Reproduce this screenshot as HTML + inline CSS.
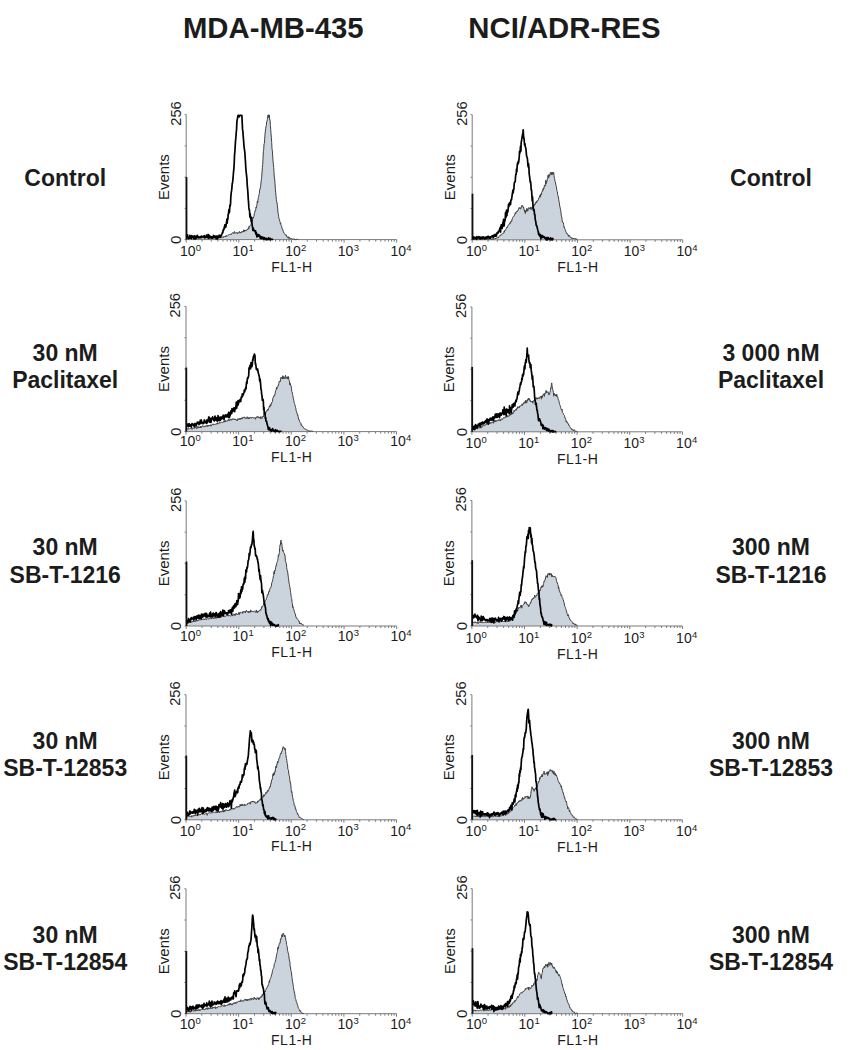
<!DOCTYPE html>
<html><head><meta charset="utf-8"><style>
html,body{margin:0;padding:0;background:#fff;}
svg{display:block;font-family:"Liberation Sans",sans-serif;}
</style></head><body>
<svg width="860" height="1050" viewBox="0 0 860 1050">
<rect width="860" height="1050" fill="#fff"/>
<text x="273.3" y="38" text-anchor="middle" font-size="29.3" font-weight="bold" fill="#1c1c1c">MDA-MB-435</text>
<text x="564.4" y="38" text-anchor="middle" font-size="29.3" font-weight="bold" fill="#1c1c1c">NCI/ADR-RES</text>
<path d="M186.70,239.6 L186.70,238.00 L187.03,238.28 L187.37,238.01 L187.70,237.97 L188.03,237.72 L188.37,237.98 L188.70,238.46 L189.03,238.19 L189.37,238.41 L189.70,238.10 L190.03,238.14 L190.37,238.05 L190.70,237.33 L191.03,238.27 L191.37,238.13 L191.70,238.11 L192.03,237.27 L192.37,237.23 L192.70,237.55 L193.03,237.69 L193.37,237.97 L193.70,237.83 L194.03,238.03 L194.37,237.57 L194.70,237.92 L195.03,237.94 L195.37,237.52 L195.70,238.43 L196.03,237.97 L196.37,238.20 L196.70,237.48 L197.03,237.42 L197.37,237.56 L197.70,237.64 L198.03,237.92 L198.37,237.77 L198.70,237.50 L199.03,237.30 L199.37,237.47 L199.70,238.15 L200.03,237.36 L200.37,237.77 L200.70,237.84 L201.03,237.10 L201.37,237.69 L201.70,238.18 L202.03,236.89 L202.37,237.55 L202.70,237.63 L203.03,237.36 L203.37,237.87 L203.70,237.65 L204.03,237.11 L204.37,238.00 L204.70,237.93 L205.03,238.04 L205.37,238.23 L205.70,237.82 L206.03,237.72 L206.37,237.17 L206.70,237.91 L207.03,237.44 L207.37,237.50 L207.70,237.18 L208.03,237.30 L208.37,237.47 L208.70,238.18 L209.03,236.88 L209.37,237.11 L209.70,237.77 L210.03,238.24 L210.37,237.90 L210.70,236.94 L211.03,236.70 L211.37,237.81 L211.70,237.39 L212.03,237.23 L212.37,238.04 L212.70,238.07 L213.03,237.69 L213.37,237.71 L213.70,237.77 L214.03,238.21 L214.37,237.81 L214.70,237.76 L215.03,237.76 L215.37,236.91 L215.70,238.02 L216.03,237.87 L216.37,237.69 L216.70,236.69 L217.03,237.20 L217.37,237.77 L217.70,236.71 L218.03,237.34 L218.37,237.80 L218.70,236.86 L219.03,238.01 L219.37,237.58 L219.70,237.28 L220.03,237.46 L220.37,237.57 L220.70,237.35 L221.03,237.74 L221.37,237.00 L221.70,237.08 L222.03,237.59 L222.37,237.11 L222.70,236.65 L223.03,237.33 L223.37,237.47 L223.70,236.60 L224.03,236.13 L224.37,236.57 L224.70,236.49 L225.03,236.34 L225.37,237.00 L225.70,235.87 L226.03,236.74 L226.37,235.47 L226.70,235.51 L227.03,235.98 L227.37,236.04 L227.70,235.75 L228.03,235.35 L228.37,235.09 L228.70,234.93 L229.03,234.96 L229.37,234.44 L229.70,234.49 L230.03,234.47 L230.37,234.03 L230.70,234.23 L231.03,233.97 L231.37,234.52 L231.70,233.52 L232.03,232.98 L232.37,232.84 L232.70,232.85 L233.03,233.26 L233.37,232.62 L233.70,232.99 L234.03,233.73 L234.37,231.48 L234.70,232.22 L235.03,232.92 L235.37,232.99 L235.70,232.91 L236.03,232.57 L236.37,233.13 L236.70,232.93 L237.03,232.52 L237.37,234.03 L237.70,232.97 L238.03,232.51 L238.37,232.74 L238.70,232.68 L239.03,232.76 L239.37,231.40 L239.70,232.54 L240.03,233.22 L240.37,231.97 L240.70,232.40 L241.03,232.80 L241.37,232.62 L241.70,232.82 L242.03,231.01 L242.37,231.58 L242.70,231.45 L243.03,231.84 L243.37,231.96 L243.70,229.79 L244.03,231.69 L244.37,230.18 L244.70,231.21 L245.03,229.88 L245.37,230.67 L245.70,231.10 L246.03,230.22 L246.37,230.28 L246.70,230.48 L247.03,229.76 L247.37,229.18 L247.70,229.68 L248.03,228.96 L248.37,227.72 L248.70,229.10 L249.03,226.32 L249.37,227.12 L249.70,225.96 L250.03,225.76 L250.37,225.68 L250.70,224.93 L251.03,224.66 L251.37,222.25 L251.70,221.24 L252.03,221.67 L252.37,219.58 L252.70,218.53 L253.03,217.20 L253.37,218.16 L253.70,216.80 L254.03,216.17 L254.37,213.14 L254.70,212.63 L255.03,210.51 L255.37,210.79 L255.70,210.24 L256.03,207.01 L256.37,207.80 L256.70,206.12 L257.03,203.92 L257.37,201.16 L257.70,202.85 L258.03,200.13 L258.37,197.68 L258.70,196.58 L259.03,194.60 L259.37,193.62 L259.70,189.25 L260.03,189.32 L260.37,187.68 L260.70,185.66 L261.03,182.04 L261.37,179.46 L261.70,177.39 L262.03,172.00 L262.37,167.57 L262.70,164.59 L263.03,158.24 L263.37,151.41 L263.70,149.53 L264.03,143.96 L264.37,143.45 L264.70,139.05 L265.03,134.10 L265.37,131.09 L265.70,128.80 L266.03,125.81 L266.37,125.47 L266.70,121.63 L267.03,121.11 L267.37,119.73 L267.70,117.90 L268.03,115.08 L268.37,117.64 L268.70,114.65 L269.03,115.86 L269.37,115.12 L269.70,119.67 L270.03,119.50 L270.37,125.36 L270.70,129.35 L271.03,133.78 L271.37,137.30 L271.70,142.55 L272.03,148.74 L272.37,151.07 L272.70,156.08 L273.03,161.05 L273.37,164.13 L273.70,167.42 L274.03,172.58 L274.37,178.06 L274.70,179.05 L275.03,183.91 L275.37,189.25 L275.70,192.80 L276.03,195.84 L276.37,199.42 L276.70,201.51 L277.03,203.04 L277.37,205.41 L277.70,208.86 L278.03,212.75 L278.37,214.28 L278.70,216.72 L279.03,218.75 L279.37,219.23 L279.70,221.21 L280.03,221.50 L280.37,223.52 L280.70,222.77 L281.03,225.49 L281.37,225.89 L281.70,226.12 L282.03,228.71 L282.37,229.13 L282.70,229.05 L283.03,230.81 L283.37,231.95 L283.70,232.00 L284.03,233.08 L284.37,233.50 L284.70,233.90 L285.03,234.17 L285.37,235.09 L285.70,235.21 L286.03,235.55 L286.37,234.86 L286.70,236.62 L287.03,237.23 L287.37,236.90 L287.70,236.95 L288.03,238.05 L288.37,236.69 L288.70,237.70 L289.03,238.59 L289.37,237.41 L289.70,238.16 L290.03,238.73 L290.37,238.10 L290.70,238.47 L291.03,238.72 L291.37,238.20 L291.70,238.61 L292.03,238.87 L292.37,239.17 L292.70,239.01 L293.03,239.02 L293.37,238.78 L293.70,239.02 L294.03,239.44 L294.37,239.22 L294.70,238.94 L295.03,238.97 L295.37,239.60 L295.70,239.60 L296.03,239.31 L296.37,239.33 L296.70,239.36 L297.03,239.38 L297.37,239.41 L297.70,239.43 L298.03,239.46 L298.37,239.48 L298.37,239.6 Z" fill="#cbd3dd" stroke="none"/>
<line x1="186.2" y1="114.65" x2="186.2" y2="239.6" stroke="#7a7a7a" stroke-width="1"/>
<line x1="184.6" y1="114.65" x2="186.2" y2="114.65" stroke="#7a7a7a" stroke-width="1"/>
<line x1="184.6" y1="145.89" x2="186.2" y2="145.89" stroke="#7a7a7a" stroke-width="1"/>
<line x1="184.6" y1="177.12" x2="186.2" y2="177.12" stroke="#7a7a7a" stroke-width="1"/>
<line x1="184.6" y1="208.36" x2="186.2" y2="208.36" stroke="#7a7a7a" stroke-width="1"/>
<line x1="184.6" y1="239.60" x2="186.2" y2="239.60" stroke="#7a7a7a" stroke-width="1"/>
<line x1="186.2" y1="239.6" x2="396.7" y2="239.6" stroke="#7a7a7a" stroke-width="1"/>
<line x1="186.20" y1="239.6" x2="186.20" y2="242.6" stroke="#7a7a7a" stroke-width="1"/>
<line x1="202.04" y1="239.6" x2="202.04" y2="241.6" stroke="#7a7a7a" stroke-width="1"/>
<line x1="211.31" y1="239.6" x2="211.31" y2="241.6" stroke="#7a7a7a" stroke-width="1"/>
<line x1="217.88" y1="239.6" x2="217.88" y2="241.6" stroke="#7a7a7a" stroke-width="1"/>
<line x1="222.98" y1="239.6" x2="222.98" y2="241.6" stroke="#7a7a7a" stroke-width="1"/>
<line x1="227.15" y1="239.6" x2="227.15" y2="241.6" stroke="#7a7a7a" stroke-width="1"/>
<line x1="230.67" y1="239.6" x2="230.67" y2="241.6" stroke="#7a7a7a" stroke-width="1"/>
<line x1="233.73" y1="239.6" x2="233.73" y2="241.6" stroke="#7a7a7a" stroke-width="1"/>
<line x1="236.42" y1="239.6" x2="236.42" y2="241.6" stroke="#7a7a7a" stroke-width="1"/>
<line x1="238.82" y1="239.6" x2="238.82" y2="242.6" stroke="#7a7a7a" stroke-width="1"/>
<line x1="254.67" y1="239.6" x2="254.67" y2="241.6" stroke="#7a7a7a" stroke-width="1"/>
<line x1="263.93" y1="239.6" x2="263.93" y2="241.6" stroke="#7a7a7a" stroke-width="1"/>
<line x1="270.51" y1="239.6" x2="270.51" y2="241.6" stroke="#7a7a7a" stroke-width="1"/>
<line x1="275.61" y1="239.6" x2="275.61" y2="241.6" stroke="#7a7a7a" stroke-width="1"/>
<line x1="279.78" y1="239.6" x2="279.78" y2="241.6" stroke="#7a7a7a" stroke-width="1"/>
<line x1="283.30" y1="239.6" x2="283.30" y2="241.6" stroke="#7a7a7a" stroke-width="1"/>
<line x1="286.35" y1="239.6" x2="286.35" y2="241.6" stroke="#7a7a7a" stroke-width="1"/>
<line x1="289.04" y1="239.6" x2="289.04" y2="241.6" stroke="#7a7a7a" stroke-width="1"/>
<line x1="291.45" y1="239.6" x2="291.45" y2="242.6" stroke="#7a7a7a" stroke-width="1"/>
<line x1="307.29" y1="239.6" x2="307.29" y2="241.6" stroke="#7a7a7a" stroke-width="1"/>
<line x1="316.56" y1="239.6" x2="316.56" y2="241.6" stroke="#7a7a7a" stroke-width="1"/>
<line x1="323.13" y1="239.6" x2="323.13" y2="241.6" stroke="#7a7a7a" stroke-width="1"/>
<line x1="328.23" y1="239.6" x2="328.23" y2="241.6" stroke="#7a7a7a" stroke-width="1"/>
<line x1="332.40" y1="239.6" x2="332.40" y2="241.6" stroke="#7a7a7a" stroke-width="1"/>
<line x1="335.92" y1="239.6" x2="335.92" y2="241.6" stroke="#7a7a7a" stroke-width="1"/>
<line x1="338.98" y1="239.6" x2="338.98" y2="241.6" stroke="#7a7a7a" stroke-width="1"/>
<line x1="341.67" y1="239.6" x2="341.67" y2="241.6" stroke="#7a7a7a" stroke-width="1"/>
<line x1="344.07" y1="239.6" x2="344.07" y2="242.6" stroke="#7a7a7a" stroke-width="1"/>
<line x1="359.92" y1="239.6" x2="359.92" y2="241.6" stroke="#7a7a7a" stroke-width="1"/>
<line x1="369.18" y1="239.6" x2="369.18" y2="241.6" stroke="#7a7a7a" stroke-width="1"/>
<line x1="375.76" y1="239.6" x2="375.76" y2="241.6" stroke="#7a7a7a" stroke-width="1"/>
<line x1="380.86" y1="239.6" x2="380.86" y2="241.6" stroke="#7a7a7a" stroke-width="1"/>
<line x1="385.03" y1="239.6" x2="385.03" y2="241.6" stroke="#7a7a7a" stroke-width="1"/>
<line x1="388.55" y1="239.6" x2="388.55" y2="241.6" stroke="#7a7a7a" stroke-width="1"/>
<line x1="391.60" y1="239.6" x2="391.60" y2="241.6" stroke="#7a7a7a" stroke-width="1"/>
<line x1="394.29" y1="239.6" x2="394.29" y2="241.6" stroke="#7a7a7a" stroke-width="1"/>
<line x1="396.70" y1="239.6" x2="396.70" y2="242.6" stroke="#7a7a7a" stroke-width="1"/>
<text transform="translate(180.5,113.55000000000001) rotate(-90)" text-anchor="middle" font-size="14.6" fill="#1c1c1c">256</text>
<text transform="translate(180.89999999999998,239.79999999999998) rotate(-90)" text-anchor="middle" font-size="15" fill="#1c1c1c">0</text>
<text transform="translate(168.7,177.125) rotate(-90)" text-anchor="middle" font-size="15" fill="#1c1c1c">Events</text>
<text x="179.90" y="256.10" font-size="14" fill="#1c1c1c">10<tspan font-size="9.5" dy="-5.3" dx="0.3">0</tspan></text>
<text x="232.52" y="256.10" font-size="14" fill="#1c1c1c">10<tspan font-size="9.5" dy="-5.3" dx="0.3">1</tspan></text>
<text x="285.15" y="256.10" font-size="14" fill="#1c1c1c">10<tspan font-size="9.5" dy="-5.3" dx="0.3">2</tspan></text>
<text x="337.77" y="256.10" font-size="14" fill="#1c1c1c">10<tspan font-size="9.5" dy="-5.3" dx="0.3">3</tspan></text>
<text x="390.40" y="256.10" font-size="14" fill="#1c1c1c">10<tspan font-size="9.5" dy="-5.3" dx="0.3">4</tspan></text>
<text x="291.95" y="271.80" text-anchor="middle" font-size="14" letter-spacing="0.5" fill="#1c1c1c">FL1-H</text>
<path d="M186.70,238.00 L187.03,238.28 L187.37,238.01 L187.70,237.97 L188.03,237.72 L188.37,237.98 L188.70,238.46 L189.03,238.19 L189.37,238.41 L189.70,238.10 L190.03,238.14 L190.37,238.05 L190.70,237.33 L191.03,238.27 L191.37,238.13 L191.70,238.11 L192.03,237.27 L192.37,237.23 L192.70,237.55 L193.03,237.69 L193.37,237.97 L193.70,237.83 L194.03,238.03 L194.37,237.57 L194.70,237.92 L195.03,237.94 L195.37,237.52 L195.70,238.43 L196.03,237.97 L196.37,238.20 L196.70,237.48 L197.03,237.42 L197.37,237.56 L197.70,237.64 L198.03,237.92 L198.37,237.77 L198.70,237.50 L199.03,237.30 L199.37,237.47 L199.70,238.15 L200.03,237.36 L200.37,237.77 L200.70,237.84 L201.03,237.10 L201.37,237.69 L201.70,238.18 L202.03,236.89 L202.37,237.55 L202.70,237.63 L203.03,237.36 L203.37,237.87 L203.70,237.65 L204.03,237.11 L204.37,238.00 L204.70,237.93 L205.03,238.04 L205.37,238.23 L205.70,237.82 L206.03,237.72 L206.37,237.17 L206.70,237.91 L207.03,237.44 L207.37,237.50 L207.70,237.18 L208.03,237.30 L208.37,237.47 L208.70,238.18 L209.03,236.88 L209.37,237.11 L209.70,237.77 L210.03,238.24 L210.37,237.90 L210.70,236.94 L211.03,236.70 L211.37,237.81 L211.70,237.39 L212.03,237.23 L212.37,238.04 L212.70,238.07 L213.03,237.69 L213.37,237.71 L213.70,237.77 L214.03,238.21 L214.37,237.81 L214.70,237.76 L215.03,237.76 L215.37,236.91 L215.70,238.02 L216.03,237.87 L216.37,237.69 L216.70,236.69 L217.03,237.20 L217.37,237.77 L217.70,236.71 L218.03,237.34 L218.37,237.80 L218.70,236.86 L219.03,238.01 L219.37,237.58 L219.70,237.28 L220.03,237.46 L220.37,237.57 L220.70,237.35 L221.03,237.74 L221.37,237.00 L221.70,237.08 L222.03,237.59 L222.37,237.11 L222.70,236.65 L223.03,237.33 L223.37,237.47 L223.70,236.60 L224.03,236.13 L224.37,236.57 L224.70,236.49 L225.03,236.34 L225.37,237.00 L225.70,235.87 L226.03,236.74 L226.37,235.47 L226.70,235.51 L227.03,235.98 L227.37,236.04 L227.70,235.75 L228.03,235.35 L228.37,235.09 L228.70,234.93 L229.03,234.96 L229.37,234.44 L229.70,234.49 L230.03,234.47 L230.37,234.03 L230.70,234.23 L231.03,233.97 L231.37,234.52 L231.70,233.52 L232.03,232.98 L232.37,232.84 L232.70,232.85 L233.03,233.26 L233.37,232.62 L233.70,232.99 L234.03,233.73 L234.37,231.48 L234.70,232.22 L235.03,232.92 L235.37,232.99 L235.70,232.91 L236.03,232.57 L236.37,233.13 L236.70,232.93 L237.03,232.52 L237.37,234.03 L237.70,232.97 L238.03,232.51 L238.37,232.74 L238.70,232.68 L239.03,232.76 L239.37,231.40 L239.70,232.54 L240.03,233.22 L240.37,231.97 L240.70,232.40 L241.03,232.80 L241.37,232.62 L241.70,232.82 L242.03,231.01 L242.37,231.58 L242.70,231.45 L243.03,231.84 L243.37,231.96 L243.70,229.79 L244.03,231.69 L244.37,230.18 L244.70,231.21 L245.03,229.88 L245.37,230.67 L245.70,231.10 L246.03,230.22 L246.37,230.28 L246.70,230.48 L247.03,229.76 L247.37,229.18 L247.70,229.68 L248.03,228.96 L248.37,227.72 L248.70,229.10 L249.03,226.32 L249.37,227.12 L249.70,225.96 L250.03,225.76 L250.37,225.68 L250.70,224.93 L251.03,224.66 L251.37,222.25 L251.70,221.24 L252.03,221.67 L252.37,219.58 L252.70,218.53 L253.03,217.20 L253.37,218.16 L253.70,216.80 L254.03,216.17 L254.37,213.14 L254.70,212.63 L255.03,210.51 L255.37,210.79 L255.70,210.24 L256.03,207.01 L256.37,207.80 L256.70,206.12 L257.03,203.92 L257.37,201.16 L257.70,202.85 L258.03,200.13 L258.37,197.68 L258.70,196.58 L259.03,194.60 L259.37,193.62 L259.70,189.25 L260.03,189.32 L260.37,187.68 L260.70,185.66 L261.03,182.04 L261.37,179.46 L261.70,177.39 L262.03,172.00 L262.37,167.57 L262.70,164.59 L263.03,158.24 L263.37,151.41 L263.70,149.53 L264.03,143.96 L264.37,143.45 L264.70,139.05 L265.03,134.10 L265.37,131.09 L265.70,128.80 L266.03,125.81 L266.37,125.47 L266.70,121.63 L267.03,121.11 L267.37,119.73 L267.70,117.90 L268.03,115.08 L268.37,117.64 L268.70,114.65 L269.03,115.86 L269.37,115.12 L269.70,119.67 L270.03,119.50 L270.37,125.36 L270.70,129.35 L271.03,133.78 L271.37,137.30 L271.70,142.55 L272.03,148.74 L272.37,151.07 L272.70,156.08 L273.03,161.05 L273.37,164.13 L273.70,167.42 L274.03,172.58 L274.37,178.06 L274.70,179.05 L275.03,183.91 L275.37,189.25 L275.70,192.80 L276.03,195.84 L276.37,199.42 L276.70,201.51 L277.03,203.04 L277.37,205.41 L277.70,208.86 L278.03,212.75 L278.37,214.28 L278.70,216.72 L279.03,218.75 L279.37,219.23 L279.70,221.21 L280.03,221.50 L280.37,223.52 L280.70,222.77 L281.03,225.49 L281.37,225.89 L281.70,226.12 L282.03,228.71 L282.37,229.13 L282.70,229.05 L283.03,230.81 L283.37,231.95 L283.70,232.00 L284.03,233.08 L284.37,233.50 L284.70,233.90 L285.03,234.17 L285.37,235.09 L285.70,235.21 L286.03,235.55 L286.37,234.86 L286.70,236.62 L287.03,237.23 L287.37,236.90 L287.70,236.95 L288.03,238.05 L288.37,236.69 L288.70,237.70 L289.03,238.59 L289.37,237.41 L289.70,238.16 L290.03,238.73 L290.37,238.10 L290.70,238.47 L291.03,238.72 L291.37,238.20 L291.70,238.61 L292.03,238.87 L292.37,239.17 L292.70,239.01 L293.03,239.02 L293.37,238.78 L293.70,239.02 L294.03,239.44 L294.37,239.22 L294.70,238.94 L295.03,238.97 L295.37,239.60 L295.70,239.60 L296.03,239.31 L296.37,239.33 L296.70,239.36 L297.03,239.38 L297.37,239.41 L297.70,239.43 L298.03,239.46 L298.37,239.48" fill="none" stroke="#404040" stroke-width="1.0" stroke-linejoin="round"/>
<line x1="186.50" y1="239.6" x2="186.50" y2="176.98" stroke="#111" stroke-width="1.8"/>
<path d="M187.20,237.82 L187.53,234.85 L187.87,237.77 L188.20,237.63 L188.53,238.71 L188.87,237.55 L189.20,237.07 L189.53,237.60 L189.87,235.31 L190.20,238.04 L190.53,237.37 L190.87,236.40 L191.20,238.27 L191.53,238.70 L191.87,235.69 L192.20,236.36 L192.53,237.26 L192.87,237.17 L193.20,236.65 L193.53,236.13 L193.87,239.02 L194.20,238.03 L194.53,235.98 L194.87,235.86 L195.20,238.69 L195.53,238.05 L195.87,238.83 L196.20,237.91 L196.53,236.39 L196.87,237.44 L197.20,235.25 L197.53,236.55 L197.87,237.20 L198.20,237.71 L198.53,236.53 L198.87,237.05 L199.20,237.55 L199.53,237.45 L199.87,237.66 L200.20,237.23 L200.53,236.70 L200.87,237.70 L201.20,236.98 L201.53,236.12 L201.87,236.27 L202.20,236.83 L202.53,236.69 L202.87,236.91 L203.20,236.73 L203.53,236.87 L203.87,236.59 L204.20,235.53 L204.53,237.15 L204.87,237.77 L205.20,237.20 L205.53,236.62 L205.87,237.24 L206.20,235.91 L206.53,235.05 L206.87,236.92 L207.20,236.00 L207.53,237.60 L207.87,235.89 L208.20,234.46 L208.53,235.97 L208.87,238.44 L209.20,236.61 L209.53,235.65 L209.87,236.18 L210.20,237.36 L210.53,237.31 L210.87,236.97 L211.20,238.19 L211.53,237.41 L211.87,236.68 L212.20,237.24 L212.53,238.23 L212.87,237.54 L213.20,237.56 L213.53,235.48 L213.87,236.36 L214.20,237.18 L214.53,236.14 L214.87,237.47 L215.20,236.99 L215.53,237.29 L215.87,236.18 L216.20,238.90 L216.53,237.60 L216.87,236.15 L217.20,236.45 L217.53,238.92 L217.87,236.00 L218.20,237.20 L218.53,237.30 L218.87,236.32 L219.20,235.15 L219.53,236.48 L219.87,236.65 L220.20,237.41 L220.53,236.70 L220.87,235.42 L221.20,235.84 L221.53,235.01 L221.87,234.04 L222.20,233.20 L222.53,232.16 L222.87,232.69 L223.20,229.74 L223.53,229.62 L223.87,229.81 L224.20,227.06 L224.53,227.84 L224.87,224.83 L225.20,226.10 L225.53,227.34 L225.87,226.67 L226.20,224.25 L226.53,222.51 L226.87,219.01 L227.20,223.26 L227.53,219.49 L227.87,219.09 L228.20,214.09 L228.53,213.90 L228.87,209.51 L229.20,212.75 L229.53,211.58 L229.87,205.04 L230.20,206.05 L230.53,203.94 L230.87,196.30 L231.20,192.85 L231.53,190.89 L231.87,188.34 L232.20,183.61 L232.53,182.86 L232.87,179.82 L233.20,176.07 L233.53,171.75 L233.87,168.75 L234.20,163.69 L234.53,154.79 L234.87,151.80 L235.20,145.91 L235.53,140.88 L235.87,137.67 L236.20,132.82 L236.53,129.63 L236.87,122.39 L237.20,119.52 L237.53,118.21 L237.87,115.77 L238.20,115.45 L238.53,115.47 L238.87,115.45 L239.20,116.84 L239.53,116.22 L239.87,115.45 L240.20,115.45 L240.53,115.45 L240.87,115.45 L241.20,115.45 L241.53,115.65 L241.87,115.45 L242.20,122.39 L242.53,129.63 L242.87,131.07 L243.20,136.43 L243.53,139.65 L243.87,144.38 L244.20,147.99 L244.53,150.15 L244.87,152.58 L245.20,158.30 L245.53,162.88 L245.87,168.77 L246.20,172.42 L246.53,175.04 L246.87,178.34 L247.20,184.55 L247.53,188.34 L247.87,192.11 L248.20,198.35 L248.53,202.12 L248.87,207.64 L249.20,210.26 L249.53,210.31 L249.87,216.97 L250.20,213.94 L250.53,218.24 L250.87,218.20 L251.20,221.71 L251.53,217.35 L251.87,221.93 L252.20,225.31 L252.53,227.07 L252.87,230.36 L253.20,227.95 L253.53,230.01 L253.87,229.90 L254.20,230.80 L254.53,230.84 L254.87,230.59 L255.20,232.13 L255.53,230.77 L255.87,234.26 L256.20,232.26 L256.53,234.42 L256.87,236.79 L257.20,234.34 L257.53,234.82 L257.87,236.28 L258.20,235.24 L258.53,234.56 L258.87,235.90 L259.20,236.44 L259.53,236.77 L259.87,235.48 L260.20,238.18 L260.53,238.28 L260.87,236.90 L261.20,237.34 L261.53,236.91 L261.87,238.75 L262.20,237.08 L262.53,238.35 L262.87,237.45 L263.20,237.36 L263.53,238.62 L263.87,239.20 L264.20,238.18 L264.53,237.73 L264.87,238.99 L265.20,238.40 L265.53,238.76 L265.87,239.60 L266.20,239.52 L266.53,238.40 L266.87,239.60 L267.20,238.94 L267.53,239.56 L267.87,238.65 L268.20,239.08 L268.53,237.98 L268.87,239.60 L269.20,239.60 L269.53,238.43 L269.87,238.28 L270.20,238.24 L270.53,239.60 L270.87,239.31 L271.20,239.33 L271.53,239.36 L271.87,239.38 L272.20,239.41 L272.53,239.43 L272.87,239.46 L273.20,239.48" fill="none" stroke="#000" stroke-width="1.7" stroke-linejoin="round"/>
<path d="M472.70,239.8 L472.70,239.20 L473.03,239.80 L473.37,239.44 L473.70,239.44 L474.03,239.29 L474.37,239.20 L474.70,239.30 L475.03,239.07 L475.37,238.84 L475.70,238.78 L476.03,238.69 L476.37,239.18 L476.70,239.29 L477.03,239.66 L477.37,239.28 L477.70,239.20 L478.03,239.33 L478.37,239.10 L478.70,238.46 L479.03,239.47 L479.37,238.95 L479.70,239.18 L480.03,239.02 L480.37,239.80 L480.70,239.50 L481.03,239.25 L481.37,238.72 L481.70,239.41 L482.03,238.80 L482.37,239.51 L482.70,238.58 L483.03,239.08 L483.37,239.43 L483.70,238.81 L484.03,239.15 L484.37,239.17 L484.70,239.44 L485.03,238.94 L485.37,239.35 L485.70,239.80 L486.03,238.59 L486.37,238.81 L486.70,239.27 L487.03,238.88 L487.37,238.64 L487.70,239.61 L488.03,239.45 L488.37,239.50 L488.70,239.49 L489.03,239.37 L489.37,238.83 L489.70,238.29 L490.03,239.29 L490.37,238.74 L490.70,239.13 L491.03,239.25 L491.37,238.68 L491.70,239.00 L492.03,239.72 L492.37,239.38 L492.70,238.55 L493.03,239.05 L493.37,239.12 L493.70,239.32 L494.03,239.28 L494.37,238.88 L494.70,238.70 L495.03,239.01 L495.37,238.03 L495.70,238.90 L496.03,238.48 L496.37,238.04 L496.70,237.89 L497.03,238.11 L497.37,237.31 L497.70,236.83 L498.03,237.77 L498.37,237.94 L498.70,236.96 L499.03,236.76 L499.37,236.43 L499.70,235.70 L500.03,236.05 L500.37,235.95 L500.70,235.29 L501.03,235.42 L501.37,234.18 L501.70,234.52 L502.03,233.72 L502.37,233.56 L502.70,233.66 L503.03,233.31 L503.37,233.39 L503.70,232.87 L504.03,231.36 L504.37,232.23 L504.70,230.12 L505.03,230.45 L505.37,230.17 L505.70,229.45 L506.03,229.29 L506.37,228.51 L506.70,227.39 L507.03,227.99 L507.37,226.95 L507.70,225.90 L508.03,226.02 L508.37,225.46 L508.70,225.20 L509.03,224.10 L509.37,224.02 L509.70,223.20 L510.03,223.82 L510.37,221.90 L510.70,222.46 L511.03,220.93 L511.37,221.20 L511.70,221.47 L512.03,218.96 L512.37,218.76 L512.70,217.40 L513.03,216.96 L513.37,216.48 L513.70,216.39 L514.03,216.44 L514.37,215.83 L514.70,214.21 L515.03,214.26 L515.37,212.56 L515.70,213.71 L516.03,212.62 L516.37,211.51 L516.70,211.34 L517.03,211.93 L517.37,211.11 L517.70,211.10 L518.03,209.78 L518.37,209.82 L518.70,209.06 L519.03,207.64 L519.37,208.46 L519.70,208.19 L520.03,207.43 L520.37,208.36 L520.70,209.19 L521.03,208.30 L521.37,206.85 L521.70,205.54 L522.03,206.06 L522.37,205.38 L522.70,205.75 L523.03,207.35 L523.37,207.18 L523.70,206.94 L524.03,210.10 L524.37,209.92 L524.70,211.85 L525.03,210.94 L525.37,213.64 L525.70,210.42 L526.03,211.24 L526.37,211.51 L526.70,208.52 L527.03,209.69 L527.37,208.77 L527.70,211.18 L528.03,210.10 L528.37,208.48 L528.70,207.61 L529.03,207.50 L529.37,208.96 L529.70,208.04 L530.03,208.90 L530.37,208.04 L530.70,206.97 L531.03,209.75 L531.37,208.55 L531.70,207.46 L532.03,207.64 L532.37,208.90 L532.70,208.39 L533.03,206.25 L533.37,207.98 L533.70,205.70 L534.03,206.18 L534.37,204.12 L534.70,204.04 L535.03,204.77 L535.37,202.51 L535.70,203.09 L536.03,202.84 L536.37,201.37 L536.70,202.70 L537.03,201.48 L537.37,200.23 L537.70,200.73 L538.03,200.52 L538.37,199.88 L538.70,198.11 L539.03,198.42 L539.37,197.51 L539.70,195.61 L540.03,195.65 L540.37,197.21 L540.70,193.90 L541.03,194.44 L541.37,194.92 L541.70,192.29 L542.03,191.97 L542.37,190.60 L542.70,191.14 L543.03,188.79 L543.37,189.76 L543.70,187.84 L544.03,188.26 L544.37,185.34 L544.70,185.06 L545.03,186.19 L545.37,184.96 L545.70,180.38 L546.03,184.14 L546.37,180.85 L546.70,181.73 L547.03,180.99 L547.37,178.86 L547.70,177.74 L548.03,175.22 L548.37,177.13 L548.70,178.11 L549.03,174.30 L549.37,176.34 L549.70,175.43 L550.03,175.16 L550.37,172.48 L550.70,173.01 L551.03,173.11 L551.37,174.86 L551.70,172.16 L552.03,172.76 L552.37,172.67 L552.70,174.60 L553.03,172.12 L553.37,173.78 L553.70,172.76 L554.03,175.38 L554.37,178.21 L554.70,178.51 L555.03,181.46 L555.37,181.92 L555.70,184.02 L556.03,185.59 L556.37,186.53 L556.70,189.48 L557.03,191.36 L557.37,191.65 L557.70,194.71 L558.03,195.83 L558.37,197.01 L558.70,199.21 L559.03,201.47 L559.37,203.15 L559.70,205.93 L560.03,207.05 L560.37,209.18 L560.70,209.97 L561.03,212.92 L561.37,215.94 L561.70,216.86 L562.03,219.18 L562.37,222.30 L562.70,221.99 L563.03,222.30 L563.37,222.65 L563.70,224.48 L564.03,227.49 L564.37,227.03 L564.70,228.41 L565.03,229.43 L565.37,229.77 L565.70,231.24 L566.03,232.07 L566.37,232.71 L566.70,233.79 L567.03,233.24 L567.37,233.68 L567.70,234.12 L568.03,235.41 L568.37,234.99 L568.70,236.43 L569.03,235.39 L569.37,235.95 L569.70,235.65 L570.03,236.78 L570.37,237.58 L570.70,238.00 L571.03,237.42 L571.37,237.70 L571.70,238.54 L572.03,237.89 L572.37,238.20 L572.70,238.49 L573.03,237.97 L573.37,238.88 L573.70,238.44 L574.03,238.88 L574.37,238.58 L574.70,238.86 L575.03,239.28 L575.37,239.02 L575.70,238.41 L576.03,239.02 L576.37,239.07 L576.70,239.23 L577.03,239.43 L577.37,238.96 L577.37,239.8 Z" fill="#cbd3dd" stroke="none"/>
<line x1="472.2" y1="114.7" x2="472.2" y2="239.8" stroke="#7a7a7a" stroke-width="1"/>
<line x1="470.59999999999997" y1="114.70" x2="472.2" y2="114.70" stroke="#7a7a7a" stroke-width="1"/>
<line x1="470.59999999999997" y1="145.97" x2="472.2" y2="145.97" stroke="#7a7a7a" stroke-width="1"/>
<line x1="470.59999999999997" y1="177.25" x2="472.2" y2="177.25" stroke="#7a7a7a" stroke-width="1"/>
<line x1="470.59999999999997" y1="208.53" x2="472.2" y2="208.53" stroke="#7a7a7a" stroke-width="1"/>
<line x1="470.59999999999997" y1="239.80" x2="472.2" y2="239.80" stroke="#7a7a7a" stroke-width="1"/>
<line x1="472.2" y1="239.8" x2="682.7" y2="239.8" stroke="#7a7a7a" stroke-width="1"/>
<line x1="472.20" y1="239.8" x2="472.20" y2="242.8" stroke="#7a7a7a" stroke-width="1"/>
<line x1="488.04" y1="239.8" x2="488.04" y2="241.8" stroke="#7a7a7a" stroke-width="1"/>
<line x1="497.31" y1="239.8" x2="497.31" y2="241.8" stroke="#7a7a7a" stroke-width="1"/>
<line x1="503.88" y1="239.8" x2="503.88" y2="241.8" stroke="#7a7a7a" stroke-width="1"/>
<line x1="508.98" y1="239.8" x2="508.98" y2="241.8" stroke="#7a7a7a" stroke-width="1"/>
<line x1="513.15" y1="239.8" x2="513.15" y2="241.8" stroke="#7a7a7a" stroke-width="1"/>
<line x1="516.67" y1="239.8" x2="516.67" y2="241.8" stroke="#7a7a7a" stroke-width="1"/>
<line x1="519.73" y1="239.8" x2="519.73" y2="241.8" stroke="#7a7a7a" stroke-width="1"/>
<line x1="522.42" y1="239.8" x2="522.42" y2="241.8" stroke="#7a7a7a" stroke-width="1"/>
<line x1="524.83" y1="239.8" x2="524.83" y2="242.8" stroke="#7a7a7a" stroke-width="1"/>
<line x1="540.67" y1="239.8" x2="540.67" y2="241.8" stroke="#7a7a7a" stroke-width="1"/>
<line x1="549.93" y1="239.8" x2="549.93" y2="241.8" stroke="#7a7a7a" stroke-width="1"/>
<line x1="556.51" y1="239.8" x2="556.51" y2="241.8" stroke="#7a7a7a" stroke-width="1"/>
<line x1="561.61" y1="239.8" x2="561.61" y2="241.8" stroke="#7a7a7a" stroke-width="1"/>
<line x1="565.78" y1="239.8" x2="565.78" y2="241.8" stroke="#7a7a7a" stroke-width="1"/>
<line x1="569.30" y1="239.8" x2="569.30" y2="241.8" stroke="#7a7a7a" stroke-width="1"/>
<line x1="572.35" y1="239.8" x2="572.35" y2="241.8" stroke="#7a7a7a" stroke-width="1"/>
<line x1="575.04" y1="239.8" x2="575.04" y2="241.8" stroke="#7a7a7a" stroke-width="1"/>
<line x1="577.45" y1="239.8" x2="577.45" y2="242.8" stroke="#7a7a7a" stroke-width="1"/>
<line x1="593.29" y1="239.8" x2="593.29" y2="241.8" stroke="#7a7a7a" stroke-width="1"/>
<line x1="602.56" y1="239.8" x2="602.56" y2="241.8" stroke="#7a7a7a" stroke-width="1"/>
<line x1="609.13" y1="239.8" x2="609.13" y2="241.8" stroke="#7a7a7a" stroke-width="1"/>
<line x1="614.23" y1="239.8" x2="614.23" y2="241.8" stroke="#7a7a7a" stroke-width="1"/>
<line x1="618.40" y1="239.8" x2="618.40" y2="241.8" stroke="#7a7a7a" stroke-width="1"/>
<line x1="621.92" y1="239.8" x2="621.92" y2="241.8" stroke="#7a7a7a" stroke-width="1"/>
<line x1="624.98" y1="239.8" x2="624.98" y2="241.8" stroke="#7a7a7a" stroke-width="1"/>
<line x1="627.67" y1="239.8" x2="627.67" y2="241.8" stroke="#7a7a7a" stroke-width="1"/>
<line x1="630.08" y1="239.8" x2="630.08" y2="242.8" stroke="#7a7a7a" stroke-width="1"/>
<line x1="645.92" y1="239.8" x2="645.92" y2="241.8" stroke="#7a7a7a" stroke-width="1"/>
<line x1="655.18" y1="239.8" x2="655.18" y2="241.8" stroke="#7a7a7a" stroke-width="1"/>
<line x1="661.76" y1="239.8" x2="661.76" y2="241.8" stroke="#7a7a7a" stroke-width="1"/>
<line x1="666.86" y1="239.8" x2="666.86" y2="241.8" stroke="#7a7a7a" stroke-width="1"/>
<line x1="671.03" y1="239.8" x2="671.03" y2="241.8" stroke="#7a7a7a" stroke-width="1"/>
<line x1="674.55" y1="239.8" x2="674.55" y2="241.8" stroke="#7a7a7a" stroke-width="1"/>
<line x1="677.60" y1="239.8" x2="677.60" y2="241.8" stroke="#7a7a7a" stroke-width="1"/>
<line x1="680.29" y1="239.8" x2="680.29" y2="241.8" stroke="#7a7a7a" stroke-width="1"/>
<line x1="682.70" y1="239.8" x2="682.70" y2="242.8" stroke="#7a7a7a" stroke-width="1"/>
<text transform="translate(466.5,113.60000000000001) rotate(-90)" text-anchor="middle" font-size="14.6" fill="#1c1c1c">256</text>
<text transform="translate(466.9,240.0) rotate(-90)" text-anchor="middle" font-size="15" fill="#1c1c1c">0</text>
<text transform="translate(454.7,177.25) rotate(-90)" text-anchor="middle" font-size="15" fill="#1c1c1c">Events</text>
<text x="465.90" y="256.10" font-size="14" fill="#1c1c1c">10<tspan font-size="9.5" dy="-5.3" dx="0.3">0</tspan></text>
<text x="518.53" y="256.10" font-size="14" fill="#1c1c1c">10<tspan font-size="9.5" dy="-5.3" dx="0.3">1</tspan></text>
<text x="571.15" y="256.10" font-size="14" fill="#1c1c1c">10<tspan font-size="9.5" dy="-5.3" dx="0.3">2</tspan></text>
<text x="623.78" y="256.10" font-size="14" fill="#1c1c1c">10<tspan font-size="9.5" dy="-5.3" dx="0.3">3</tspan></text>
<text x="676.40" y="256.10" font-size="14" fill="#1c1c1c">10<tspan font-size="9.5" dy="-5.3" dx="0.3">4</tspan></text>
<text x="577.95" y="271.80" text-anchor="middle" font-size="14" letter-spacing="0.5" fill="#1c1c1c">FL1-H</text>
<path d="M472.70,239.20 L473.03,239.80 L473.37,239.44 L473.70,239.44 L474.03,239.29 L474.37,239.20 L474.70,239.30 L475.03,239.07 L475.37,238.84 L475.70,238.78 L476.03,238.69 L476.37,239.18 L476.70,239.29 L477.03,239.66 L477.37,239.28 L477.70,239.20 L478.03,239.33 L478.37,239.10 L478.70,238.46 L479.03,239.47 L479.37,238.95 L479.70,239.18 L480.03,239.02 L480.37,239.80 L480.70,239.50 L481.03,239.25 L481.37,238.72 L481.70,239.41 L482.03,238.80 L482.37,239.51 L482.70,238.58 L483.03,239.08 L483.37,239.43 L483.70,238.81 L484.03,239.15 L484.37,239.17 L484.70,239.44 L485.03,238.94 L485.37,239.35 L485.70,239.80 L486.03,238.59 L486.37,238.81 L486.70,239.27 L487.03,238.88 L487.37,238.64 L487.70,239.61 L488.03,239.45 L488.37,239.50 L488.70,239.49 L489.03,239.37 L489.37,238.83 L489.70,238.29 L490.03,239.29 L490.37,238.74 L490.70,239.13 L491.03,239.25 L491.37,238.68 L491.70,239.00 L492.03,239.72 L492.37,239.38 L492.70,238.55 L493.03,239.05 L493.37,239.12 L493.70,239.32 L494.03,239.28 L494.37,238.88 L494.70,238.70 L495.03,239.01 L495.37,238.03 L495.70,238.90 L496.03,238.48 L496.37,238.04 L496.70,237.89 L497.03,238.11 L497.37,237.31 L497.70,236.83 L498.03,237.77 L498.37,237.94 L498.70,236.96 L499.03,236.76 L499.37,236.43 L499.70,235.70 L500.03,236.05 L500.37,235.95 L500.70,235.29 L501.03,235.42 L501.37,234.18 L501.70,234.52 L502.03,233.72 L502.37,233.56 L502.70,233.66 L503.03,233.31 L503.37,233.39 L503.70,232.87 L504.03,231.36 L504.37,232.23 L504.70,230.12 L505.03,230.45 L505.37,230.17 L505.70,229.45 L506.03,229.29 L506.37,228.51 L506.70,227.39 L507.03,227.99 L507.37,226.95 L507.70,225.90 L508.03,226.02 L508.37,225.46 L508.70,225.20 L509.03,224.10 L509.37,224.02 L509.70,223.20 L510.03,223.82 L510.37,221.90 L510.70,222.46 L511.03,220.93 L511.37,221.20 L511.70,221.47 L512.03,218.96 L512.37,218.76 L512.70,217.40 L513.03,216.96 L513.37,216.48 L513.70,216.39 L514.03,216.44 L514.37,215.83 L514.70,214.21 L515.03,214.26 L515.37,212.56 L515.70,213.71 L516.03,212.62 L516.37,211.51 L516.70,211.34 L517.03,211.93 L517.37,211.11 L517.70,211.10 L518.03,209.78 L518.37,209.82 L518.70,209.06 L519.03,207.64 L519.37,208.46 L519.70,208.19 L520.03,207.43 L520.37,208.36 L520.70,209.19 L521.03,208.30 L521.37,206.85 L521.70,205.54 L522.03,206.06 L522.37,205.38 L522.70,205.75 L523.03,207.35 L523.37,207.18 L523.70,206.94 L524.03,210.10 L524.37,209.92 L524.70,211.85 L525.03,210.94 L525.37,213.64 L525.70,210.42 L526.03,211.24 L526.37,211.51 L526.70,208.52 L527.03,209.69 L527.37,208.77 L527.70,211.18 L528.03,210.10 L528.37,208.48 L528.70,207.61 L529.03,207.50 L529.37,208.96 L529.70,208.04 L530.03,208.90 L530.37,208.04 L530.70,206.97 L531.03,209.75 L531.37,208.55 L531.70,207.46 L532.03,207.64 L532.37,208.90 L532.70,208.39 L533.03,206.25 L533.37,207.98 L533.70,205.70 L534.03,206.18 L534.37,204.12 L534.70,204.04 L535.03,204.77 L535.37,202.51 L535.70,203.09 L536.03,202.84 L536.37,201.37 L536.70,202.70 L537.03,201.48 L537.37,200.23 L537.70,200.73 L538.03,200.52 L538.37,199.88 L538.70,198.11 L539.03,198.42 L539.37,197.51 L539.70,195.61 L540.03,195.65 L540.37,197.21 L540.70,193.90 L541.03,194.44 L541.37,194.92 L541.70,192.29 L542.03,191.97 L542.37,190.60 L542.70,191.14 L543.03,188.79 L543.37,189.76 L543.70,187.84 L544.03,188.26 L544.37,185.34 L544.70,185.06 L545.03,186.19 L545.37,184.96 L545.70,180.38 L546.03,184.14 L546.37,180.85 L546.70,181.73 L547.03,180.99 L547.37,178.86 L547.70,177.74 L548.03,175.22 L548.37,177.13 L548.70,178.11 L549.03,174.30 L549.37,176.34 L549.70,175.43 L550.03,175.16 L550.37,172.48 L550.70,173.01 L551.03,173.11 L551.37,174.86 L551.70,172.16 L552.03,172.76 L552.37,172.67 L552.70,174.60 L553.03,172.12 L553.37,173.78 L553.70,172.76 L554.03,175.38 L554.37,178.21 L554.70,178.51 L555.03,181.46 L555.37,181.92 L555.70,184.02 L556.03,185.59 L556.37,186.53 L556.70,189.48 L557.03,191.36 L557.37,191.65 L557.70,194.71 L558.03,195.83 L558.37,197.01 L558.70,199.21 L559.03,201.47 L559.37,203.15 L559.70,205.93 L560.03,207.05 L560.37,209.18 L560.70,209.97 L561.03,212.92 L561.37,215.94 L561.70,216.86 L562.03,219.18 L562.37,222.30 L562.70,221.99 L563.03,222.30 L563.37,222.65 L563.70,224.48 L564.03,227.49 L564.37,227.03 L564.70,228.41 L565.03,229.43 L565.37,229.77 L565.70,231.24 L566.03,232.07 L566.37,232.71 L566.70,233.79 L567.03,233.24 L567.37,233.68 L567.70,234.12 L568.03,235.41 L568.37,234.99 L568.70,236.43 L569.03,235.39 L569.37,235.95 L569.70,235.65 L570.03,236.78 L570.37,237.58 L570.70,238.00 L571.03,237.42 L571.37,237.70 L571.70,238.54 L572.03,237.89 L572.37,238.20 L572.70,238.49 L573.03,237.97 L573.37,238.88 L573.70,238.44 L574.03,238.88 L574.37,238.58 L574.70,238.86 L575.03,239.28 L575.37,239.02 L575.70,238.41 L576.03,239.02 L576.37,239.07 L576.70,239.23 L577.03,239.43 L577.37,238.96" fill="none" stroke="#404040" stroke-width="1.0" stroke-linejoin="round"/>
<line x1="472.50" y1="239.8" x2="472.50" y2="193.72" stroke="#111" stroke-width="1.8"/>
<path d="M473.20,239.22 L473.53,236.89 L473.87,238.80 L474.20,237.32 L474.53,237.33 L474.87,237.54 L475.20,237.34 L475.53,238.14 L475.87,238.75 L476.20,239.27 L476.53,239.32 L476.87,236.56 L477.20,238.24 L477.53,238.09 L477.87,237.58 L478.20,237.93 L478.53,237.67 L478.87,236.63 L479.20,236.90 L479.53,238.51 L479.87,237.60 L480.20,238.89 L480.53,237.25 L480.87,237.14 L481.20,237.75 L481.53,237.75 L481.87,238.52 L482.20,237.19 L482.53,238.38 L482.87,237.98 L483.20,236.87 L483.53,237.50 L483.87,237.49 L484.20,238.56 L484.53,238.75 L484.87,238.27 L485.20,237.19 L485.53,238.31 L485.87,237.81 L486.20,237.13 L486.53,238.33 L486.87,236.98 L487.20,237.39 L487.53,236.74 L487.87,236.43 L488.20,237.98 L488.53,236.25 L488.87,237.08 L489.20,237.33 L489.53,238.07 L489.87,237.06 L490.20,238.29 L490.53,236.93 L490.87,236.96 L491.20,236.77 L491.53,236.90 L491.87,236.50 L492.20,235.67 L492.53,236.13 L492.87,235.85 L493.20,237.57 L493.53,235.28 L493.87,236.47 L494.20,234.90 L494.53,236.50 L494.87,235.15 L495.20,234.39 L495.53,236.04 L495.87,236.18 L496.20,235.96 L496.53,235.04 L496.87,233.71 L497.20,232.53 L497.53,232.49 L497.87,232.11 L498.20,232.92 L498.53,231.16 L498.87,231.46 L499.20,230.88 L499.53,229.89 L499.87,228.57 L500.20,227.42 L500.53,232.11 L500.87,227.65 L501.20,224.84 L501.53,224.80 L501.87,225.17 L502.20,228.45 L502.53,224.99 L502.87,222.47 L503.20,226.12 L503.53,219.24 L503.87,223.62 L504.20,225.82 L504.53,220.13 L504.87,221.12 L505.20,219.78 L505.53,212.55 L505.87,217.62 L506.20,215.18 L506.53,210.21 L506.87,215.66 L507.20,211.92 L507.53,212.47 L507.87,211.56 L508.20,208.53 L508.53,204.25 L508.87,206.58 L509.20,204.88 L509.53,203.04 L509.87,202.58 L510.20,202.92 L510.53,204.59 L510.87,200.62 L511.20,199.56 L511.53,199.74 L511.87,197.31 L512.20,194.73 L512.53,192.61 L512.87,190.28 L513.20,192.82 L513.53,189.09 L513.87,189.45 L514.20,183.80 L514.53,182.16 L514.87,181.98 L515.20,181.94 L515.53,176.91 L515.87,174.15 L516.20,174.27 L516.53,169.05 L516.87,171.77 L517.20,165.51 L517.53,163.16 L517.87,164.28 L518.20,161.31 L518.53,162.92 L518.87,160.12 L519.20,157.72 L519.53,151.38 L519.87,153.20 L520.20,149.98 L520.53,146.19 L520.87,151.27 L521.20,142.01 L521.53,141.01 L521.87,138.50 L522.20,136.27 L522.53,135.10 L522.87,132.90 L523.20,129.86 L523.53,135.37 L523.87,138.25 L524.20,140.08 L524.53,144.84 L524.87,143.46 L525.20,146.03 L525.53,147.62 L525.87,148.14 L526.20,151.86 L526.53,155.78 L526.87,156.61 L527.20,157.35 L527.53,160.02 L527.87,164.67 L528.20,166.88 L528.53,163.72 L528.87,167.11 L529.20,173.86 L529.53,176.10 L529.87,178.89 L530.20,182.23 L530.53,181.38 L530.87,184.05 L531.20,190.04 L531.53,189.77 L531.87,194.88 L532.20,201.03 L532.53,196.77 L532.87,203.63 L533.20,208.24 L533.53,210.29 L533.87,209.36 L534.20,210.68 L534.53,214.64 L534.87,214.50 L535.20,219.32 L535.53,220.65 L535.87,222.23 L536.20,225.42 L536.53,225.43 L536.87,225.79 L537.20,227.81 L537.53,229.06 L537.87,230.38 L538.20,231.46 L538.53,234.07 L538.87,233.00 L539.20,235.28 L539.53,235.25 L539.87,236.11 L540.20,235.96 L540.53,234.64 L540.87,238.92 L541.20,236.55 L541.53,236.04 L541.87,237.34 L542.20,237.44 L542.53,235.51 L542.87,236.19 L543.20,237.25 L543.53,237.30 L543.87,236.81 L544.20,237.01 L544.53,237.94 L544.87,237.18 L545.20,238.49 L545.53,238.45 L545.87,237.94 L546.20,239.80 L546.53,239.78 L546.87,237.51 L547.20,238.71 L547.53,239.80 L547.87,238.39 L548.20,237.48 L548.53,238.40 L548.87,238.59 L549.20,238.62 L549.53,239.34 L549.87,239.57 L550.20,239.60 L550.53,237.87 L550.87,238.76 L551.20,239.80 L551.53,238.93 L551.87,238.55 L552.20,239.15 L552.53,239.80 L552.87,238.47 L553.20,239.13 L553.53,239.22" fill="none" stroke="#000" stroke-width="1.7" stroke-linejoin="round"/>
<text x="65.2" y="186.125" text-anchor="middle" font-size="23" font-weight="bold" fill="#1c1c1c">Control</text>
<text x="771.0" y="186.125" text-anchor="middle" font-size="23" font-weight="bold" fill="#1c1c1c">Control</text>
<path d="M186.50,431.6 L186.50,428.24 L186.83,428.87 L187.17,429.31 L187.50,428.89 L187.83,429.04 L188.17,428.34 L188.50,428.83 L188.83,428.71 L189.17,429.24 L189.50,428.86 L189.83,428.73 L190.17,428.37 L190.50,428.28 L190.83,428.59 L191.17,429.13 L191.50,427.66 L191.83,427.20 L192.17,429.30 L192.50,429.09 L192.83,428.61 L193.17,428.44 L193.50,428.04 L193.83,428.02 L194.17,427.59 L194.50,428.36 L194.83,427.94 L195.17,427.10 L195.50,427.70 L195.83,427.64 L196.17,427.54 L196.50,428.71 L196.83,428.26 L197.17,426.21 L197.50,427.89 L197.83,428.12 L198.17,428.18 L198.50,427.87 L198.83,426.46 L199.17,427.78 L199.50,427.32 L199.83,427.93 L200.17,427.38 L200.50,426.36 L200.83,427.94 L201.17,426.37 L201.50,427.44 L201.83,427.04 L202.17,426.48 L202.50,425.56 L202.83,426.19 L203.17,426.10 L203.50,426.40 L203.83,426.31 L204.17,427.18 L204.50,426.50 L204.83,426.82 L205.17,425.56 L205.50,425.86 L205.83,426.50 L206.17,426.46 L206.50,426.24 L206.83,425.59 L207.17,425.21 L207.50,426.61 L207.83,425.26 L208.17,425.35 L208.50,426.30 L208.83,425.46 L209.17,425.01 L209.50,425.73 L209.83,425.11 L210.17,425.85 L210.50,425.01 L210.83,424.57 L211.17,426.27 L211.50,425.55 L211.83,424.89 L212.17,424.68 L212.50,423.95 L212.83,424.30 L213.17,423.85 L213.50,424.95 L213.83,425.08 L214.17,424.17 L214.50,424.01 L214.83,424.42 L215.17,424.14 L215.50,424.37 L215.83,424.28 L216.17,424.17 L216.50,424.23 L216.83,423.26 L217.17,424.14 L217.50,422.55 L217.83,423.67 L218.17,423.38 L218.50,423.68 L218.83,423.30 L219.17,423.45 L219.50,422.19 L219.83,422.81 L220.17,422.55 L220.50,423.12 L220.83,422.92 L221.17,422.44 L221.50,422.30 L221.83,422.09 L222.17,422.32 L222.50,422.55 L222.83,422.61 L223.17,422.01 L223.50,421.37 L223.83,421.40 L224.17,422.22 L224.50,421.07 L224.83,421.38 L225.17,420.11 L225.50,421.91 L225.83,421.31 L226.17,420.77 L226.50,420.91 L226.83,421.28 L227.17,420.72 L227.50,420.79 L227.83,420.54 L228.17,419.68 L228.50,419.22 L228.83,420.77 L229.17,419.69 L229.50,420.62 L229.83,420.50 L230.17,419.36 L230.50,419.13 L230.83,419.06 L231.17,420.32 L231.50,419.20 L231.83,419.07 L232.17,419.83 L232.50,418.73 L232.83,418.99 L233.17,419.04 L233.50,419.41 L233.83,418.68 L234.17,419.12 L234.50,419.65 L234.83,418.99 L235.17,419.01 L235.50,419.95 L235.83,419.10 L236.17,419.65 L236.50,420.30 L236.83,419.92 L237.17,420.96 L237.50,419.64 L237.83,418.63 L238.17,419.68 L238.50,419.47 L238.83,419.69 L239.17,418.17 L239.50,418.87 L239.83,419.53 L240.17,418.85 L240.50,419.30 L240.83,418.01 L241.17,418.63 L241.50,418.22 L241.83,419.09 L242.17,417.34 L242.50,418.61 L242.83,417.94 L243.17,417.84 L243.50,417.37 L243.83,417.10 L244.17,416.84 L244.50,417.99 L244.83,417.18 L245.17,418.54 L245.50,418.09 L245.83,418.11 L246.17,418.53 L246.50,417.74 L246.83,418.38 L247.17,416.71 L247.50,417.50 L247.83,418.44 L248.17,417.72 L248.50,418.85 L248.83,417.86 L249.17,417.26 L249.50,418.70 L249.83,417.89 L250.17,417.67 L250.50,417.75 L250.83,417.31 L251.17,417.57 L251.50,418.32 L251.83,417.36 L252.17,417.70 L252.50,417.31 L252.83,417.83 L253.17,418.15 L253.50,418.15 L253.83,417.58 L254.17,417.26 L254.50,417.87 L254.83,418.20 L255.17,417.99 L255.50,419.28 L255.83,417.55 L256.17,417.06 L256.50,417.18 L256.83,417.95 L257.17,416.63 L257.50,417.08 L257.83,416.08 L258.17,417.00 L258.50,417.66 L258.83,417.93 L259.17,417.72 L259.50,418.04 L259.83,416.97 L260.17,418.51 L260.50,418.69 L260.83,416.53 L261.17,416.93 L261.50,418.18 L261.83,418.24 L262.17,418.63 L262.50,417.39 L262.83,416.11 L263.17,415.80 L263.50,416.76 L263.83,415.28 L264.17,413.59 L264.50,414.15 L264.83,414.26 L265.17,413.27 L265.50,413.22 L265.83,412.63 L266.17,411.79 L266.50,410.53 L266.83,410.81 L267.17,410.81 L267.50,409.33 L267.83,410.06 L268.17,410.18 L268.50,408.74 L268.83,407.89 L269.17,407.09 L269.50,405.82 L269.83,407.14 L270.17,405.08 L270.50,404.26 L270.83,405.69 L271.17,404.52 L271.50,402.70 L271.83,402.82 L272.17,401.98 L272.50,401.38 L272.83,398.13 L273.17,397.88 L273.50,396.50 L273.83,396.85 L274.17,395.08 L274.50,395.08 L274.83,395.38 L275.17,393.18 L275.50,390.89 L275.83,390.64 L276.17,390.08 L276.50,387.26 L276.83,389.18 L277.17,387.45 L277.50,387.16 L277.83,386.73 L278.17,384.99 L278.50,385.20 L278.83,383.58 L279.17,381.37 L279.50,381.75 L279.83,380.98 L280.17,381.18 L280.50,381.50 L280.83,377.59 L281.17,378.37 L281.50,377.02 L281.83,377.59 L282.17,378.25 L282.50,379.03 L282.83,375.69 L283.17,377.52 L283.50,378.74 L283.83,376.56 L284.17,378.09 L284.50,377.86 L284.83,378.91 L285.17,377.94 L285.50,375.25 L285.83,376.54 L286.17,377.76 L286.50,377.40 L286.83,377.36 L287.17,379.05 L287.50,376.73 L287.83,378.09 L288.17,379.00 L288.50,376.56 L288.83,379.71 L289.17,380.38 L289.50,381.05 L289.83,384.88 L290.17,383.22 L290.50,385.64 L290.83,385.21 L291.17,386.21 L291.50,388.96 L291.83,391.48 L292.17,392.00 L292.50,394.34 L292.83,395.33 L293.17,398.06 L293.50,398.98 L293.83,400.67 L294.17,402.50 L294.50,403.65 L294.83,404.68 L295.17,405.62 L295.50,407.37 L295.83,408.30 L296.17,410.87 L296.50,411.22 L296.83,413.14 L297.17,413.33 L297.50,415.23 L297.83,415.02 L298.17,416.79 L298.50,419.12 L298.83,419.69 L299.17,419.44 L299.50,421.61 L299.83,422.32 L300.17,422.53 L300.50,422.59 L300.83,423.19 L301.17,425.29 L301.50,424.69 L301.83,425.82 L302.17,426.24 L302.50,426.03 L302.83,427.00 L303.17,427.48 L303.50,427.43 L303.83,428.39 L304.17,428.49 L304.50,428.74 L304.83,428.64 L305.17,428.77 L305.50,429.14 L305.83,428.93 L306.17,429.87 L306.50,429.78 L306.83,429.81 L307.17,429.86 L307.50,430.28 L307.83,430.33 L308.17,430.22 L308.50,430.70 L308.83,431.16 L309.17,431.32 L309.50,430.90 L309.83,430.63 L310.17,431.60 L310.50,431.01 L310.83,431.05 L311.17,430.75 L311.50,431.13 L311.83,430.99 L312.17,431.02 L312.50,431.26 L312.83,431.36 L313.17,431.42 L313.17,431.6 Z" fill="#cbd3dd" stroke="none"/>
<line x1="186.0" y1="306.4" x2="186.0" y2="431.6" stroke="#7a7a7a" stroke-width="1"/>
<line x1="184.4" y1="306.40" x2="186.0" y2="306.40" stroke="#7a7a7a" stroke-width="1"/>
<line x1="184.4" y1="337.70" x2="186.0" y2="337.70" stroke="#7a7a7a" stroke-width="1"/>
<line x1="184.4" y1="369.00" x2="186.0" y2="369.00" stroke="#7a7a7a" stroke-width="1"/>
<line x1="184.4" y1="400.30" x2="186.0" y2="400.30" stroke="#7a7a7a" stroke-width="1"/>
<line x1="184.4" y1="431.60" x2="186.0" y2="431.60" stroke="#7a7a7a" stroke-width="1"/>
<line x1="186.0" y1="431.6" x2="396.5" y2="431.6" stroke="#7a7a7a" stroke-width="1"/>
<line x1="186.00" y1="431.6" x2="186.00" y2="434.6" stroke="#7a7a7a" stroke-width="1"/>
<line x1="201.84" y1="431.6" x2="201.84" y2="433.6" stroke="#7a7a7a" stroke-width="1"/>
<line x1="211.11" y1="431.6" x2="211.11" y2="433.6" stroke="#7a7a7a" stroke-width="1"/>
<line x1="217.68" y1="431.6" x2="217.68" y2="433.6" stroke="#7a7a7a" stroke-width="1"/>
<line x1="222.78" y1="431.6" x2="222.78" y2="433.6" stroke="#7a7a7a" stroke-width="1"/>
<line x1="226.95" y1="431.6" x2="226.95" y2="433.6" stroke="#7a7a7a" stroke-width="1"/>
<line x1="230.47" y1="431.6" x2="230.47" y2="433.6" stroke="#7a7a7a" stroke-width="1"/>
<line x1="233.53" y1="431.6" x2="233.53" y2="433.6" stroke="#7a7a7a" stroke-width="1"/>
<line x1="236.22" y1="431.6" x2="236.22" y2="433.6" stroke="#7a7a7a" stroke-width="1"/>
<line x1="238.62" y1="431.6" x2="238.62" y2="434.6" stroke="#7a7a7a" stroke-width="1"/>
<line x1="254.47" y1="431.6" x2="254.47" y2="433.6" stroke="#7a7a7a" stroke-width="1"/>
<line x1="263.73" y1="431.6" x2="263.73" y2="433.6" stroke="#7a7a7a" stroke-width="1"/>
<line x1="270.31" y1="431.6" x2="270.31" y2="433.6" stroke="#7a7a7a" stroke-width="1"/>
<line x1="275.41" y1="431.6" x2="275.41" y2="433.6" stroke="#7a7a7a" stroke-width="1"/>
<line x1="279.58" y1="431.6" x2="279.58" y2="433.6" stroke="#7a7a7a" stroke-width="1"/>
<line x1="283.10" y1="431.6" x2="283.10" y2="433.6" stroke="#7a7a7a" stroke-width="1"/>
<line x1="286.15" y1="431.6" x2="286.15" y2="433.6" stroke="#7a7a7a" stroke-width="1"/>
<line x1="288.84" y1="431.6" x2="288.84" y2="433.6" stroke="#7a7a7a" stroke-width="1"/>
<line x1="291.25" y1="431.6" x2="291.25" y2="434.6" stroke="#7a7a7a" stroke-width="1"/>
<line x1="307.09" y1="431.6" x2="307.09" y2="433.6" stroke="#7a7a7a" stroke-width="1"/>
<line x1="316.36" y1="431.6" x2="316.36" y2="433.6" stroke="#7a7a7a" stroke-width="1"/>
<line x1="322.93" y1="431.6" x2="322.93" y2="433.6" stroke="#7a7a7a" stroke-width="1"/>
<line x1="328.03" y1="431.6" x2="328.03" y2="433.6" stroke="#7a7a7a" stroke-width="1"/>
<line x1="332.20" y1="431.6" x2="332.20" y2="433.6" stroke="#7a7a7a" stroke-width="1"/>
<line x1="335.72" y1="431.6" x2="335.72" y2="433.6" stroke="#7a7a7a" stroke-width="1"/>
<line x1="338.78" y1="431.6" x2="338.78" y2="433.6" stroke="#7a7a7a" stroke-width="1"/>
<line x1="341.47" y1="431.6" x2="341.47" y2="433.6" stroke="#7a7a7a" stroke-width="1"/>
<line x1="343.88" y1="431.6" x2="343.88" y2="434.6" stroke="#7a7a7a" stroke-width="1"/>
<line x1="359.72" y1="431.6" x2="359.72" y2="433.6" stroke="#7a7a7a" stroke-width="1"/>
<line x1="368.98" y1="431.6" x2="368.98" y2="433.6" stroke="#7a7a7a" stroke-width="1"/>
<line x1="375.56" y1="431.6" x2="375.56" y2="433.6" stroke="#7a7a7a" stroke-width="1"/>
<line x1="380.66" y1="431.6" x2="380.66" y2="433.6" stroke="#7a7a7a" stroke-width="1"/>
<line x1="384.83" y1="431.6" x2="384.83" y2="433.6" stroke="#7a7a7a" stroke-width="1"/>
<line x1="388.35" y1="431.6" x2="388.35" y2="433.6" stroke="#7a7a7a" stroke-width="1"/>
<line x1="391.40" y1="431.6" x2="391.40" y2="433.6" stroke="#7a7a7a" stroke-width="1"/>
<line x1="394.09" y1="431.6" x2="394.09" y2="433.6" stroke="#7a7a7a" stroke-width="1"/>
<line x1="396.50" y1="431.6" x2="396.50" y2="434.6" stroke="#7a7a7a" stroke-width="1"/>
<text transform="translate(180.3,305.29999999999995) rotate(-90)" text-anchor="middle" font-size="14.6" fill="#1c1c1c">256</text>
<text transform="translate(180.7,431.8) rotate(-90)" text-anchor="middle" font-size="15" fill="#1c1c1c">0</text>
<text transform="translate(168.5,369.0) rotate(-90)" text-anchor="middle" font-size="15" fill="#1c1c1c">Events</text>
<text x="179.70" y="446.30" font-size="14" fill="#1c1c1c">10<tspan font-size="9.5" dy="-5.3" dx="0.3">0</tspan></text>
<text x="232.32" y="446.30" font-size="14" fill="#1c1c1c">10<tspan font-size="9.5" dy="-5.3" dx="0.3">1</tspan></text>
<text x="284.95" y="446.30" font-size="14" fill="#1c1c1c">10<tspan font-size="9.5" dy="-5.3" dx="0.3">2</tspan></text>
<text x="337.57" y="446.30" font-size="14" fill="#1c1c1c">10<tspan font-size="9.5" dy="-5.3" dx="0.3">3</tspan></text>
<text x="390.20" y="446.30" font-size="14" fill="#1c1c1c">10<tspan font-size="9.5" dy="-5.3" dx="0.3">4</tspan></text>
<text x="291.75" y="462.40" text-anchor="middle" font-size="14" letter-spacing="0.5" fill="#1c1c1c">FL1-H</text>
<path d="M186.50,428.24 L186.83,428.87 L187.17,429.31 L187.50,428.89 L187.83,429.04 L188.17,428.34 L188.50,428.83 L188.83,428.71 L189.17,429.24 L189.50,428.86 L189.83,428.73 L190.17,428.37 L190.50,428.28 L190.83,428.59 L191.17,429.13 L191.50,427.66 L191.83,427.20 L192.17,429.30 L192.50,429.09 L192.83,428.61 L193.17,428.44 L193.50,428.04 L193.83,428.02 L194.17,427.59 L194.50,428.36 L194.83,427.94 L195.17,427.10 L195.50,427.70 L195.83,427.64 L196.17,427.54 L196.50,428.71 L196.83,428.26 L197.17,426.21 L197.50,427.89 L197.83,428.12 L198.17,428.18 L198.50,427.87 L198.83,426.46 L199.17,427.78 L199.50,427.32 L199.83,427.93 L200.17,427.38 L200.50,426.36 L200.83,427.94 L201.17,426.37 L201.50,427.44 L201.83,427.04 L202.17,426.48 L202.50,425.56 L202.83,426.19 L203.17,426.10 L203.50,426.40 L203.83,426.31 L204.17,427.18 L204.50,426.50 L204.83,426.82 L205.17,425.56 L205.50,425.86 L205.83,426.50 L206.17,426.46 L206.50,426.24 L206.83,425.59 L207.17,425.21 L207.50,426.61 L207.83,425.26 L208.17,425.35 L208.50,426.30 L208.83,425.46 L209.17,425.01 L209.50,425.73 L209.83,425.11 L210.17,425.85 L210.50,425.01 L210.83,424.57 L211.17,426.27 L211.50,425.55 L211.83,424.89 L212.17,424.68 L212.50,423.95 L212.83,424.30 L213.17,423.85 L213.50,424.95 L213.83,425.08 L214.17,424.17 L214.50,424.01 L214.83,424.42 L215.17,424.14 L215.50,424.37 L215.83,424.28 L216.17,424.17 L216.50,424.23 L216.83,423.26 L217.17,424.14 L217.50,422.55 L217.83,423.67 L218.17,423.38 L218.50,423.68 L218.83,423.30 L219.17,423.45 L219.50,422.19 L219.83,422.81 L220.17,422.55 L220.50,423.12 L220.83,422.92 L221.17,422.44 L221.50,422.30 L221.83,422.09 L222.17,422.32 L222.50,422.55 L222.83,422.61 L223.17,422.01 L223.50,421.37 L223.83,421.40 L224.17,422.22 L224.50,421.07 L224.83,421.38 L225.17,420.11 L225.50,421.91 L225.83,421.31 L226.17,420.77 L226.50,420.91 L226.83,421.28 L227.17,420.72 L227.50,420.79 L227.83,420.54 L228.17,419.68 L228.50,419.22 L228.83,420.77 L229.17,419.69 L229.50,420.62 L229.83,420.50 L230.17,419.36 L230.50,419.13 L230.83,419.06 L231.17,420.32 L231.50,419.20 L231.83,419.07 L232.17,419.83 L232.50,418.73 L232.83,418.99 L233.17,419.04 L233.50,419.41 L233.83,418.68 L234.17,419.12 L234.50,419.65 L234.83,418.99 L235.17,419.01 L235.50,419.95 L235.83,419.10 L236.17,419.65 L236.50,420.30 L236.83,419.92 L237.17,420.96 L237.50,419.64 L237.83,418.63 L238.17,419.68 L238.50,419.47 L238.83,419.69 L239.17,418.17 L239.50,418.87 L239.83,419.53 L240.17,418.85 L240.50,419.30 L240.83,418.01 L241.17,418.63 L241.50,418.22 L241.83,419.09 L242.17,417.34 L242.50,418.61 L242.83,417.94 L243.17,417.84 L243.50,417.37 L243.83,417.10 L244.17,416.84 L244.50,417.99 L244.83,417.18 L245.17,418.54 L245.50,418.09 L245.83,418.11 L246.17,418.53 L246.50,417.74 L246.83,418.38 L247.17,416.71 L247.50,417.50 L247.83,418.44 L248.17,417.72 L248.50,418.85 L248.83,417.86 L249.17,417.26 L249.50,418.70 L249.83,417.89 L250.17,417.67 L250.50,417.75 L250.83,417.31 L251.17,417.57 L251.50,418.32 L251.83,417.36 L252.17,417.70 L252.50,417.31 L252.83,417.83 L253.17,418.15 L253.50,418.15 L253.83,417.58 L254.17,417.26 L254.50,417.87 L254.83,418.20 L255.17,417.99 L255.50,419.28 L255.83,417.55 L256.17,417.06 L256.50,417.18 L256.83,417.95 L257.17,416.63 L257.50,417.08 L257.83,416.08 L258.17,417.00 L258.50,417.66 L258.83,417.93 L259.17,417.72 L259.50,418.04 L259.83,416.97 L260.17,418.51 L260.50,418.69 L260.83,416.53 L261.17,416.93 L261.50,418.18 L261.83,418.24 L262.17,418.63 L262.50,417.39 L262.83,416.11 L263.17,415.80 L263.50,416.76 L263.83,415.28 L264.17,413.59 L264.50,414.15 L264.83,414.26 L265.17,413.27 L265.50,413.22 L265.83,412.63 L266.17,411.79 L266.50,410.53 L266.83,410.81 L267.17,410.81 L267.50,409.33 L267.83,410.06 L268.17,410.18 L268.50,408.74 L268.83,407.89 L269.17,407.09 L269.50,405.82 L269.83,407.14 L270.17,405.08 L270.50,404.26 L270.83,405.69 L271.17,404.52 L271.50,402.70 L271.83,402.82 L272.17,401.98 L272.50,401.38 L272.83,398.13 L273.17,397.88 L273.50,396.50 L273.83,396.85 L274.17,395.08 L274.50,395.08 L274.83,395.38 L275.17,393.18 L275.50,390.89 L275.83,390.64 L276.17,390.08 L276.50,387.26 L276.83,389.18 L277.17,387.45 L277.50,387.16 L277.83,386.73 L278.17,384.99 L278.50,385.20 L278.83,383.58 L279.17,381.37 L279.50,381.75 L279.83,380.98 L280.17,381.18 L280.50,381.50 L280.83,377.59 L281.17,378.37 L281.50,377.02 L281.83,377.59 L282.17,378.25 L282.50,379.03 L282.83,375.69 L283.17,377.52 L283.50,378.74 L283.83,376.56 L284.17,378.09 L284.50,377.86 L284.83,378.91 L285.17,377.94 L285.50,375.25 L285.83,376.54 L286.17,377.76 L286.50,377.40 L286.83,377.36 L287.17,379.05 L287.50,376.73 L287.83,378.09 L288.17,379.00 L288.50,376.56 L288.83,379.71 L289.17,380.38 L289.50,381.05 L289.83,384.88 L290.17,383.22 L290.50,385.64 L290.83,385.21 L291.17,386.21 L291.50,388.96 L291.83,391.48 L292.17,392.00 L292.50,394.34 L292.83,395.33 L293.17,398.06 L293.50,398.98 L293.83,400.67 L294.17,402.50 L294.50,403.65 L294.83,404.68 L295.17,405.62 L295.50,407.37 L295.83,408.30 L296.17,410.87 L296.50,411.22 L296.83,413.14 L297.17,413.33 L297.50,415.23 L297.83,415.02 L298.17,416.79 L298.50,419.12 L298.83,419.69 L299.17,419.44 L299.50,421.61 L299.83,422.32 L300.17,422.53 L300.50,422.59 L300.83,423.19 L301.17,425.29 L301.50,424.69 L301.83,425.82 L302.17,426.24 L302.50,426.03 L302.83,427.00 L303.17,427.48 L303.50,427.43 L303.83,428.39 L304.17,428.49 L304.50,428.74 L304.83,428.64 L305.17,428.77 L305.50,429.14 L305.83,428.93 L306.17,429.87 L306.50,429.78 L306.83,429.81 L307.17,429.86 L307.50,430.28 L307.83,430.33 L308.17,430.22 L308.50,430.70 L308.83,431.16 L309.17,431.32 L309.50,430.90 L309.83,430.63 L310.17,431.60 L310.50,431.01 L310.83,431.05 L311.17,430.75 L311.50,431.13 L311.83,430.99 L312.17,431.02 L312.50,431.26 L312.83,431.36 L313.17,431.42" fill="none" stroke="#404040" stroke-width="1.0" stroke-linejoin="round"/>
<line x1="186.30" y1="431.6" x2="186.30" y2="367.58" stroke="#111" stroke-width="1.8"/>
<path d="M187.00,426.37 L187.33,426.26 L187.67,426.23 L188.00,423.91 L188.33,426.71 L188.67,425.05 L189.00,425.71 L189.33,423.91 L189.67,426.25 L190.00,426.00 L190.33,425.16 L190.67,424.83 L191.00,424.54 L191.33,426.99 L191.67,424.30 L192.00,423.52 L192.33,423.97 L192.67,424.88 L193.00,424.27 L193.33,424.49 L193.67,424.86 L194.00,426.07 L194.33,426.72 L194.67,423.48 L195.00,423.77 L195.33,423.68 L195.67,425.24 L196.00,425.90 L196.33,425.00 L196.67,423.38 L197.00,423.92 L197.33,422.19 L197.67,423.32 L198.00,423.44 L198.33,422.24 L198.67,423.30 L199.00,424.65 L199.33,422.43 L199.67,423.32 L200.00,422.59 L200.33,420.07 L200.67,423.62 L201.00,420.85 L201.33,420.13 L201.67,422.84 L202.00,422.47 L202.33,422.84 L202.67,422.62 L203.00,423.70 L203.33,422.38 L203.67,423.34 L204.00,422.57 L204.33,419.97 L204.67,421.90 L205.00,422.27 L205.33,421.97 L205.67,421.45 L206.00,421.19 L206.33,423.50 L206.67,421.86 L207.00,419.88 L207.33,422.78 L207.67,421.47 L208.00,421.11 L208.33,420.71 L208.67,417.19 L209.00,416.93 L209.33,419.69 L209.67,422.23 L210.00,421.23 L210.33,418.36 L210.67,421.49 L211.00,422.50 L211.33,418.32 L211.67,418.99 L212.00,417.79 L212.33,418.36 L212.67,416.88 L213.00,418.37 L213.33,420.01 L213.67,419.90 L214.00,420.78 L214.33,420.91 L214.67,418.84 L215.00,416.15 L215.33,419.55 L215.67,419.30 L216.00,417.60 L216.33,420.62 L216.67,418.05 L217.00,419.67 L217.33,419.54 L217.67,421.04 L218.00,415.67 L218.33,416.19 L218.67,417.62 L219.00,419.89 L219.33,420.57 L219.67,417.57 L220.00,417.86 L220.33,420.45 L220.67,417.20 L221.00,417.96 L221.33,419.09 L221.67,418.67 L222.00,416.98 L222.33,418.47 L222.67,417.03 L223.00,415.93 L223.33,415.17 L223.67,417.40 L224.00,419.55 L224.33,416.63 L224.67,416.21 L225.00,417.11 L225.33,414.86 L225.67,415.71 L226.00,416.44 L226.33,415.65 L226.67,416.82 L227.00,415.54 L227.33,414.45 L227.67,415.84 L228.00,416.13 L228.33,417.39 L228.67,412.25 L229.00,412.97 L229.33,417.64 L229.67,413.71 L230.00,416.09 L230.33,413.52 L230.67,411.62 L231.00,410.87 L231.33,410.96 L231.67,413.73 L232.00,408.52 L232.33,409.56 L232.67,411.71 L233.00,410.89 L233.33,409.13 L233.67,408.69 L234.00,407.74 L234.33,407.99 L234.67,411.67 L235.00,408.67 L235.33,408.14 L235.67,408.56 L236.00,406.46 L236.33,402.19 L236.67,408.30 L237.00,402.03 L237.33,404.29 L237.67,405.59 L238.00,400.69 L238.33,404.38 L238.67,401.57 L239.00,400.59 L239.33,401.83 L239.67,400.52 L240.00,399.55 L240.33,400.07 L240.67,401.53 L241.00,398.90 L241.33,396.92 L241.67,397.83 L242.00,396.83 L242.33,393.82 L242.67,396.02 L243.00,394.24 L243.33,394.85 L243.67,393.42 L244.00,392.52 L244.33,390.01 L244.67,391.74 L245.00,390.21 L245.33,388.97 L245.67,387.68 L246.00,388.92 L246.33,383.85 L246.67,381.93 L247.00,383.41 L247.33,378.94 L247.67,377.64 L248.00,378.17 L248.33,376.67 L248.67,376.13 L249.00,368.11 L249.33,367.70 L249.67,366.78 L250.00,365.38 L250.33,369.02 L250.67,368.24 L251.00,362.53 L251.33,366.24 L251.67,366.86 L252.00,366.26 L252.33,364.54 L252.67,359.45 L253.00,360.46 L253.33,356.65 L253.67,356.16 L254.00,355.72 L254.33,354.16 L254.67,354.52 L255.00,356.16 L255.33,364.27 L255.67,363.51 L256.00,366.39 L256.33,369.42 L256.67,368.41 L257.00,368.99 L257.33,370.34 L257.67,369.18 L258.00,371.84 L258.33,373.07 L258.67,374.25 L259.00,375.46 L259.33,376.76 L259.67,381.05 L260.00,378.82 L260.33,381.16 L260.67,385.02 L261.00,389.48 L261.33,390.02 L261.67,394.33 L262.00,395.80 L262.33,400.28 L262.67,400.44 L263.00,399.27 L263.33,401.44 L263.67,409.74 L264.00,407.33 L264.33,414.17 L264.67,414.29 L265.00,412.35 L265.33,418.56 L265.67,417.36 L266.00,421.12 L266.33,421.27 L266.67,421.30 L267.00,423.96 L267.33,424.60 L267.67,425.94 L268.00,426.95 L268.33,429.46 L268.67,427.41 L269.00,429.77 L269.33,428.75 L269.67,427.92 L270.00,429.97 L270.33,430.23 L270.67,430.40 L271.00,429.62 L271.33,431.30 L271.67,430.92 L272.00,429.89 L272.33,430.71 L272.67,428.66 L273.00,430.31 L273.33,430.03 L273.67,430.39 L274.00,431.43 L274.33,430.76 L274.67,430.63 L275.00,431.60 L275.33,431.60 L275.67,429.72 L276.00,431.52 L276.33,430.81 L276.67,430.56 L277.00,430.51 L277.33,430.37 L277.67,431.03 L278.00,431.29 L278.33,431.60 L278.67,431.60 L279.00,431.60 L279.33,431.31 L279.67,431.34 L280.00,431.36 L280.33,431.39 L280.67,431.41 L281.00,431.44 L281.33,431.46 L281.67,431.49" fill="none" stroke="#000" stroke-width="1.7" stroke-linejoin="round"/>
<path d="M472.40,431.8 L472.40,429.92 L472.73,430.20 L473.07,429.54 L473.40,429.90 L473.73,429.12 L474.07,429.50 L474.40,428.90 L474.73,429.28 L475.07,429.07 L475.40,429.30 L475.73,428.72 L476.07,428.39 L476.40,428.27 L476.73,427.82 L477.07,429.07 L477.40,427.47 L477.73,428.16 L478.07,428.34 L478.40,427.83 L478.73,427.18 L479.07,427.85 L479.40,428.18 L479.73,428.01 L480.07,426.65 L480.40,427.24 L480.73,427.43 L481.07,428.20 L481.40,426.84 L481.73,426.79 L482.07,427.27 L482.40,425.74 L482.73,426.08 L483.07,425.19 L483.40,425.80 L483.73,425.47 L484.07,425.43 L484.40,425.96 L484.73,425.77 L485.07,425.51 L485.40,424.99 L485.73,424.69 L486.07,424.18 L486.40,424.89 L486.73,424.86 L487.07,424.21 L487.40,423.77 L487.73,423.64 L488.07,424.34 L488.40,424.54 L488.73,424.22 L489.07,423.03 L489.40,423.10 L489.73,422.80 L490.07,424.06 L490.40,423.41 L490.73,422.38 L491.07,423.15 L491.40,422.94 L491.73,422.79 L492.07,422.73 L492.40,422.03 L492.73,421.77 L493.07,422.57 L493.40,423.29 L493.73,421.31 L494.07,421.16 L494.40,422.13 L494.73,420.88 L495.07,419.93 L495.40,421.16 L495.73,421.92 L496.07,421.87 L496.40,421.60 L496.73,420.56 L497.07,421.04 L497.40,420.44 L497.73,420.26 L498.07,420.77 L498.40,419.68 L498.73,420.83 L499.07,420.47 L499.40,420.43 L499.73,420.16 L500.07,419.32 L500.40,420.96 L500.73,420.85 L501.07,419.23 L501.40,419.18 L501.73,418.77 L502.07,418.79 L502.40,419.33 L502.73,419.53 L503.07,418.17 L503.40,417.88 L503.73,417.49 L504.07,418.07 L504.40,417.73 L504.73,417.95 L505.07,417.83 L505.40,416.43 L505.73,416.74 L506.07,417.41 L506.40,416.35 L506.73,416.24 L507.07,415.38 L507.40,416.97 L507.73,416.41 L508.07,415.70 L508.40,416.24 L508.73,416.52 L509.07,416.33 L509.40,414.82 L509.73,414.84 L510.07,414.92 L510.40,415.22 L510.73,412.94 L511.07,414.16 L511.40,412.81 L511.73,414.51 L512.07,413.28 L512.40,413.57 L512.73,412.53 L513.07,413.59 L513.40,412.70 L513.73,411.36 L514.07,410.23 L514.40,411.50 L514.73,411.19 L515.07,410.20 L515.40,409.95 L515.73,409.29 L516.07,410.29 L516.40,410.16 L516.73,408.31 L517.07,407.82 L517.40,408.54 L517.73,406.62 L518.07,407.48 L518.40,407.44 L518.73,407.07 L519.07,408.03 L519.40,405.97 L519.73,406.88 L520.07,406.24 L520.40,405.75 L520.73,406.10 L521.07,405.54 L521.40,405.43 L521.73,404.46 L522.07,403.84 L522.40,405.49 L522.73,405.01 L523.07,404.14 L523.40,403.06 L523.73,403.98 L524.07,401.89 L524.40,402.50 L524.73,402.51 L525.07,401.92 L525.40,400.51 L525.73,403.31 L526.07,400.30 L526.40,402.47 L526.73,402.95 L527.07,401.47 L527.40,401.00 L527.73,399.20 L528.07,399.80 L528.40,398.08 L528.73,399.43 L529.07,400.23 L529.40,398.62 L529.73,400.03 L530.07,399.85 L530.40,402.02 L530.73,401.24 L531.07,401.79 L531.40,401.33 L531.73,401.91 L532.07,401.98 L532.40,401.15 L532.73,403.22 L533.07,401.81 L533.40,400.53 L533.73,400.94 L534.07,401.15 L534.40,400.80 L534.73,400.46 L535.07,399.48 L535.40,398.60 L535.73,398.09 L536.07,397.40 L536.40,399.15 L536.73,398.37 L537.07,399.16 L537.40,397.83 L537.73,398.23 L538.07,398.73 L538.40,397.66 L538.73,398.28 L539.07,398.23 L539.40,398.57 L539.73,397.12 L540.07,397.07 L540.40,396.50 L540.73,397.27 L541.07,396.29 L541.40,399.18 L541.73,395.88 L542.07,397.83 L542.40,396.89 L542.73,395.42 L543.07,395.74 L543.40,393.83 L543.73,394.42 L544.07,394.49 L544.40,396.39 L544.73,393.12 L545.07,393.06 L545.40,393.55 L545.73,393.15 L546.07,390.42 L546.40,392.74 L546.73,391.52 L547.07,391.63 L547.40,392.33 L547.73,391.93 L548.07,391.68 L548.40,393.34 L548.73,394.71 L549.07,393.33 L549.40,394.57 L549.73,392.99 L550.07,392.17 L550.40,390.50 L550.73,387.82 L551.07,388.22 L551.40,384.80 L551.73,382.89 L552.07,385.90 L552.40,387.76 L552.73,389.66 L553.07,390.86 L553.40,392.33 L553.73,396.19 L554.07,393.21 L554.40,394.07 L554.73,394.73 L555.07,395.27 L555.40,394.59 L555.73,395.85 L556.07,394.83 L556.40,396.47 L556.73,394.15 L557.07,395.88 L557.40,396.75 L557.73,396.73 L558.07,398.58 L558.40,399.96 L558.73,400.33 L559.07,401.72 L559.40,403.26 L559.73,404.59 L560.07,405.91 L560.40,406.06 L560.73,407.72 L561.07,408.71 L561.40,409.70 L561.73,410.13 L562.07,409.10 L562.40,412.58 L562.73,412.79 L563.07,413.18 L563.40,413.50 L563.73,414.72 L564.07,415.24 L564.40,415.53 L564.73,416.82 L565.07,418.44 L565.40,418.36 L565.73,419.43 L566.07,421.64 L566.40,420.91 L566.73,422.15 L567.07,421.72 L567.40,423.10 L567.73,423.22 L568.07,423.93 L568.40,423.72 L568.73,425.15 L569.07,425.82 L569.40,425.52 L569.73,426.53 L570.07,427.36 L570.40,427.58 L570.73,428.09 L571.07,428.03 L571.40,428.91 L571.73,429.52 L572.07,428.95 L572.40,429.93 L572.73,429.64 L573.07,430.36 L573.40,430.87 L573.73,430.15 L574.07,429.56 L574.40,430.83 L574.73,431.45 L575.07,431.31 L575.40,431.00 L575.73,431.04 L576.07,431.29 L576.40,431.37 L576.73,431.53 L577.07,431.64 L577.40,431.75 L577.40,431.8 Z" fill="#cbd3dd" stroke="none"/>
<line x1="471.9" y1="307.0" x2="471.9" y2="431.8" stroke="#7a7a7a" stroke-width="1"/>
<line x1="470.29999999999995" y1="307.00" x2="471.9" y2="307.00" stroke="#7a7a7a" stroke-width="1"/>
<line x1="470.29999999999995" y1="338.20" x2="471.9" y2="338.20" stroke="#7a7a7a" stroke-width="1"/>
<line x1="470.29999999999995" y1="369.40" x2="471.9" y2="369.40" stroke="#7a7a7a" stroke-width="1"/>
<line x1="470.29999999999995" y1="400.60" x2="471.9" y2="400.60" stroke="#7a7a7a" stroke-width="1"/>
<line x1="470.29999999999995" y1="431.80" x2="471.9" y2="431.80" stroke="#7a7a7a" stroke-width="1"/>
<line x1="471.9" y1="431.8" x2="682.4" y2="431.8" stroke="#7a7a7a" stroke-width="1"/>
<line x1="471.90" y1="431.8" x2="471.90" y2="434.8" stroke="#7a7a7a" stroke-width="1"/>
<line x1="487.74" y1="431.8" x2="487.74" y2="433.8" stroke="#7a7a7a" stroke-width="1"/>
<line x1="497.01" y1="431.8" x2="497.01" y2="433.8" stroke="#7a7a7a" stroke-width="1"/>
<line x1="503.58" y1="431.8" x2="503.58" y2="433.8" stroke="#7a7a7a" stroke-width="1"/>
<line x1="508.68" y1="431.8" x2="508.68" y2="433.8" stroke="#7a7a7a" stroke-width="1"/>
<line x1="512.85" y1="431.8" x2="512.85" y2="433.8" stroke="#7a7a7a" stroke-width="1"/>
<line x1="516.37" y1="431.8" x2="516.37" y2="433.8" stroke="#7a7a7a" stroke-width="1"/>
<line x1="519.43" y1="431.8" x2="519.43" y2="433.8" stroke="#7a7a7a" stroke-width="1"/>
<line x1="522.12" y1="431.8" x2="522.12" y2="433.8" stroke="#7a7a7a" stroke-width="1"/>
<line x1="524.52" y1="431.8" x2="524.52" y2="434.8" stroke="#7a7a7a" stroke-width="1"/>
<line x1="540.37" y1="431.8" x2="540.37" y2="433.8" stroke="#7a7a7a" stroke-width="1"/>
<line x1="549.63" y1="431.8" x2="549.63" y2="433.8" stroke="#7a7a7a" stroke-width="1"/>
<line x1="556.21" y1="431.8" x2="556.21" y2="433.8" stroke="#7a7a7a" stroke-width="1"/>
<line x1="561.31" y1="431.8" x2="561.31" y2="433.8" stroke="#7a7a7a" stroke-width="1"/>
<line x1="565.48" y1="431.8" x2="565.48" y2="433.8" stroke="#7a7a7a" stroke-width="1"/>
<line x1="569.00" y1="431.8" x2="569.00" y2="433.8" stroke="#7a7a7a" stroke-width="1"/>
<line x1="572.05" y1="431.8" x2="572.05" y2="433.8" stroke="#7a7a7a" stroke-width="1"/>
<line x1="574.74" y1="431.8" x2="574.74" y2="433.8" stroke="#7a7a7a" stroke-width="1"/>
<line x1="577.15" y1="431.8" x2="577.15" y2="434.8" stroke="#7a7a7a" stroke-width="1"/>
<line x1="592.99" y1="431.8" x2="592.99" y2="433.8" stroke="#7a7a7a" stroke-width="1"/>
<line x1="602.26" y1="431.8" x2="602.26" y2="433.8" stroke="#7a7a7a" stroke-width="1"/>
<line x1="608.83" y1="431.8" x2="608.83" y2="433.8" stroke="#7a7a7a" stroke-width="1"/>
<line x1="613.93" y1="431.8" x2="613.93" y2="433.8" stroke="#7a7a7a" stroke-width="1"/>
<line x1="618.10" y1="431.8" x2="618.10" y2="433.8" stroke="#7a7a7a" stroke-width="1"/>
<line x1="621.62" y1="431.8" x2="621.62" y2="433.8" stroke="#7a7a7a" stroke-width="1"/>
<line x1="624.68" y1="431.8" x2="624.68" y2="433.8" stroke="#7a7a7a" stroke-width="1"/>
<line x1="627.37" y1="431.8" x2="627.37" y2="433.8" stroke="#7a7a7a" stroke-width="1"/>
<line x1="629.77" y1="431.8" x2="629.77" y2="434.8" stroke="#7a7a7a" stroke-width="1"/>
<line x1="645.62" y1="431.8" x2="645.62" y2="433.8" stroke="#7a7a7a" stroke-width="1"/>
<line x1="654.88" y1="431.8" x2="654.88" y2="433.8" stroke="#7a7a7a" stroke-width="1"/>
<line x1="661.46" y1="431.8" x2="661.46" y2="433.8" stroke="#7a7a7a" stroke-width="1"/>
<line x1="666.56" y1="431.8" x2="666.56" y2="433.8" stroke="#7a7a7a" stroke-width="1"/>
<line x1="670.73" y1="431.8" x2="670.73" y2="433.8" stroke="#7a7a7a" stroke-width="1"/>
<line x1="674.25" y1="431.8" x2="674.25" y2="433.8" stroke="#7a7a7a" stroke-width="1"/>
<line x1="677.30" y1="431.8" x2="677.30" y2="433.8" stroke="#7a7a7a" stroke-width="1"/>
<line x1="679.99" y1="431.8" x2="679.99" y2="433.8" stroke="#7a7a7a" stroke-width="1"/>
<line x1="682.40" y1="431.8" x2="682.40" y2="434.8" stroke="#7a7a7a" stroke-width="1"/>
<text transform="translate(466.2,305.9) rotate(-90)" text-anchor="middle" font-size="14.6" fill="#1c1c1c">256</text>
<text transform="translate(466.59999999999997,432.0) rotate(-90)" text-anchor="middle" font-size="15" fill="#1c1c1c">0</text>
<text transform="translate(454.4,369.4) rotate(-90)" text-anchor="middle" font-size="15" fill="#1c1c1c">Events</text>
<text x="465.60" y="448.10" font-size="14" fill="#1c1c1c">10<tspan font-size="9.5" dy="-5.3" dx="0.3">0</tspan></text>
<text x="518.23" y="448.10" font-size="14" fill="#1c1c1c">10<tspan font-size="9.5" dy="-5.3" dx="0.3">1</tspan></text>
<text x="570.85" y="448.10" font-size="14" fill="#1c1c1c">10<tspan font-size="9.5" dy="-5.3" dx="0.3">2</tspan></text>
<text x="623.48" y="448.10" font-size="14" fill="#1c1c1c">10<tspan font-size="9.5" dy="-5.3" dx="0.3">3</tspan></text>
<text x="676.10" y="448.10" font-size="14" fill="#1c1c1c">10<tspan font-size="9.5" dy="-5.3" dx="0.3">4</tspan></text>
<text x="577.65" y="463.80" text-anchor="middle" font-size="14" letter-spacing="0.5" fill="#1c1c1c">FL1-H</text>
<path d="M472.40,429.92 L472.73,430.20 L473.07,429.54 L473.40,429.90 L473.73,429.12 L474.07,429.50 L474.40,428.90 L474.73,429.28 L475.07,429.07 L475.40,429.30 L475.73,428.72 L476.07,428.39 L476.40,428.27 L476.73,427.82 L477.07,429.07 L477.40,427.47 L477.73,428.16 L478.07,428.34 L478.40,427.83 L478.73,427.18 L479.07,427.85 L479.40,428.18 L479.73,428.01 L480.07,426.65 L480.40,427.24 L480.73,427.43 L481.07,428.20 L481.40,426.84 L481.73,426.79 L482.07,427.27 L482.40,425.74 L482.73,426.08 L483.07,425.19 L483.40,425.80 L483.73,425.47 L484.07,425.43 L484.40,425.96 L484.73,425.77 L485.07,425.51 L485.40,424.99 L485.73,424.69 L486.07,424.18 L486.40,424.89 L486.73,424.86 L487.07,424.21 L487.40,423.77 L487.73,423.64 L488.07,424.34 L488.40,424.54 L488.73,424.22 L489.07,423.03 L489.40,423.10 L489.73,422.80 L490.07,424.06 L490.40,423.41 L490.73,422.38 L491.07,423.15 L491.40,422.94 L491.73,422.79 L492.07,422.73 L492.40,422.03 L492.73,421.77 L493.07,422.57 L493.40,423.29 L493.73,421.31 L494.07,421.16 L494.40,422.13 L494.73,420.88 L495.07,419.93 L495.40,421.16 L495.73,421.92 L496.07,421.87 L496.40,421.60 L496.73,420.56 L497.07,421.04 L497.40,420.44 L497.73,420.26 L498.07,420.77 L498.40,419.68 L498.73,420.83 L499.07,420.47 L499.40,420.43 L499.73,420.16 L500.07,419.32 L500.40,420.96 L500.73,420.85 L501.07,419.23 L501.40,419.18 L501.73,418.77 L502.07,418.79 L502.40,419.33 L502.73,419.53 L503.07,418.17 L503.40,417.88 L503.73,417.49 L504.07,418.07 L504.40,417.73 L504.73,417.95 L505.07,417.83 L505.40,416.43 L505.73,416.74 L506.07,417.41 L506.40,416.35 L506.73,416.24 L507.07,415.38 L507.40,416.97 L507.73,416.41 L508.07,415.70 L508.40,416.24 L508.73,416.52 L509.07,416.33 L509.40,414.82 L509.73,414.84 L510.07,414.92 L510.40,415.22 L510.73,412.94 L511.07,414.16 L511.40,412.81 L511.73,414.51 L512.07,413.28 L512.40,413.57 L512.73,412.53 L513.07,413.59 L513.40,412.70 L513.73,411.36 L514.07,410.23 L514.40,411.50 L514.73,411.19 L515.07,410.20 L515.40,409.95 L515.73,409.29 L516.07,410.29 L516.40,410.16 L516.73,408.31 L517.07,407.82 L517.40,408.54 L517.73,406.62 L518.07,407.48 L518.40,407.44 L518.73,407.07 L519.07,408.03 L519.40,405.97 L519.73,406.88 L520.07,406.24 L520.40,405.75 L520.73,406.10 L521.07,405.54 L521.40,405.43 L521.73,404.46 L522.07,403.84 L522.40,405.49 L522.73,405.01 L523.07,404.14 L523.40,403.06 L523.73,403.98 L524.07,401.89 L524.40,402.50 L524.73,402.51 L525.07,401.92 L525.40,400.51 L525.73,403.31 L526.07,400.30 L526.40,402.47 L526.73,402.95 L527.07,401.47 L527.40,401.00 L527.73,399.20 L528.07,399.80 L528.40,398.08 L528.73,399.43 L529.07,400.23 L529.40,398.62 L529.73,400.03 L530.07,399.85 L530.40,402.02 L530.73,401.24 L531.07,401.79 L531.40,401.33 L531.73,401.91 L532.07,401.98 L532.40,401.15 L532.73,403.22 L533.07,401.81 L533.40,400.53 L533.73,400.94 L534.07,401.15 L534.40,400.80 L534.73,400.46 L535.07,399.48 L535.40,398.60 L535.73,398.09 L536.07,397.40 L536.40,399.15 L536.73,398.37 L537.07,399.16 L537.40,397.83 L537.73,398.23 L538.07,398.73 L538.40,397.66 L538.73,398.28 L539.07,398.23 L539.40,398.57 L539.73,397.12 L540.07,397.07 L540.40,396.50 L540.73,397.27 L541.07,396.29 L541.40,399.18 L541.73,395.88 L542.07,397.83 L542.40,396.89 L542.73,395.42 L543.07,395.74 L543.40,393.83 L543.73,394.42 L544.07,394.49 L544.40,396.39 L544.73,393.12 L545.07,393.06 L545.40,393.55 L545.73,393.15 L546.07,390.42 L546.40,392.74 L546.73,391.52 L547.07,391.63 L547.40,392.33 L547.73,391.93 L548.07,391.68 L548.40,393.34 L548.73,394.71 L549.07,393.33 L549.40,394.57 L549.73,392.99 L550.07,392.17 L550.40,390.50 L550.73,387.82 L551.07,388.22 L551.40,384.80 L551.73,382.89 L552.07,385.90 L552.40,387.76 L552.73,389.66 L553.07,390.86 L553.40,392.33 L553.73,396.19 L554.07,393.21 L554.40,394.07 L554.73,394.73 L555.07,395.27 L555.40,394.59 L555.73,395.85 L556.07,394.83 L556.40,396.47 L556.73,394.15 L557.07,395.88 L557.40,396.75 L557.73,396.73 L558.07,398.58 L558.40,399.96 L558.73,400.33 L559.07,401.72 L559.40,403.26 L559.73,404.59 L560.07,405.91 L560.40,406.06 L560.73,407.72 L561.07,408.71 L561.40,409.70 L561.73,410.13 L562.07,409.10 L562.40,412.58 L562.73,412.79 L563.07,413.18 L563.40,413.50 L563.73,414.72 L564.07,415.24 L564.40,415.53 L564.73,416.82 L565.07,418.44 L565.40,418.36 L565.73,419.43 L566.07,421.64 L566.40,420.91 L566.73,422.15 L567.07,421.72 L567.40,423.10 L567.73,423.22 L568.07,423.93 L568.40,423.72 L568.73,425.15 L569.07,425.82 L569.40,425.52 L569.73,426.53 L570.07,427.36 L570.40,427.58 L570.73,428.09 L571.07,428.03 L571.40,428.91 L571.73,429.52 L572.07,428.95 L572.40,429.93 L572.73,429.64 L573.07,430.36 L573.40,430.87 L573.73,430.15 L574.07,429.56 L574.40,430.83 L574.73,431.45 L575.07,431.31 L575.40,431.00 L575.73,431.04 L576.07,431.29 L576.40,431.37 L576.73,431.53 L577.07,431.64 L577.40,431.75" fill="none" stroke="#404040" stroke-width="1.0" stroke-linejoin="round"/>
<line x1="472.20" y1="431.8" x2="472.20" y2="366.88" stroke="#111" stroke-width="1.8"/>
<path d="M472.90,427.98 L473.23,428.61 L473.57,426.56 L473.90,429.02 L474.23,426.09 L474.57,429.63 L474.90,428.40 L475.23,426.57 L475.57,424.52 L475.90,427.93 L476.23,425.95 L476.57,426.99 L476.90,425.73 L477.23,427.85 L477.57,425.61 L477.90,426.33 L478.23,424.17 L478.57,424.59 L478.90,424.82 L479.23,425.53 L479.57,423.46 L479.90,425.07 L480.23,426.64 L480.57,423.22 L480.90,423.56 L481.23,424.52 L481.57,422.62 L481.90,423.01 L482.23,422.08 L482.57,422.57 L482.90,424.15 L483.23,422.34 L483.57,422.44 L483.90,423.28 L484.23,423.60 L484.57,422.19 L484.90,421.36 L485.23,422.20 L485.57,420.66 L485.90,422.36 L486.23,421.33 L486.57,422.97 L486.90,419.10 L487.23,422.03 L487.57,419.11 L487.90,419.67 L488.23,424.05 L488.57,420.78 L488.90,422.48 L489.23,419.59 L489.57,420.20 L489.90,418.56 L490.23,420.14 L490.57,419.51 L490.90,418.05 L491.23,419.02 L491.57,418.30 L491.90,420.28 L492.23,419.34 L492.57,419.96 L492.90,416.87 L493.23,419.42 L493.57,420.37 L493.90,417.10 L494.23,416.81 L494.57,417.84 L494.90,417.74 L495.23,414.30 L495.57,415.79 L495.90,417.20 L496.23,413.92 L496.57,417.32 L496.90,415.09 L497.23,414.06 L497.57,417.28 L497.90,416.48 L498.23,413.82 L498.57,416.27 L498.90,415.01 L499.23,415.39 L499.57,417.69 L499.90,413.14 L500.23,415.53 L500.57,413.26 L500.90,413.15 L501.23,415.20 L501.57,414.43 L501.90,413.17 L502.23,413.67 L502.57,412.83 L502.90,409.94 L503.23,411.98 L503.57,411.94 L503.90,414.70 L504.23,407.01 L504.57,414.23 L504.90,413.79 L505.23,412.75 L505.57,412.08 L505.90,409.33 L506.23,415.63 L506.57,409.19 L506.90,411.75 L507.23,412.30 L507.57,409.56 L507.90,410.34 L508.23,411.03 L508.57,410.37 L508.90,412.36 L509.23,413.71 L509.57,405.90 L509.90,409.07 L510.23,411.73 L510.57,407.88 L510.90,410.73 L511.23,412.56 L511.57,408.65 L511.90,408.56 L512.23,404.51 L512.57,405.84 L512.90,405.15 L513.23,407.15 L513.57,403.69 L513.90,404.25 L514.23,403.26 L514.57,405.14 L514.90,405.86 L515.23,402.19 L515.57,402.07 L515.90,400.15 L516.23,401.70 L516.57,399.44 L516.90,399.15 L517.23,396.96 L517.57,394.43 L517.90,392.20 L518.23,393.63 L518.57,394.46 L518.90,391.69 L519.23,391.16 L519.57,388.26 L519.90,386.71 L520.23,384.64 L520.57,382.96 L520.90,384.41 L521.23,381.99 L521.57,381.69 L521.90,378.05 L522.23,379.49 L522.57,374.76 L522.90,376.39 L523.23,373.73 L523.57,374.64 L523.90,371.15 L524.23,367.36 L524.57,365.69 L524.90,368.84 L525.23,363.23 L525.57,361.65 L525.90,359.58 L526.23,362.42 L526.57,358.26 L526.90,354.95 L527.23,348.20 L527.57,355.36 L527.90,356.25 L528.23,356.36 L528.57,355.13 L528.90,359.63 L529.23,362.45 L529.57,363.53 L529.90,362.78 L530.23,367.62 L530.57,366.57 L530.90,364.67 L531.23,370.40 L531.57,372.63 L531.90,375.29 L532.23,379.33 L532.57,375.80 L532.90,380.20 L533.23,386.88 L533.57,386.28 L533.90,386.38 L534.23,390.02 L534.57,396.00 L534.90,399.88 L535.23,400.75 L535.57,404.39 L535.90,404.52 L536.23,403.31 L536.57,407.07 L536.90,410.14 L537.23,409.94 L537.57,413.21 L537.90,414.42 L538.23,417.68 L538.57,420.68 L538.90,420.48 L539.23,420.39 L539.57,418.90 L539.90,419.78 L540.23,420.71 L540.57,421.75 L540.90,423.11 L541.23,425.33 L541.57,425.36 L541.90,424.99 L542.23,424.48 L542.57,425.75 L542.90,428.55 L543.23,425.43 L543.57,427.54 L543.90,428.65 L544.23,427.56 L544.57,429.12 L544.90,427.79 L545.23,428.05 L545.57,427.71 L545.90,428.03 L546.23,429.23 L546.57,430.45 L546.90,428.40 L547.23,428.62 L547.57,428.92 L547.90,429.87 L548.23,431.14 L548.57,430.88 L548.90,429.19 L549.23,430.67 L549.57,430.45 L549.90,430.96 L550.23,431.27 L550.57,431.80 L550.90,430.60 L551.23,431.07 L551.57,431.41 L551.90,430.55 L552.23,431.80 L552.57,431.75 L552.90,430.53 L553.23,431.80 L553.57,430.99 L553.90,431.80 L554.23,431.51 L554.57,431.52 L554.90,431.57 L555.23,431.61 L555.57,431.65 L555.90,431.69 L556.23,431.73" fill="none" stroke="#000" stroke-width="1.7" stroke-linejoin="round"/>
<text x="65.2" y="361.0" text-anchor="middle" font-size="23" font-weight="bold" fill="#1c1c1c">30 nM</text>
<text x="65.2" y="388.2" text-anchor="middle" font-size="23" font-weight="bold" fill="#1c1c1c">Paclitaxel</text>
<text x="771.0" y="361.0" text-anchor="middle" font-size="23" font-weight="bold" fill="#1c1c1c">3 000 nM</text>
<text x="771.0" y="388.2" text-anchor="middle" font-size="23" font-weight="bold" fill="#1c1c1c">Paclitaxel</text>
<path d="M186.70,626.0 L186.70,622.58 L187.03,622.45 L187.37,623.25 L187.70,622.85 L188.03,623.56 L188.37,623.06 L188.70,622.45 L189.03,622.93 L189.37,622.59 L189.70,622.13 L190.03,622.73 L190.37,621.93 L190.70,623.02 L191.03,622.47 L191.37,621.78 L191.70,621.77 L192.03,622.18 L192.37,621.00 L192.70,621.55 L193.03,620.82 L193.37,621.48 L193.70,621.32 L194.03,621.89 L194.37,621.03 L194.70,621.04 L195.03,621.62 L195.37,620.51 L195.70,621.38 L196.03,620.53 L196.37,620.05 L196.70,620.91 L197.03,620.71 L197.37,620.08 L197.70,621.03 L198.03,620.95 L198.37,619.77 L198.70,619.78 L199.03,619.97 L199.37,619.87 L199.70,619.55 L200.03,620.18 L200.37,619.82 L200.70,619.86 L201.03,619.71 L201.37,619.76 L201.70,619.17 L202.03,619.11 L202.37,619.29 L202.70,619.28 L203.03,619.93 L203.37,619.56 L203.70,618.89 L204.03,618.70 L204.37,619.91 L204.70,619.39 L205.03,619.56 L205.37,618.46 L205.70,618.96 L206.03,619.40 L206.37,619.69 L206.70,618.65 L207.03,618.84 L207.37,618.68 L207.70,618.88 L208.03,618.53 L208.37,618.84 L208.70,618.56 L209.03,619.19 L209.37,618.31 L209.70,618.01 L210.03,617.76 L210.37,618.47 L210.70,617.29 L211.03,617.63 L211.37,618.36 L211.70,619.02 L212.03,617.01 L212.37,617.65 L212.70,617.96 L213.03,617.88 L213.37,618.77 L213.70,618.16 L214.03,617.56 L214.37,618.44 L214.70,618.24 L215.03,618.02 L215.37,617.07 L215.70,617.84 L216.03,618.63 L216.37,617.45 L216.70,617.87 L217.03,616.58 L217.37,616.99 L217.70,616.95 L218.03,617.55 L218.37,618.10 L218.70,616.82 L219.03,617.50 L219.37,617.34 L219.70,616.58 L220.03,617.23 L220.37,616.81 L220.70,617.05 L221.03,616.35 L221.37,617.08 L221.70,617.09 L222.03,616.69 L222.37,616.29 L222.70,615.56 L223.03,615.81 L223.37,617.01 L223.70,616.45 L224.03,616.03 L224.37,616.81 L224.70,616.47 L225.03,615.60 L225.37,615.95 L225.70,616.38 L226.03,616.10 L226.37,615.62 L226.70,615.46 L227.03,613.97 L227.37,615.31 L227.70,614.55 L228.03,616.19 L228.37,616.14 L228.70,615.35 L229.03,615.32 L229.37,614.97 L229.70,615.56 L230.03,615.71 L230.37,615.67 L230.70,616.31 L231.03,615.81 L231.37,615.45 L231.70,615.66 L232.03,614.94 L232.37,614.80 L232.70,616.08 L233.03,614.33 L233.37,614.13 L233.70,614.35 L234.03,615.11 L234.37,613.93 L234.70,614.73 L235.03,615.75 L235.37,614.54 L235.70,614.96 L236.03,613.18 L236.37,613.78 L236.70,613.43 L237.03,614.54 L237.37,614.06 L237.70,614.63 L238.03,613.95 L238.37,614.05 L238.70,612.52 L239.03,613.28 L239.37,614.63 L239.70,612.39 L240.03,612.94 L240.37,613.14 L240.70,612.37 L241.03,612.51 L241.37,612.88 L241.70,612.64 L242.03,612.86 L242.37,612.39 L242.70,613.48 L243.03,611.06 L243.37,611.85 L243.70,612.25 L244.03,612.18 L244.37,612.02 L244.70,611.57 L245.03,611.15 L245.37,612.99 L245.70,611.64 L246.03,611.65 L246.37,610.32 L246.70,611.41 L247.03,612.17 L247.37,611.98 L247.70,611.71 L248.03,611.10 L248.37,612.51 L248.70,612.68 L249.03,611.19 L249.37,611.98 L249.70,612.57 L250.03,611.63 L250.37,612.22 L250.70,610.06 L251.03,610.20 L251.37,611.46 L251.70,611.90 L252.03,611.10 L252.37,611.75 L252.70,611.55 L253.03,611.74 L253.37,611.11 L253.70,611.62 L254.03,611.30 L254.37,610.93 L254.70,611.05 L255.03,611.32 L255.37,612.47 L255.70,611.79 L256.03,611.71 L256.37,610.02 L256.70,612.32 L257.03,612.23 L257.37,611.24 L257.70,612.67 L258.03,611.04 L258.37,611.42 L258.70,611.38 L259.03,611.44 L259.37,610.61 L259.70,611.02 L260.03,610.13 L260.37,609.43 L260.70,610.11 L261.03,609.22 L261.37,609.04 L261.70,606.61 L262.03,607.19 L262.37,607.02 L262.70,606.29 L263.03,605.58 L263.37,605.23 L263.70,603.33 L264.03,604.72 L264.37,603.31 L264.70,601.32 L265.03,601.84 L265.37,600.67 L265.70,600.27 L266.03,599.91 L266.37,598.54 L266.70,598.03 L267.03,597.07 L267.37,594.69 L267.70,594.04 L268.03,594.75 L268.37,594.40 L268.70,591.43 L269.03,591.89 L269.37,591.74 L269.70,589.91 L270.03,588.44 L270.37,587.94 L270.70,587.91 L271.03,586.81 L271.37,586.11 L271.70,583.05 L272.03,582.26 L272.37,581.46 L272.70,579.68 L273.03,578.91 L273.37,576.17 L273.70,575.47 L274.03,571.46 L274.37,573.86 L274.70,570.24 L275.03,570.90 L275.37,569.66 L275.70,567.19 L276.03,565.41 L276.37,565.60 L276.70,563.55 L277.03,562.34 L277.37,561.70 L277.70,560.59 L278.03,558.36 L278.37,554.84 L278.70,555.90 L279.03,554.21 L279.37,552.57 L279.70,547.65 L280.03,544.72 L280.37,544.96 L280.70,541.23 L281.03,540.17 L281.37,543.93 L281.70,543.05 L282.03,545.46 L282.37,549.03 L282.70,551.13 L283.03,550.06 L283.37,551.83 L283.70,552.53 L284.03,552.95 L284.37,553.67 L284.70,555.31 L285.03,555.28 L285.37,560.99 L285.70,561.40 L286.03,563.45 L286.37,563.66 L286.70,567.57 L287.03,569.75 L287.37,570.74 L287.70,572.24 L288.03,574.82 L288.37,577.50 L288.70,579.72 L289.03,582.87 L289.37,584.47 L289.70,586.58 L290.03,587.90 L290.37,590.45 L290.70,592.57 L291.03,595.68 L291.37,597.57 L291.70,598.52 L292.03,602.53 L292.37,603.82 L292.70,607.37 L293.03,606.57 L293.37,608.21 L293.70,609.10 L294.03,610.03 L294.37,611.43 L294.70,612.90 L295.03,613.64 L295.37,613.86 L295.70,616.11 L296.03,617.00 L296.37,618.09 L296.70,618.36 L297.03,618.26 L297.37,618.69 L297.70,619.47 L298.03,620.26 L298.37,620.42 L298.70,621.11 L299.03,620.95 L299.37,622.08 L299.70,623.99 L300.03,623.64 L300.37,623.05 L300.70,623.10 L301.03,623.94 L301.37,623.37 L301.70,624.31 L302.03,624.48 L302.37,624.49 L302.70,624.62 L303.03,625.34 L303.37,624.73 L303.70,624.95 L303.70,626.0 Z" fill="#cbd3dd" stroke="none"/>
<line x1="186.2" y1="500.9" x2="186.2" y2="626.0" stroke="#7a7a7a" stroke-width="1"/>
<line x1="184.6" y1="500.90" x2="186.2" y2="500.90" stroke="#7a7a7a" stroke-width="1"/>
<line x1="184.6" y1="532.17" x2="186.2" y2="532.17" stroke="#7a7a7a" stroke-width="1"/>
<line x1="184.6" y1="563.45" x2="186.2" y2="563.45" stroke="#7a7a7a" stroke-width="1"/>
<line x1="184.6" y1="594.73" x2="186.2" y2="594.73" stroke="#7a7a7a" stroke-width="1"/>
<line x1="184.6" y1="626.00" x2="186.2" y2="626.00" stroke="#7a7a7a" stroke-width="1"/>
<line x1="186.2" y1="626.0" x2="396.7" y2="626.0" stroke="#7a7a7a" stroke-width="1"/>
<line x1="186.20" y1="626.0" x2="186.20" y2="629.0" stroke="#7a7a7a" stroke-width="1"/>
<line x1="202.04" y1="626.0" x2="202.04" y2="628.0" stroke="#7a7a7a" stroke-width="1"/>
<line x1="211.31" y1="626.0" x2="211.31" y2="628.0" stroke="#7a7a7a" stroke-width="1"/>
<line x1="217.88" y1="626.0" x2="217.88" y2="628.0" stroke="#7a7a7a" stroke-width="1"/>
<line x1="222.98" y1="626.0" x2="222.98" y2="628.0" stroke="#7a7a7a" stroke-width="1"/>
<line x1="227.15" y1="626.0" x2="227.15" y2="628.0" stroke="#7a7a7a" stroke-width="1"/>
<line x1="230.67" y1="626.0" x2="230.67" y2="628.0" stroke="#7a7a7a" stroke-width="1"/>
<line x1="233.73" y1="626.0" x2="233.73" y2="628.0" stroke="#7a7a7a" stroke-width="1"/>
<line x1="236.42" y1="626.0" x2="236.42" y2="628.0" stroke="#7a7a7a" stroke-width="1"/>
<line x1="238.82" y1="626.0" x2="238.82" y2="629.0" stroke="#7a7a7a" stroke-width="1"/>
<line x1="254.67" y1="626.0" x2="254.67" y2="628.0" stroke="#7a7a7a" stroke-width="1"/>
<line x1="263.93" y1="626.0" x2="263.93" y2="628.0" stroke="#7a7a7a" stroke-width="1"/>
<line x1="270.51" y1="626.0" x2="270.51" y2="628.0" stroke="#7a7a7a" stroke-width="1"/>
<line x1="275.61" y1="626.0" x2="275.61" y2="628.0" stroke="#7a7a7a" stroke-width="1"/>
<line x1="279.78" y1="626.0" x2="279.78" y2="628.0" stroke="#7a7a7a" stroke-width="1"/>
<line x1="283.30" y1="626.0" x2="283.30" y2="628.0" stroke="#7a7a7a" stroke-width="1"/>
<line x1="286.35" y1="626.0" x2="286.35" y2="628.0" stroke="#7a7a7a" stroke-width="1"/>
<line x1="289.04" y1="626.0" x2="289.04" y2="628.0" stroke="#7a7a7a" stroke-width="1"/>
<line x1="291.45" y1="626.0" x2="291.45" y2="629.0" stroke="#7a7a7a" stroke-width="1"/>
<line x1="307.29" y1="626.0" x2="307.29" y2="628.0" stroke="#7a7a7a" stroke-width="1"/>
<line x1="316.56" y1="626.0" x2="316.56" y2="628.0" stroke="#7a7a7a" stroke-width="1"/>
<line x1="323.13" y1="626.0" x2="323.13" y2="628.0" stroke="#7a7a7a" stroke-width="1"/>
<line x1="328.23" y1="626.0" x2="328.23" y2="628.0" stroke="#7a7a7a" stroke-width="1"/>
<line x1="332.40" y1="626.0" x2="332.40" y2="628.0" stroke="#7a7a7a" stroke-width="1"/>
<line x1="335.92" y1="626.0" x2="335.92" y2="628.0" stroke="#7a7a7a" stroke-width="1"/>
<line x1="338.98" y1="626.0" x2="338.98" y2="628.0" stroke="#7a7a7a" stroke-width="1"/>
<line x1="341.67" y1="626.0" x2="341.67" y2="628.0" stroke="#7a7a7a" stroke-width="1"/>
<line x1="344.07" y1="626.0" x2="344.07" y2="629.0" stroke="#7a7a7a" stroke-width="1"/>
<line x1="359.92" y1="626.0" x2="359.92" y2="628.0" stroke="#7a7a7a" stroke-width="1"/>
<line x1="369.18" y1="626.0" x2="369.18" y2="628.0" stroke="#7a7a7a" stroke-width="1"/>
<line x1="375.76" y1="626.0" x2="375.76" y2="628.0" stroke="#7a7a7a" stroke-width="1"/>
<line x1="380.86" y1="626.0" x2="380.86" y2="628.0" stroke="#7a7a7a" stroke-width="1"/>
<line x1="385.03" y1="626.0" x2="385.03" y2="628.0" stroke="#7a7a7a" stroke-width="1"/>
<line x1="388.55" y1="626.0" x2="388.55" y2="628.0" stroke="#7a7a7a" stroke-width="1"/>
<line x1="391.60" y1="626.0" x2="391.60" y2="628.0" stroke="#7a7a7a" stroke-width="1"/>
<line x1="394.29" y1="626.0" x2="394.29" y2="628.0" stroke="#7a7a7a" stroke-width="1"/>
<line x1="396.70" y1="626.0" x2="396.70" y2="629.0" stroke="#7a7a7a" stroke-width="1"/>
<text transform="translate(180.5,499.79999999999995) rotate(-90)" text-anchor="middle" font-size="14.6" fill="#1c1c1c">256</text>
<text transform="translate(180.89999999999998,626.2) rotate(-90)" text-anchor="middle" font-size="15" fill="#1c1c1c">0</text>
<text transform="translate(168.7,563.45) rotate(-90)" text-anchor="middle" font-size="15" fill="#1c1c1c">Events</text>
<text x="179.90" y="640.80" font-size="14" fill="#1c1c1c">10<tspan font-size="9.5" dy="-5.3" dx="0.3">0</tspan></text>
<text x="232.52" y="640.80" font-size="14" fill="#1c1c1c">10<tspan font-size="9.5" dy="-5.3" dx="0.3">1</tspan></text>
<text x="285.15" y="640.80" font-size="14" fill="#1c1c1c">10<tspan font-size="9.5" dy="-5.3" dx="0.3">2</tspan></text>
<text x="337.77" y="640.80" font-size="14" fill="#1c1c1c">10<tspan font-size="9.5" dy="-5.3" dx="0.3">3</tspan></text>
<text x="390.40" y="640.80" font-size="14" fill="#1c1c1c">10<tspan font-size="9.5" dy="-5.3" dx="0.3">4</tspan></text>
<text x="291.95" y="656.50" text-anchor="middle" font-size="14" letter-spacing="0.5" fill="#1c1c1c">FL1-H</text>
<path d="M186.70,622.58 L187.03,622.45 L187.37,623.25 L187.70,622.85 L188.03,623.56 L188.37,623.06 L188.70,622.45 L189.03,622.93 L189.37,622.59 L189.70,622.13 L190.03,622.73 L190.37,621.93 L190.70,623.02 L191.03,622.47 L191.37,621.78 L191.70,621.77 L192.03,622.18 L192.37,621.00 L192.70,621.55 L193.03,620.82 L193.37,621.48 L193.70,621.32 L194.03,621.89 L194.37,621.03 L194.70,621.04 L195.03,621.62 L195.37,620.51 L195.70,621.38 L196.03,620.53 L196.37,620.05 L196.70,620.91 L197.03,620.71 L197.37,620.08 L197.70,621.03 L198.03,620.95 L198.37,619.77 L198.70,619.78 L199.03,619.97 L199.37,619.87 L199.70,619.55 L200.03,620.18 L200.37,619.82 L200.70,619.86 L201.03,619.71 L201.37,619.76 L201.70,619.17 L202.03,619.11 L202.37,619.29 L202.70,619.28 L203.03,619.93 L203.37,619.56 L203.70,618.89 L204.03,618.70 L204.37,619.91 L204.70,619.39 L205.03,619.56 L205.37,618.46 L205.70,618.96 L206.03,619.40 L206.37,619.69 L206.70,618.65 L207.03,618.84 L207.37,618.68 L207.70,618.88 L208.03,618.53 L208.37,618.84 L208.70,618.56 L209.03,619.19 L209.37,618.31 L209.70,618.01 L210.03,617.76 L210.37,618.47 L210.70,617.29 L211.03,617.63 L211.37,618.36 L211.70,619.02 L212.03,617.01 L212.37,617.65 L212.70,617.96 L213.03,617.88 L213.37,618.77 L213.70,618.16 L214.03,617.56 L214.37,618.44 L214.70,618.24 L215.03,618.02 L215.37,617.07 L215.70,617.84 L216.03,618.63 L216.37,617.45 L216.70,617.87 L217.03,616.58 L217.37,616.99 L217.70,616.95 L218.03,617.55 L218.37,618.10 L218.70,616.82 L219.03,617.50 L219.37,617.34 L219.70,616.58 L220.03,617.23 L220.37,616.81 L220.70,617.05 L221.03,616.35 L221.37,617.08 L221.70,617.09 L222.03,616.69 L222.37,616.29 L222.70,615.56 L223.03,615.81 L223.37,617.01 L223.70,616.45 L224.03,616.03 L224.37,616.81 L224.70,616.47 L225.03,615.60 L225.37,615.95 L225.70,616.38 L226.03,616.10 L226.37,615.62 L226.70,615.46 L227.03,613.97 L227.37,615.31 L227.70,614.55 L228.03,616.19 L228.37,616.14 L228.70,615.35 L229.03,615.32 L229.37,614.97 L229.70,615.56 L230.03,615.71 L230.37,615.67 L230.70,616.31 L231.03,615.81 L231.37,615.45 L231.70,615.66 L232.03,614.94 L232.37,614.80 L232.70,616.08 L233.03,614.33 L233.37,614.13 L233.70,614.35 L234.03,615.11 L234.37,613.93 L234.70,614.73 L235.03,615.75 L235.37,614.54 L235.70,614.96 L236.03,613.18 L236.37,613.78 L236.70,613.43 L237.03,614.54 L237.37,614.06 L237.70,614.63 L238.03,613.95 L238.37,614.05 L238.70,612.52 L239.03,613.28 L239.37,614.63 L239.70,612.39 L240.03,612.94 L240.37,613.14 L240.70,612.37 L241.03,612.51 L241.37,612.88 L241.70,612.64 L242.03,612.86 L242.37,612.39 L242.70,613.48 L243.03,611.06 L243.37,611.85 L243.70,612.25 L244.03,612.18 L244.37,612.02 L244.70,611.57 L245.03,611.15 L245.37,612.99 L245.70,611.64 L246.03,611.65 L246.37,610.32 L246.70,611.41 L247.03,612.17 L247.37,611.98 L247.70,611.71 L248.03,611.10 L248.37,612.51 L248.70,612.68 L249.03,611.19 L249.37,611.98 L249.70,612.57 L250.03,611.63 L250.37,612.22 L250.70,610.06 L251.03,610.20 L251.37,611.46 L251.70,611.90 L252.03,611.10 L252.37,611.75 L252.70,611.55 L253.03,611.74 L253.37,611.11 L253.70,611.62 L254.03,611.30 L254.37,610.93 L254.70,611.05 L255.03,611.32 L255.37,612.47 L255.70,611.79 L256.03,611.71 L256.37,610.02 L256.70,612.32 L257.03,612.23 L257.37,611.24 L257.70,612.67 L258.03,611.04 L258.37,611.42 L258.70,611.38 L259.03,611.44 L259.37,610.61 L259.70,611.02 L260.03,610.13 L260.37,609.43 L260.70,610.11 L261.03,609.22 L261.37,609.04 L261.70,606.61 L262.03,607.19 L262.37,607.02 L262.70,606.29 L263.03,605.58 L263.37,605.23 L263.70,603.33 L264.03,604.72 L264.37,603.31 L264.70,601.32 L265.03,601.84 L265.37,600.67 L265.70,600.27 L266.03,599.91 L266.37,598.54 L266.70,598.03 L267.03,597.07 L267.37,594.69 L267.70,594.04 L268.03,594.75 L268.37,594.40 L268.70,591.43 L269.03,591.89 L269.37,591.74 L269.70,589.91 L270.03,588.44 L270.37,587.94 L270.70,587.91 L271.03,586.81 L271.37,586.11 L271.70,583.05 L272.03,582.26 L272.37,581.46 L272.70,579.68 L273.03,578.91 L273.37,576.17 L273.70,575.47 L274.03,571.46 L274.37,573.86 L274.70,570.24 L275.03,570.90 L275.37,569.66 L275.70,567.19 L276.03,565.41 L276.37,565.60 L276.70,563.55 L277.03,562.34 L277.37,561.70 L277.70,560.59 L278.03,558.36 L278.37,554.84 L278.70,555.90 L279.03,554.21 L279.37,552.57 L279.70,547.65 L280.03,544.72 L280.37,544.96 L280.70,541.23 L281.03,540.17 L281.37,543.93 L281.70,543.05 L282.03,545.46 L282.37,549.03 L282.70,551.13 L283.03,550.06 L283.37,551.83 L283.70,552.53 L284.03,552.95 L284.37,553.67 L284.70,555.31 L285.03,555.28 L285.37,560.99 L285.70,561.40 L286.03,563.45 L286.37,563.66 L286.70,567.57 L287.03,569.75 L287.37,570.74 L287.70,572.24 L288.03,574.82 L288.37,577.50 L288.70,579.72 L289.03,582.87 L289.37,584.47 L289.70,586.58 L290.03,587.90 L290.37,590.45 L290.70,592.57 L291.03,595.68 L291.37,597.57 L291.70,598.52 L292.03,602.53 L292.37,603.82 L292.70,607.37 L293.03,606.57 L293.37,608.21 L293.70,609.10 L294.03,610.03 L294.37,611.43 L294.70,612.90 L295.03,613.64 L295.37,613.86 L295.70,616.11 L296.03,617.00 L296.37,618.09 L296.70,618.36 L297.03,618.26 L297.37,618.69 L297.70,619.47 L298.03,620.26 L298.37,620.42 L298.70,621.11 L299.03,620.95 L299.37,622.08 L299.70,623.99 L300.03,623.64 L300.37,623.05 L300.70,623.10 L301.03,623.94 L301.37,623.37 L301.70,624.31 L302.03,624.48 L302.37,624.49 L302.70,624.62 L303.03,625.34 L303.37,624.73 L303.70,624.95" fill="none" stroke="#404040" stroke-width="1.0" stroke-linejoin="round"/>
<line x1="186.50" y1="626.0" x2="186.50" y2="561.58" stroke="#111" stroke-width="1.8"/>
<path d="M187.20,623.37 L187.53,620.56 L187.87,620.62 L188.20,622.02 L188.53,618.59 L188.87,619.80 L189.20,620.72 L189.53,621.05 L189.87,619.56 L190.20,621.77 L190.53,619.00 L190.87,618.68 L191.20,617.63 L191.53,619.29 L191.87,619.29 L192.20,618.62 L192.53,618.42 L192.87,618.65 L193.20,618.75 L193.53,617.03 L193.87,620.13 L194.20,617.38 L194.53,618.55 L194.87,616.71 L195.20,618.21 L195.53,617.02 L195.87,618.76 L196.20,619.36 L196.53,616.11 L196.87,617.71 L197.20,618.18 L197.53,615.95 L197.87,616.50 L198.20,615.54 L198.53,615.16 L198.87,618.31 L199.20,616.34 L199.53,615.43 L199.87,618.45 L200.20,615.57 L200.53,615.89 L200.87,617.09 L201.20,618.83 L201.53,614.01 L201.87,615.00 L202.20,617.45 L202.53,614.55 L202.87,615.28 L203.20,614.24 L203.53,615.82 L203.87,616.53 L204.20,615.11 L204.53,615.51 L204.87,613.64 L205.20,613.29 L205.53,613.96 L205.87,616.83 L206.20,615.37 L206.53,613.33 L206.87,617.30 L207.20,616.37 L207.53,614.98 L207.87,615.88 L208.20,616.49 L208.53,616.10 L208.87,615.57 L209.20,616.44 L209.53,613.35 L209.87,615.01 L210.20,615.50 L210.53,612.02 L210.87,616.68 L211.20,616.47 L211.53,616.36 L211.87,615.42 L212.20,614.21 L212.53,614.25 L212.87,616.63 L213.20,613.20 L213.53,615.85 L213.87,615.23 L214.20,615.04 L214.53,614.63 L214.87,613.61 L215.20,616.58 L215.53,616.42 L215.87,614.43 L216.20,612.49 L216.53,614.61 L216.87,614.70 L217.20,614.21 L217.53,617.12 L217.87,615.43 L218.20,616.73 L218.53,613.83 L218.87,616.29 L219.20,614.40 L219.53,613.16 L219.87,617.22 L220.20,616.90 L220.53,611.72 L220.87,614.97 L221.20,615.59 L221.53,615.74 L221.87,614.56 L222.20,612.09 L222.53,612.85 L222.87,610.16 L223.20,615.77 L223.53,613.72 L223.87,613.93 L224.20,610.53 L224.53,611.93 L224.87,611.85 L225.20,613.49 L225.53,612.42 L225.87,612.84 L226.20,613.62 L226.53,612.85 L226.87,613.32 L227.20,613.42 L227.53,614.49 L227.87,612.62 L228.20,613.02 L228.53,610.55 L228.87,611.14 L229.20,611.93 L229.53,612.01 L229.87,612.78 L230.20,609.80 L230.53,611.32 L230.87,611.78 L231.20,609.70 L231.53,614.10 L231.87,610.01 L232.20,607.82 L232.53,607.97 L232.87,611.24 L233.20,606.32 L233.53,608.62 L233.87,605.59 L234.20,607.64 L234.53,607.96 L234.87,604.01 L235.20,606.56 L235.53,603.82 L235.87,606.62 L236.20,603.11 L236.53,603.70 L236.87,600.57 L237.20,601.91 L237.53,604.57 L237.87,601.95 L238.20,601.42 L238.53,593.53 L238.87,598.63 L239.20,597.30 L239.53,594.07 L239.87,597.86 L240.20,595.99 L240.53,592.45 L240.87,589.76 L241.20,593.22 L241.53,586.81 L241.87,591.34 L242.20,587.36 L242.53,589.52 L242.87,586.70 L243.20,584.08 L243.53,583.88 L243.87,584.09 L244.20,579.51 L244.53,577.78 L244.87,582.09 L245.20,576.44 L245.53,578.90 L245.87,570.28 L246.20,569.68 L246.53,571.89 L246.87,567.58 L247.20,568.19 L247.53,566.79 L247.87,563.59 L248.20,560.52 L248.53,560.35 L248.87,558.62 L249.20,553.31 L249.53,555.63 L249.87,553.53 L250.20,550.30 L250.53,547.04 L250.87,547.82 L251.20,546.30 L251.53,544.36 L251.87,544.52 L252.20,541.73 L252.53,538.72 L252.87,533.24 L253.20,531.46 L253.53,538.51 L253.87,539.90 L254.20,546.31 L254.53,546.31 L254.87,549.20 L255.20,548.61 L255.53,555.41 L255.87,556.02 L256.20,555.23 L256.53,556.63 L256.87,556.61 L257.20,559.07 L257.53,558.99 L257.87,562.15 L258.20,562.89 L258.53,566.08 L258.87,571.46 L259.20,569.32 L259.53,573.82 L259.87,576.68 L260.20,579.56 L260.53,575.60 L260.87,579.55 L261.20,582.37 L261.53,583.20 L261.87,592.75 L262.20,590.03 L262.53,590.76 L262.87,593.32 L263.20,594.49 L263.53,597.07 L263.87,599.99 L264.20,603.12 L264.53,603.03 L264.87,605.09 L265.20,606.75 L265.53,608.08 L265.87,613.30 L266.20,613.33 L266.53,615.40 L266.87,615.60 L267.20,617.64 L267.53,618.54 L267.87,619.80 L268.20,618.60 L268.53,621.50 L268.87,620.37 L269.20,622.37 L269.53,623.13 L269.87,623.59 L270.20,621.54 L270.53,625.26 L270.87,624.05 L271.20,622.87 L271.53,622.25 L271.87,622.83 L272.20,625.15 L272.53,623.55 L272.87,625.29 L273.20,624.06 L273.53,624.77 L273.87,624.78 L274.20,625.08 L274.53,624.71 L274.87,625.27 L275.20,625.90 L275.53,625.64 L275.87,625.58 L276.20,626.00 L276.53,625.59 L276.87,625.28 L277.20,626.00 L277.53,626.00 L277.87,626.00 L278.20,624.68 L278.53,625.72 L278.87,625.77" fill="none" stroke="#000" stroke-width="1.7" stroke-linejoin="round"/>
<path d="M472.40,626.0 L472.40,622.46 L472.73,622.43 L473.07,622.05 L473.40,622.12 L473.73,622.61 L474.07,622.64 L474.40,622.01 L474.73,622.43 L475.07,621.62 L475.40,622.81 L475.73,622.47 L476.07,622.49 L476.40,622.60 L476.73,622.34 L477.07,623.34 L477.40,623.00 L477.73,621.75 L478.07,623.50 L478.40,622.94 L478.73,622.98 L479.07,621.60 L479.40,622.25 L479.73,622.09 L480.07,621.98 L480.40,622.35 L480.73,622.94 L481.07,622.33 L481.40,622.33 L481.73,622.36 L482.07,621.66 L482.40,622.24 L482.73,622.81 L483.07,622.58 L483.40,622.09 L483.73,622.61 L484.07,622.60 L484.40,622.47 L484.73,622.61 L485.07,622.96 L485.40,622.36 L485.73,622.34 L486.07,621.77 L486.40,621.91 L486.73,622.38 L487.07,623.00 L487.40,621.84 L487.73,621.94 L488.07,621.84 L488.40,622.42 L488.73,622.72 L489.07,622.28 L489.40,622.65 L489.73,621.89 L490.07,622.03 L490.40,622.28 L490.73,622.89 L491.07,621.63 L491.40,622.52 L491.73,621.92 L492.07,621.42 L492.40,620.96 L492.73,621.85 L493.07,621.74 L493.40,621.26 L493.73,621.31 L494.07,621.64 L494.40,621.15 L494.73,622.04 L495.07,621.76 L495.40,622.62 L495.73,621.60 L496.07,621.99 L496.40,621.73 L496.73,621.62 L497.07,621.14 L497.40,621.93 L497.73,620.79 L498.07,621.89 L498.40,621.30 L498.73,621.05 L499.07,622.84 L499.40,621.52 L499.73,621.18 L500.07,621.77 L500.40,621.48 L500.73,621.71 L501.07,621.58 L501.40,621.51 L501.73,621.16 L502.07,620.98 L502.40,620.62 L502.73,621.23 L503.07,621.97 L503.40,621.58 L503.73,621.51 L504.07,621.99 L504.40,621.57 L504.73,620.82 L505.07,620.90 L505.40,621.62 L505.73,622.15 L506.07,620.30 L506.40,620.95 L506.73,620.56 L507.07,620.42 L507.40,621.42 L507.73,620.56 L508.07,621.68 L508.40,620.59 L508.73,621.43 L509.07,620.31 L509.40,620.65 L509.73,621.11 L510.07,619.53 L510.40,620.35 L510.73,619.36 L511.07,619.49 L511.40,620.02 L511.73,618.60 L512.07,619.62 L512.40,619.20 L512.73,618.83 L513.07,618.89 L513.40,618.69 L513.73,617.50 L514.07,618.14 L514.40,616.42 L514.73,615.75 L515.07,615.17 L515.40,613.69 L515.73,613.69 L516.07,613.19 L516.40,612.74 L516.73,611.86 L517.07,611.63 L517.40,610.04 L517.73,610.95 L518.07,609.60 L518.40,607.89 L518.73,607.90 L519.07,607.11 L519.40,607.54 L519.73,608.21 L520.07,607.07 L520.40,607.06 L520.73,605.93 L521.07,604.90 L521.40,605.27 L521.73,608.20 L522.07,605.86 L522.40,605.76 L522.73,605.49 L523.07,605.23 L523.40,604.64 L523.73,604.42 L524.07,604.26 L524.40,602.48 L524.73,603.44 L525.07,601.59 L525.40,602.49 L525.73,602.62 L526.07,602.25 L526.40,602.31 L526.73,604.17 L527.07,603.98 L527.40,604.62 L527.73,605.34 L528.07,604.69 L528.40,605.23 L528.73,606.70 L529.07,605.20 L529.40,605.32 L529.73,604.43 L530.07,603.94 L530.40,602.36 L530.73,603.01 L531.07,602.50 L531.40,600.06 L531.73,599.87 L532.07,598.97 L532.40,599.54 L532.73,598.31 L533.07,598.79 L533.40,597.96 L533.73,598.52 L534.07,596.97 L534.40,596.73 L534.73,595.03 L535.07,597.53 L535.40,596.75 L535.73,596.72 L536.07,596.22 L536.40,595.23 L536.73,595.93 L537.07,594.57 L537.40,593.20 L537.73,592.89 L538.07,592.96 L538.40,592.67 L538.73,591.98 L539.07,592.72 L539.40,591.36 L539.73,589.89 L540.07,590.98 L540.40,589.30 L540.73,588.10 L541.07,587.07 L541.40,587.96 L541.73,585.78 L542.07,586.64 L542.40,587.17 L542.73,585.77 L543.07,586.61 L543.40,583.50 L543.73,583.30 L544.07,581.06 L544.40,581.49 L544.73,580.99 L545.07,579.16 L545.40,579.13 L545.73,576.42 L546.07,575.77 L546.40,576.22 L546.73,576.83 L547.07,575.69 L547.40,577.52 L547.73,574.03 L548.07,573.48 L548.40,573.59 L548.73,573.98 L549.07,574.84 L549.40,573.13 L549.73,575.21 L550.07,573.41 L550.40,574.76 L550.73,573.80 L551.07,573.78 L551.40,573.81 L551.73,576.80 L552.07,576.14 L552.40,575.29 L552.73,576.70 L553.07,576.84 L553.40,576.13 L553.73,576.86 L554.07,576.86 L554.40,576.86 L554.73,576.20 L555.07,576.80 L555.40,576.89 L555.73,577.37 L556.07,578.23 L556.40,580.36 L556.73,581.75 L557.07,582.87 L557.40,582.82 L557.73,584.38 L558.07,584.70 L558.40,588.45 L558.73,587.18 L559.07,588.96 L559.40,591.35 L559.73,591.18 L560.07,592.89 L560.40,592.96 L560.73,593.24 L561.07,595.51 L561.40,594.82 L561.73,595.30 L562.07,597.39 L562.40,597.67 L562.73,598.12 L563.07,599.50 L563.40,600.01 L563.73,601.68 L564.07,603.09 L564.40,603.98 L564.73,606.40 L565.07,606.92 L565.40,607.46 L565.73,608.70 L566.07,609.53 L566.40,610.77 L566.73,611.99 L567.07,613.48 L567.40,614.32 L567.73,615.88 L568.07,615.15 L568.40,614.58 L568.73,616.35 L569.07,617.85 L569.40,618.06 L569.73,619.39 L570.07,619.45 L570.40,620.44 L570.73,620.30 L571.07,620.55 L571.40,621.26 L571.73,621.65 L572.07,622.36 L572.40,622.07 L572.73,622.53 L573.07,623.89 L573.40,623.13 L573.73,623.70 L574.07,623.58 L574.40,624.54 L574.73,623.87 L575.07,624.32 L575.40,624.16 L575.73,625.21 L576.07,624.68 L576.40,625.34 L576.73,624.86 L577.07,625.49 L577.40,625.83 L577.40,626.0 Z" fill="#cbd3dd" stroke="none"/>
<line x1="471.9" y1="500.5" x2="471.9" y2="626.0" stroke="#7a7a7a" stroke-width="1"/>
<line x1="470.29999999999995" y1="500.50" x2="471.9" y2="500.50" stroke="#7a7a7a" stroke-width="1"/>
<line x1="470.29999999999995" y1="531.88" x2="471.9" y2="531.88" stroke="#7a7a7a" stroke-width="1"/>
<line x1="470.29999999999995" y1="563.25" x2="471.9" y2="563.25" stroke="#7a7a7a" stroke-width="1"/>
<line x1="470.29999999999995" y1="594.62" x2="471.9" y2="594.62" stroke="#7a7a7a" stroke-width="1"/>
<line x1="470.29999999999995" y1="626.00" x2="471.9" y2="626.00" stroke="#7a7a7a" stroke-width="1"/>
<line x1="471.9" y1="626.0" x2="682.4" y2="626.0" stroke="#7a7a7a" stroke-width="1"/>
<line x1="471.90" y1="626.0" x2="471.90" y2="629.0" stroke="#7a7a7a" stroke-width="1"/>
<line x1="487.74" y1="626.0" x2="487.74" y2="628.0" stroke="#7a7a7a" stroke-width="1"/>
<line x1="497.01" y1="626.0" x2="497.01" y2="628.0" stroke="#7a7a7a" stroke-width="1"/>
<line x1="503.58" y1="626.0" x2="503.58" y2="628.0" stroke="#7a7a7a" stroke-width="1"/>
<line x1="508.68" y1="626.0" x2="508.68" y2="628.0" stroke="#7a7a7a" stroke-width="1"/>
<line x1="512.85" y1="626.0" x2="512.85" y2="628.0" stroke="#7a7a7a" stroke-width="1"/>
<line x1="516.37" y1="626.0" x2="516.37" y2="628.0" stroke="#7a7a7a" stroke-width="1"/>
<line x1="519.43" y1="626.0" x2="519.43" y2="628.0" stroke="#7a7a7a" stroke-width="1"/>
<line x1="522.12" y1="626.0" x2="522.12" y2="628.0" stroke="#7a7a7a" stroke-width="1"/>
<line x1="524.52" y1="626.0" x2="524.52" y2="629.0" stroke="#7a7a7a" stroke-width="1"/>
<line x1="540.37" y1="626.0" x2="540.37" y2="628.0" stroke="#7a7a7a" stroke-width="1"/>
<line x1="549.63" y1="626.0" x2="549.63" y2="628.0" stroke="#7a7a7a" stroke-width="1"/>
<line x1="556.21" y1="626.0" x2="556.21" y2="628.0" stroke="#7a7a7a" stroke-width="1"/>
<line x1="561.31" y1="626.0" x2="561.31" y2="628.0" stroke="#7a7a7a" stroke-width="1"/>
<line x1="565.48" y1="626.0" x2="565.48" y2="628.0" stroke="#7a7a7a" stroke-width="1"/>
<line x1="569.00" y1="626.0" x2="569.00" y2="628.0" stroke="#7a7a7a" stroke-width="1"/>
<line x1="572.05" y1="626.0" x2="572.05" y2="628.0" stroke="#7a7a7a" stroke-width="1"/>
<line x1="574.74" y1="626.0" x2="574.74" y2="628.0" stroke="#7a7a7a" stroke-width="1"/>
<line x1="577.15" y1="626.0" x2="577.15" y2="629.0" stroke="#7a7a7a" stroke-width="1"/>
<line x1="592.99" y1="626.0" x2="592.99" y2="628.0" stroke="#7a7a7a" stroke-width="1"/>
<line x1="602.26" y1="626.0" x2="602.26" y2="628.0" stroke="#7a7a7a" stroke-width="1"/>
<line x1="608.83" y1="626.0" x2="608.83" y2="628.0" stroke="#7a7a7a" stroke-width="1"/>
<line x1="613.93" y1="626.0" x2="613.93" y2="628.0" stroke="#7a7a7a" stroke-width="1"/>
<line x1="618.10" y1="626.0" x2="618.10" y2="628.0" stroke="#7a7a7a" stroke-width="1"/>
<line x1="621.62" y1="626.0" x2="621.62" y2="628.0" stroke="#7a7a7a" stroke-width="1"/>
<line x1="624.68" y1="626.0" x2="624.68" y2="628.0" stroke="#7a7a7a" stroke-width="1"/>
<line x1="627.37" y1="626.0" x2="627.37" y2="628.0" stroke="#7a7a7a" stroke-width="1"/>
<line x1="629.77" y1="626.0" x2="629.77" y2="629.0" stroke="#7a7a7a" stroke-width="1"/>
<line x1="645.62" y1="626.0" x2="645.62" y2="628.0" stroke="#7a7a7a" stroke-width="1"/>
<line x1="654.88" y1="626.0" x2="654.88" y2="628.0" stroke="#7a7a7a" stroke-width="1"/>
<line x1="661.46" y1="626.0" x2="661.46" y2="628.0" stroke="#7a7a7a" stroke-width="1"/>
<line x1="666.56" y1="626.0" x2="666.56" y2="628.0" stroke="#7a7a7a" stroke-width="1"/>
<line x1="670.73" y1="626.0" x2="670.73" y2="628.0" stroke="#7a7a7a" stroke-width="1"/>
<line x1="674.25" y1="626.0" x2="674.25" y2="628.0" stroke="#7a7a7a" stroke-width="1"/>
<line x1="677.30" y1="626.0" x2="677.30" y2="628.0" stroke="#7a7a7a" stroke-width="1"/>
<line x1="679.99" y1="626.0" x2="679.99" y2="628.0" stroke="#7a7a7a" stroke-width="1"/>
<line x1="682.40" y1="626.0" x2="682.40" y2="629.0" stroke="#7a7a7a" stroke-width="1"/>
<text transform="translate(466.2,499.4) rotate(-90)" text-anchor="middle" font-size="14.6" fill="#1c1c1c">256</text>
<text transform="translate(466.59999999999997,626.2) rotate(-90)" text-anchor="middle" font-size="15" fill="#1c1c1c">0</text>
<text transform="translate(454.4,563.25) rotate(-90)" text-anchor="middle" font-size="15" fill="#1c1c1c">Events</text>
<text x="465.60" y="642.80" font-size="14" fill="#1c1c1c">10<tspan font-size="9.5" dy="-5.3" dx="0.3">0</tspan></text>
<text x="518.23" y="642.80" font-size="14" fill="#1c1c1c">10<tspan font-size="9.5" dy="-5.3" dx="0.3">1</tspan></text>
<text x="570.85" y="642.80" font-size="14" fill="#1c1c1c">10<tspan font-size="9.5" dy="-5.3" dx="0.3">2</tspan></text>
<text x="623.48" y="642.80" font-size="14" fill="#1c1c1c">10<tspan font-size="9.5" dy="-5.3" dx="0.3">3</tspan></text>
<text x="676.10" y="642.80" font-size="14" fill="#1c1c1c">10<tspan font-size="9.5" dy="-5.3" dx="0.3">4</tspan></text>
<text x="577.65" y="658.80" text-anchor="middle" font-size="14" letter-spacing="0.5" fill="#1c1c1c">FL1-H</text>
<path d="M472.40,622.46 L472.73,622.43 L473.07,622.05 L473.40,622.12 L473.73,622.61 L474.07,622.64 L474.40,622.01 L474.73,622.43 L475.07,621.62 L475.40,622.81 L475.73,622.47 L476.07,622.49 L476.40,622.60 L476.73,622.34 L477.07,623.34 L477.40,623.00 L477.73,621.75 L478.07,623.50 L478.40,622.94 L478.73,622.98 L479.07,621.60 L479.40,622.25 L479.73,622.09 L480.07,621.98 L480.40,622.35 L480.73,622.94 L481.07,622.33 L481.40,622.33 L481.73,622.36 L482.07,621.66 L482.40,622.24 L482.73,622.81 L483.07,622.58 L483.40,622.09 L483.73,622.61 L484.07,622.60 L484.40,622.47 L484.73,622.61 L485.07,622.96 L485.40,622.36 L485.73,622.34 L486.07,621.77 L486.40,621.91 L486.73,622.38 L487.07,623.00 L487.40,621.84 L487.73,621.94 L488.07,621.84 L488.40,622.42 L488.73,622.72 L489.07,622.28 L489.40,622.65 L489.73,621.89 L490.07,622.03 L490.40,622.28 L490.73,622.89 L491.07,621.63 L491.40,622.52 L491.73,621.92 L492.07,621.42 L492.40,620.96 L492.73,621.85 L493.07,621.74 L493.40,621.26 L493.73,621.31 L494.07,621.64 L494.40,621.15 L494.73,622.04 L495.07,621.76 L495.40,622.62 L495.73,621.60 L496.07,621.99 L496.40,621.73 L496.73,621.62 L497.07,621.14 L497.40,621.93 L497.73,620.79 L498.07,621.89 L498.40,621.30 L498.73,621.05 L499.07,622.84 L499.40,621.52 L499.73,621.18 L500.07,621.77 L500.40,621.48 L500.73,621.71 L501.07,621.58 L501.40,621.51 L501.73,621.16 L502.07,620.98 L502.40,620.62 L502.73,621.23 L503.07,621.97 L503.40,621.58 L503.73,621.51 L504.07,621.99 L504.40,621.57 L504.73,620.82 L505.07,620.90 L505.40,621.62 L505.73,622.15 L506.07,620.30 L506.40,620.95 L506.73,620.56 L507.07,620.42 L507.40,621.42 L507.73,620.56 L508.07,621.68 L508.40,620.59 L508.73,621.43 L509.07,620.31 L509.40,620.65 L509.73,621.11 L510.07,619.53 L510.40,620.35 L510.73,619.36 L511.07,619.49 L511.40,620.02 L511.73,618.60 L512.07,619.62 L512.40,619.20 L512.73,618.83 L513.07,618.89 L513.40,618.69 L513.73,617.50 L514.07,618.14 L514.40,616.42 L514.73,615.75 L515.07,615.17 L515.40,613.69 L515.73,613.69 L516.07,613.19 L516.40,612.74 L516.73,611.86 L517.07,611.63 L517.40,610.04 L517.73,610.95 L518.07,609.60 L518.40,607.89 L518.73,607.90 L519.07,607.11 L519.40,607.54 L519.73,608.21 L520.07,607.07 L520.40,607.06 L520.73,605.93 L521.07,604.90 L521.40,605.27 L521.73,608.20 L522.07,605.86 L522.40,605.76 L522.73,605.49 L523.07,605.23 L523.40,604.64 L523.73,604.42 L524.07,604.26 L524.40,602.48 L524.73,603.44 L525.07,601.59 L525.40,602.49 L525.73,602.62 L526.07,602.25 L526.40,602.31 L526.73,604.17 L527.07,603.98 L527.40,604.62 L527.73,605.34 L528.07,604.69 L528.40,605.23 L528.73,606.70 L529.07,605.20 L529.40,605.32 L529.73,604.43 L530.07,603.94 L530.40,602.36 L530.73,603.01 L531.07,602.50 L531.40,600.06 L531.73,599.87 L532.07,598.97 L532.40,599.54 L532.73,598.31 L533.07,598.79 L533.40,597.96 L533.73,598.52 L534.07,596.97 L534.40,596.73 L534.73,595.03 L535.07,597.53 L535.40,596.75 L535.73,596.72 L536.07,596.22 L536.40,595.23 L536.73,595.93 L537.07,594.57 L537.40,593.20 L537.73,592.89 L538.07,592.96 L538.40,592.67 L538.73,591.98 L539.07,592.72 L539.40,591.36 L539.73,589.89 L540.07,590.98 L540.40,589.30 L540.73,588.10 L541.07,587.07 L541.40,587.96 L541.73,585.78 L542.07,586.64 L542.40,587.17 L542.73,585.77 L543.07,586.61 L543.40,583.50 L543.73,583.30 L544.07,581.06 L544.40,581.49 L544.73,580.99 L545.07,579.16 L545.40,579.13 L545.73,576.42 L546.07,575.77 L546.40,576.22 L546.73,576.83 L547.07,575.69 L547.40,577.52 L547.73,574.03 L548.07,573.48 L548.40,573.59 L548.73,573.98 L549.07,574.84 L549.40,573.13 L549.73,575.21 L550.07,573.41 L550.40,574.76 L550.73,573.80 L551.07,573.78 L551.40,573.81 L551.73,576.80 L552.07,576.14 L552.40,575.29 L552.73,576.70 L553.07,576.84 L553.40,576.13 L553.73,576.86 L554.07,576.86 L554.40,576.86 L554.73,576.20 L555.07,576.80 L555.40,576.89 L555.73,577.37 L556.07,578.23 L556.40,580.36 L556.73,581.75 L557.07,582.87 L557.40,582.82 L557.73,584.38 L558.07,584.70 L558.40,588.45 L558.73,587.18 L559.07,588.96 L559.40,591.35 L559.73,591.18 L560.07,592.89 L560.40,592.96 L560.73,593.24 L561.07,595.51 L561.40,594.82 L561.73,595.30 L562.07,597.39 L562.40,597.67 L562.73,598.12 L563.07,599.50 L563.40,600.01 L563.73,601.68 L564.07,603.09 L564.40,603.98 L564.73,606.40 L565.07,606.92 L565.40,607.46 L565.73,608.70 L566.07,609.53 L566.40,610.77 L566.73,611.99 L567.07,613.48 L567.40,614.32 L567.73,615.88 L568.07,615.15 L568.40,614.58 L568.73,616.35 L569.07,617.85 L569.40,618.06 L569.73,619.39 L570.07,619.45 L570.40,620.44 L570.73,620.30 L571.07,620.55 L571.40,621.26 L571.73,621.65 L572.07,622.36 L572.40,622.07 L572.73,622.53 L573.07,623.89 L573.40,623.13 L573.73,623.70 L574.07,623.58 L574.40,624.54 L574.73,623.87 L575.07,624.32 L575.40,624.16 L575.73,625.21 L576.07,624.68 L576.40,625.34 L576.73,624.86 L577.07,625.49 L577.40,625.83" fill="none" stroke="#404040" stroke-width="1.0" stroke-linejoin="round"/>
<line x1="472.20" y1="626.0" x2="472.20" y2="560.19" stroke="#111" stroke-width="1.8"/>
<path d="M472.90,616.45 L473.23,615.62 L473.57,617.97 L473.90,615.78 L474.23,615.07 L474.57,616.96 L474.90,614.10 L475.23,615.91 L475.57,616.25 L475.90,616.86 L476.23,616.72 L476.57,617.76 L476.90,616.62 L477.23,615.25 L477.57,615.26 L477.90,620.35 L478.23,619.94 L478.57,616.73 L478.90,618.09 L479.23,617.72 L479.57,618.95 L479.90,618.71 L480.23,619.65 L480.57,620.19 L480.90,621.03 L481.23,616.09 L481.57,617.03 L481.90,618.95 L482.23,619.09 L482.57,620.38 L482.90,618.13 L483.23,616.49 L483.57,618.92 L483.90,617.70 L484.23,619.51 L484.57,618.85 L484.90,619.52 L485.23,620.29 L485.57,620.62 L485.90,619.66 L486.23,619.83 L486.57,619.91 L486.90,619.74 L487.23,620.89 L487.57,619.72 L487.90,620.85 L488.23,620.32 L488.57,620.27 L488.90,621.01 L489.23,621.03 L489.57,618.97 L489.90,618.31 L490.23,619.94 L490.57,620.04 L490.90,621.73 L491.23,620.36 L491.57,618.39 L491.90,622.51 L492.23,618.17 L492.57,618.15 L492.90,620.17 L493.23,620.55 L493.57,621.59 L493.90,622.99 L494.23,618.43 L494.57,619.22 L494.90,619.49 L495.23,619.22 L495.57,618.22 L495.90,620.01 L496.23,620.26 L496.57,620.01 L496.90,620.63 L497.23,620.00 L497.57,619.88 L497.90,619.55 L498.23,620.18 L498.57,617.37 L498.90,621.42 L499.23,620.65 L499.57,620.45 L499.90,620.12 L500.23,618.72 L500.57,619.70 L500.90,618.35 L501.23,619.76 L501.57,621.21 L501.90,620.08 L502.23,619.24 L502.57,617.87 L502.90,618.27 L503.23,618.93 L503.57,618.99 L503.90,616.48 L504.23,617.74 L504.57,619.48 L504.90,617.04 L505.23,618.22 L505.57,621.23 L505.90,617.77 L506.23,619.60 L506.57,618.26 L506.90,619.01 L507.23,617.03 L507.57,617.86 L507.90,619.18 L508.23,618.22 L508.57,618.21 L508.90,620.62 L509.23,617.22 L509.57,616.96 L509.90,619.83 L510.23,619.00 L510.57,619.40 L510.90,617.79 L511.23,618.34 L511.57,619.35 L511.90,619.04 L512.23,617.10 L512.57,620.16 L512.90,615.70 L513.23,615.46 L513.57,614.82 L513.90,616.35 L514.23,616.74 L514.57,610.85 L514.90,612.08 L515.23,613.60 L515.57,611.05 L515.90,610.51 L516.23,608.94 L516.57,610.85 L516.90,608.04 L517.23,606.02 L517.57,604.57 L517.90,603.56 L518.23,600.53 L518.57,603.42 L518.90,598.94 L519.23,596.26 L519.57,592.97 L519.90,592.02 L520.23,595.37 L520.57,591.39 L520.90,591.82 L521.23,584.88 L521.57,585.51 L521.90,581.13 L522.23,578.57 L522.57,576.96 L522.90,572.85 L523.23,570.74 L523.57,566.72 L523.90,568.12 L524.23,563.87 L524.57,558.25 L524.90,555.13 L525.23,551.61 L525.57,552.47 L525.90,546.10 L526.23,546.10 L526.57,542.27 L526.90,537.01 L527.23,536.52 L527.57,536.60 L527.90,534.27 L528.23,538.34 L528.57,530.36 L528.90,533.71 L529.23,527.58 L529.57,531.92 L529.90,527.82 L530.23,527.85 L530.57,532.27 L530.90,537.26 L531.23,534.87 L531.57,542.89 L531.90,538.28 L532.23,544.59 L532.57,545.11 L532.90,548.74 L533.23,551.17 L533.57,551.72 L533.90,553.31 L534.23,555.80 L534.57,559.60 L534.90,562.28 L535.23,562.10 L535.57,567.08 L535.90,568.76 L536.23,570.11 L536.57,571.26 L536.90,577.50 L537.23,578.52 L537.57,583.75 L537.90,583.47 L538.23,588.20 L538.57,591.07 L538.90,592.30 L539.23,599.57 L539.57,598.31 L539.90,604.56 L540.23,605.92 L540.57,608.24 L540.90,613.26 L541.23,612.86 L541.57,615.90 L541.90,616.44 L542.23,617.60 L542.57,617.25 L542.90,619.56 L543.23,620.51 L543.57,621.75 L543.90,624.06 L544.23,624.35 L544.57,621.66 L544.90,622.98 L545.23,624.26 L545.57,623.75 L545.90,621.99 L546.23,625.45 L546.57,622.54 L546.90,624.45 L547.23,624.59 L547.57,624.36 L547.90,624.64 L548.23,625.37 L548.57,624.57 L548.90,624.81 L549.23,624.38 L549.57,624.90 L549.90,624.54 L550.23,625.29 L550.57,624.38 L550.90,625.13 L551.23,626.00 L551.57,625.42 L551.90,624.77 L552.23,624.45" fill="none" stroke="#000" stroke-width="1.7" stroke-linejoin="round"/>
<text x="65.2" y="555.45" text-anchor="middle" font-size="23" font-weight="bold" fill="#1c1c1c">30 nM</text>
<text x="65.2" y="582.6500000000001" text-anchor="middle" font-size="23" font-weight="bold" fill="#1c1c1c">SB-T-1216</text>
<text x="771.0" y="555.45" text-anchor="middle" font-size="23" font-weight="bold" fill="#1c1c1c">300 nM</text>
<text x="771.0" y="582.6500000000001" text-anchor="middle" font-size="23" font-weight="bold" fill="#1c1c1c">SB-T-1216</text>
<path d="M186.50,819.8 L186.50,816.90 L186.83,816.81 L187.17,816.38 L187.50,816.43 L187.83,817.16 L188.17,816.40 L188.50,816.50 L188.83,816.41 L189.17,816.44 L189.50,816.54 L189.83,816.27 L190.17,815.91 L190.50,816.29 L190.83,816.73 L191.17,816.20 L191.50,815.70 L191.83,817.25 L192.17,815.74 L192.50,816.08 L192.83,815.74 L193.17,816.17 L193.50,815.94 L193.83,815.25 L194.17,816.18 L194.50,815.85 L194.83,814.99 L195.17,815.06 L195.50,814.91 L195.83,815.86 L196.17,815.36 L196.50,815.28 L196.83,815.58 L197.17,815.72 L197.50,815.01 L197.83,815.06 L198.17,814.76 L198.50,814.71 L198.83,814.70 L199.17,814.53 L199.50,814.88 L199.83,815.10 L200.17,813.96 L200.50,814.77 L200.83,814.25 L201.17,814.26 L201.50,813.62 L201.83,813.23 L202.17,814.18 L202.50,813.92 L202.83,813.87 L203.17,813.99 L203.50,813.50 L203.83,814.16 L204.17,814.62 L204.50,814.42 L204.83,814.01 L205.17,813.77 L205.50,813.74 L205.83,813.57 L206.17,813.48 L206.50,813.33 L206.83,813.18 L207.17,815.38 L207.50,813.80 L207.83,813.67 L208.17,813.47 L208.50,812.92 L208.83,813.24 L209.17,812.64 L209.50,813.04 L209.83,812.54 L210.17,812.76 L210.50,812.91 L210.83,813.29 L211.17,812.72 L211.50,812.34 L211.83,811.67 L212.17,812.60 L212.50,813.12 L212.83,812.67 L213.17,812.44 L213.50,812.48 L213.83,812.51 L214.17,811.92 L214.50,812.26 L214.83,812.67 L215.17,812.46 L215.50,812.22 L215.83,812.56 L216.17,811.41 L216.50,812.76 L216.83,811.56 L217.17,811.62 L217.50,812.50 L217.83,812.04 L218.17,811.78 L218.50,812.27 L218.83,811.11 L219.17,812.16 L219.50,812.97 L219.83,811.59 L220.17,811.60 L220.50,811.43 L220.83,812.10 L221.17,812.11 L221.50,811.48 L221.83,810.84 L222.17,811.42 L222.50,811.23 L222.83,810.40 L223.17,812.18 L223.50,810.81 L223.83,811.81 L224.17,809.97 L224.50,811.27 L224.83,810.34 L225.17,811.35 L225.50,811.00 L225.83,809.64 L226.17,809.61 L226.50,810.09 L226.83,809.81 L227.17,811.00 L227.50,810.62 L227.83,810.41 L228.17,810.08 L228.50,810.79 L228.83,810.05 L229.17,810.42 L229.50,809.33 L229.83,810.30 L230.17,809.90 L230.50,809.72 L230.83,810.01 L231.17,808.49 L231.50,807.76 L231.83,809.12 L232.17,809.17 L232.50,808.61 L232.83,808.82 L233.17,809.24 L233.50,808.06 L233.83,808.73 L234.17,808.49 L234.50,809.18 L234.83,808.70 L235.17,807.65 L235.50,807.57 L235.83,807.37 L236.17,806.73 L236.50,806.52 L236.83,806.15 L237.17,807.56 L237.50,807.09 L237.83,807.03 L238.17,806.34 L238.50,806.34 L238.83,807.13 L239.17,807.15 L239.50,806.35 L239.83,806.30 L240.17,804.31 L240.50,806.09 L240.83,804.89 L241.17,804.79 L241.50,805.67 L241.83,804.28 L242.17,804.04 L242.50,805.70 L242.83,805.81 L243.17,804.69 L243.50,805.22 L243.83,805.58 L244.17,805.90 L244.50,804.04 L244.83,804.31 L245.17,804.71 L245.50,805.41 L245.83,804.81 L246.17,804.85 L246.50,805.09 L246.83,805.09 L247.17,804.71 L247.50,803.38 L247.83,803.95 L248.17,803.47 L248.50,803.21 L248.83,803.36 L249.17,802.74 L249.50,802.99 L249.83,802.86 L250.17,804.22 L250.50,802.09 L250.83,802.25 L251.17,801.68 L251.50,802.10 L251.83,802.09 L252.17,801.08 L252.50,802.17 L252.83,801.02 L253.17,801.36 L253.50,801.25 L253.83,801.91 L254.17,802.10 L254.50,802.57 L254.83,801.56 L255.17,802.69 L255.50,803.44 L255.83,803.70 L256.17,802.60 L256.50,802.24 L256.83,802.49 L257.17,803.12 L257.50,802.41 L257.83,800.86 L258.17,801.81 L258.50,800.83 L258.83,801.04 L259.17,800.72 L259.50,799.66 L259.83,799.86 L260.17,800.16 L260.50,800.11 L260.83,798.37 L261.17,798.62 L261.50,798.33 L261.83,797.49 L262.17,797.41 L262.50,797.13 L262.83,797.10 L263.17,797.42 L263.50,794.92 L263.83,796.48 L264.17,794.62 L264.50,795.66 L264.83,794.90 L265.17,794.52 L265.50,793.89 L265.83,792.39 L266.17,793.43 L266.50,792.94 L266.83,793.12 L267.17,791.11 L267.50,790.44 L267.83,791.54 L268.17,791.34 L268.50,790.04 L268.83,789.31 L269.17,788.31 L269.50,788.47 L269.83,786.68 L270.17,787.06 L270.50,786.07 L270.83,783.25 L271.17,783.45 L271.50,779.97 L271.83,780.09 L272.17,779.86 L272.50,777.41 L272.83,774.37 L273.17,773.67 L273.50,775.66 L273.83,772.82 L274.17,774.90 L274.50,772.56 L274.83,771.57 L275.17,772.18 L275.50,768.83 L275.83,766.21 L276.17,766.74 L276.50,767.65 L276.83,764.04 L277.17,764.23 L277.50,761.39 L277.83,762.87 L278.17,761.67 L278.50,760.87 L278.83,758.59 L279.17,758.42 L279.50,758.27 L279.83,756.61 L280.17,754.80 L280.50,753.52 L280.83,753.17 L281.17,753.90 L281.50,751.65 L281.83,751.69 L282.17,751.46 L282.50,747.91 L282.83,748.58 L283.17,746.80 L283.50,746.73 L283.83,747.11 L284.17,748.03 L284.50,748.76 L284.83,749.79 L285.17,748.26 L285.50,751.27 L285.83,754.60 L286.17,756.87 L286.50,758.60 L286.83,760.52 L287.17,763.63 L287.50,763.86 L287.83,768.94 L288.17,769.77 L288.50,770.22 L288.83,774.12 L289.17,775.46 L289.50,776.90 L289.83,779.56 L290.17,782.70 L290.50,782.36 L290.83,785.12 L291.17,789.82 L291.50,792.50 L291.83,791.65 L292.17,793.71 L292.50,796.81 L292.83,797.92 L293.17,800.29 L293.50,801.37 L293.83,802.26 L294.17,805.27 L294.50,805.23 L294.83,805.63 L295.17,807.03 L295.50,808.96 L295.83,808.65 L296.17,810.35 L296.50,811.72 L296.83,812.20 L297.17,812.55 L297.50,814.29 L297.83,813.85 L298.17,814.91 L298.50,815.18 L298.83,816.07 L299.17,816.94 L299.50,817.78 L299.83,817.26 L300.17,817.94 L300.50,817.78 L300.83,818.25 L301.17,818.39 L301.50,818.56 L301.83,818.43 L302.17,818.69 L302.50,818.88 L302.83,818.93 L303.17,819.49 L303.50,819.52 L303.83,819.68 L303.83,819.8 Z" fill="#cbd3dd" stroke="none"/>
<line x1="186.0" y1="694.7" x2="186.0" y2="819.8" stroke="#7a7a7a" stroke-width="1"/>
<line x1="184.4" y1="694.70" x2="186.0" y2="694.70" stroke="#7a7a7a" stroke-width="1"/>
<line x1="184.4" y1="725.98" x2="186.0" y2="725.98" stroke="#7a7a7a" stroke-width="1"/>
<line x1="184.4" y1="757.25" x2="186.0" y2="757.25" stroke="#7a7a7a" stroke-width="1"/>
<line x1="184.4" y1="788.52" x2="186.0" y2="788.52" stroke="#7a7a7a" stroke-width="1"/>
<line x1="184.4" y1="819.80" x2="186.0" y2="819.80" stroke="#7a7a7a" stroke-width="1"/>
<line x1="186.0" y1="819.8" x2="396.5" y2="819.8" stroke="#7a7a7a" stroke-width="1"/>
<line x1="186.00" y1="819.8" x2="186.00" y2="822.8" stroke="#7a7a7a" stroke-width="1"/>
<line x1="201.84" y1="819.8" x2="201.84" y2="821.8" stroke="#7a7a7a" stroke-width="1"/>
<line x1="211.11" y1="819.8" x2="211.11" y2="821.8" stroke="#7a7a7a" stroke-width="1"/>
<line x1="217.68" y1="819.8" x2="217.68" y2="821.8" stroke="#7a7a7a" stroke-width="1"/>
<line x1="222.78" y1="819.8" x2="222.78" y2="821.8" stroke="#7a7a7a" stroke-width="1"/>
<line x1="226.95" y1="819.8" x2="226.95" y2="821.8" stroke="#7a7a7a" stroke-width="1"/>
<line x1="230.47" y1="819.8" x2="230.47" y2="821.8" stroke="#7a7a7a" stroke-width="1"/>
<line x1="233.53" y1="819.8" x2="233.53" y2="821.8" stroke="#7a7a7a" stroke-width="1"/>
<line x1="236.22" y1="819.8" x2="236.22" y2="821.8" stroke="#7a7a7a" stroke-width="1"/>
<line x1="238.62" y1="819.8" x2="238.62" y2="822.8" stroke="#7a7a7a" stroke-width="1"/>
<line x1="254.47" y1="819.8" x2="254.47" y2="821.8" stroke="#7a7a7a" stroke-width="1"/>
<line x1="263.73" y1="819.8" x2="263.73" y2="821.8" stroke="#7a7a7a" stroke-width="1"/>
<line x1="270.31" y1="819.8" x2="270.31" y2="821.8" stroke="#7a7a7a" stroke-width="1"/>
<line x1="275.41" y1="819.8" x2="275.41" y2="821.8" stroke="#7a7a7a" stroke-width="1"/>
<line x1="279.58" y1="819.8" x2="279.58" y2="821.8" stroke="#7a7a7a" stroke-width="1"/>
<line x1="283.10" y1="819.8" x2="283.10" y2="821.8" stroke="#7a7a7a" stroke-width="1"/>
<line x1="286.15" y1="819.8" x2="286.15" y2="821.8" stroke="#7a7a7a" stroke-width="1"/>
<line x1="288.84" y1="819.8" x2="288.84" y2="821.8" stroke="#7a7a7a" stroke-width="1"/>
<line x1="291.25" y1="819.8" x2="291.25" y2="822.8" stroke="#7a7a7a" stroke-width="1"/>
<line x1="307.09" y1="819.8" x2="307.09" y2="821.8" stroke="#7a7a7a" stroke-width="1"/>
<line x1="316.36" y1="819.8" x2="316.36" y2="821.8" stroke="#7a7a7a" stroke-width="1"/>
<line x1="322.93" y1="819.8" x2="322.93" y2="821.8" stroke="#7a7a7a" stroke-width="1"/>
<line x1="328.03" y1="819.8" x2="328.03" y2="821.8" stroke="#7a7a7a" stroke-width="1"/>
<line x1="332.20" y1="819.8" x2="332.20" y2="821.8" stroke="#7a7a7a" stroke-width="1"/>
<line x1="335.72" y1="819.8" x2="335.72" y2="821.8" stroke="#7a7a7a" stroke-width="1"/>
<line x1="338.78" y1="819.8" x2="338.78" y2="821.8" stroke="#7a7a7a" stroke-width="1"/>
<line x1="341.47" y1="819.8" x2="341.47" y2="821.8" stroke="#7a7a7a" stroke-width="1"/>
<line x1="343.88" y1="819.8" x2="343.88" y2="822.8" stroke="#7a7a7a" stroke-width="1"/>
<line x1="359.72" y1="819.8" x2="359.72" y2="821.8" stroke="#7a7a7a" stroke-width="1"/>
<line x1="368.98" y1="819.8" x2="368.98" y2="821.8" stroke="#7a7a7a" stroke-width="1"/>
<line x1="375.56" y1="819.8" x2="375.56" y2="821.8" stroke="#7a7a7a" stroke-width="1"/>
<line x1="380.66" y1="819.8" x2="380.66" y2="821.8" stroke="#7a7a7a" stroke-width="1"/>
<line x1="384.83" y1="819.8" x2="384.83" y2="821.8" stroke="#7a7a7a" stroke-width="1"/>
<line x1="388.35" y1="819.8" x2="388.35" y2="821.8" stroke="#7a7a7a" stroke-width="1"/>
<line x1="391.40" y1="819.8" x2="391.40" y2="821.8" stroke="#7a7a7a" stroke-width="1"/>
<line x1="394.09" y1="819.8" x2="394.09" y2="821.8" stroke="#7a7a7a" stroke-width="1"/>
<line x1="396.50" y1="819.8" x2="396.50" y2="822.8" stroke="#7a7a7a" stroke-width="1"/>
<text transform="translate(180.3,693.6) rotate(-90)" text-anchor="middle" font-size="14.6" fill="#1c1c1c">256</text>
<text transform="translate(180.7,820.0) rotate(-90)" text-anchor="middle" font-size="15" fill="#1c1c1c">0</text>
<text transform="translate(168.5,757.25) rotate(-90)" text-anchor="middle" font-size="15" fill="#1c1c1c">Events</text>
<text x="179.70" y="835.50" font-size="14" fill="#1c1c1c">10<tspan font-size="9.5" dy="-5.3" dx="0.3">0</tspan></text>
<text x="232.32" y="835.50" font-size="14" fill="#1c1c1c">10<tspan font-size="9.5" dy="-5.3" dx="0.3">1</tspan></text>
<text x="284.95" y="835.50" font-size="14" fill="#1c1c1c">10<tspan font-size="9.5" dy="-5.3" dx="0.3">2</tspan></text>
<text x="337.57" y="835.50" font-size="14" fill="#1c1c1c">10<tspan font-size="9.5" dy="-5.3" dx="0.3">3</tspan></text>
<text x="390.20" y="835.50" font-size="14" fill="#1c1c1c">10<tspan font-size="9.5" dy="-5.3" dx="0.3">4</tspan></text>
<text x="291.75" y="851.40" text-anchor="middle" font-size="14" letter-spacing="0.5" fill="#1c1c1c">FL1-H</text>
<path d="M186.50,816.90 L186.83,816.81 L187.17,816.38 L187.50,816.43 L187.83,817.16 L188.17,816.40 L188.50,816.50 L188.83,816.41 L189.17,816.44 L189.50,816.54 L189.83,816.27 L190.17,815.91 L190.50,816.29 L190.83,816.73 L191.17,816.20 L191.50,815.70 L191.83,817.25 L192.17,815.74 L192.50,816.08 L192.83,815.74 L193.17,816.17 L193.50,815.94 L193.83,815.25 L194.17,816.18 L194.50,815.85 L194.83,814.99 L195.17,815.06 L195.50,814.91 L195.83,815.86 L196.17,815.36 L196.50,815.28 L196.83,815.58 L197.17,815.72 L197.50,815.01 L197.83,815.06 L198.17,814.76 L198.50,814.71 L198.83,814.70 L199.17,814.53 L199.50,814.88 L199.83,815.10 L200.17,813.96 L200.50,814.77 L200.83,814.25 L201.17,814.26 L201.50,813.62 L201.83,813.23 L202.17,814.18 L202.50,813.92 L202.83,813.87 L203.17,813.99 L203.50,813.50 L203.83,814.16 L204.17,814.62 L204.50,814.42 L204.83,814.01 L205.17,813.77 L205.50,813.74 L205.83,813.57 L206.17,813.48 L206.50,813.33 L206.83,813.18 L207.17,815.38 L207.50,813.80 L207.83,813.67 L208.17,813.47 L208.50,812.92 L208.83,813.24 L209.17,812.64 L209.50,813.04 L209.83,812.54 L210.17,812.76 L210.50,812.91 L210.83,813.29 L211.17,812.72 L211.50,812.34 L211.83,811.67 L212.17,812.60 L212.50,813.12 L212.83,812.67 L213.17,812.44 L213.50,812.48 L213.83,812.51 L214.17,811.92 L214.50,812.26 L214.83,812.67 L215.17,812.46 L215.50,812.22 L215.83,812.56 L216.17,811.41 L216.50,812.76 L216.83,811.56 L217.17,811.62 L217.50,812.50 L217.83,812.04 L218.17,811.78 L218.50,812.27 L218.83,811.11 L219.17,812.16 L219.50,812.97 L219.83,811.59 L220.17,811.60 L220.50,811.43 L220.83,812.10 L221.17,812.11 L221.50,811.48 L221.83,810.84 L222.17,811.42 L222.50,811.23 L222.83,810.40 L223.17,812.18 L223.50,810.81 L223.83,811.81 L224.17,809.97 L224.50,811.27 L224.83,810.34 L225.17,811.35 L225.50,811.00 L225.83,809.64 L226.17,809.61 L226.50,810.09 L226.83,809.81 L227.17,811.00 L227.50,810.62 L227.83,810.41 L228.17,810.08 L228.50,810.79 L228.83,810.05 L229.17,810.42 L229.50,809.33 L229.83,810.30 L230.17,809.90 L230.50,809.72 L230.83,810.01 L231.17,808.49 L231.50,807.76 L231.83,809.12 L232.17,809.17 L232.50,808.61 L232.83,808.82 L233.17,809.24 L233.50,808.06 L233.83,808.73 L234.17,808.49 L234.50,809.18 L234.83,808.70 L235.17,807.65 L235.50,807.57 L235.83,807.37 L236.17,806.73 L236.50,806.52 L236.83,806.15 L237.17,807.56 L237.50,807.09 L237.83,807.03 L238.17,806.34 L238.50,806.34 L238.83,807.13 L239.17,807.15 L239.50,806.35 L239.83,806.30 L240.17,804.31 L240.50,806.09 L240.83,804.89 L241.17,804.79 L241.50,805.67 L241.83,804.28 L242.17,804.04 L242.50,805.70 L242.83,805.81 L243.17,804.69 L243.50,805.22 L243.83,805.58 L244.17,805.90 L244.50,804.04 L244.83,804.31 L245.17,804.71 L245.50,805.41 L245.83,804.81 L246.17,804.85 L246.50,805.09 L246.83,805.09 L247.17,804.71 L247.50,803.38 L247.83,803.95 L248.17,803.47 L248.50,803.21 L248.83,803.36 L249.17,802.74 L249.50,802.99 L249.83,802.86 L250.17,804.22 L250.50,802.09 L250.83,802.25 L251.17,801.68 L251.50,802.10 L251.83,802.09 L252.17,801.08 L252.50,802.17 L252.83,801.02 L253.17,801.36 L253.50,801.25 L253.83,801.91 L254.17,802.10 L254.50,802.57 L254.83,801.56 L255.17,802.69 L255.50,803.44 L255.83,803.70 L256.17,802.60 L256.50,802.24 L256.83,802.49 L257.17,803.12 L257.50,802.41 L257.83,800.86 L258.17,801.81 L258.50,800.83 L258.83,801.04 L259.17,800.72 L259.50,799.66 L259.83,799.86 L260.17,800.16 L260.50,800.11 L260.83,798.37 L261.17,798.62 L261.50,798.33 L261.83,797.49 L262.17,797.41 L262.50,797.13 L262.83,797.10 L263.17,797.42 L263.50,794.92 L263.83,796.48 L264.17,794.62 L264.50,795.66 L264.83,794.90 L265.17,794.52 L265.50,793.89 L265.83,792.39 L266.17,793.43 L266.50,792.94 L266.83,793.12 L267.17,791.11 L267.50,790.44 L267.83,791.54 L268.17,791.34 L268.50,790.04 L268.83,789.31 L269.17,788.31 L269.50,788.47 L269.83,786.68 L270.17,787.06 L270.50,786.07 L270.83,783.25 L271.17,783.45 L271.50,779.97 L271.83,780.09 L272.17,779.86 L272.50,777.41 L272.83,774.37 L273.17,773.67 L273.50,775.66 L273.83,772.82 L274.17,774.90 L274.50,772.56 L274.83,771.57 L275.17,772.18 L275.50,768.83 L275.83,766.21 L276.17,766.74 L276.50,767.65 L276.83,764.04 L277.17,764.23 L277.50,761.39 L277.83,762.87 L278.17,761.67 L278.50,760.87 L278.83,758.59 L279.17,758.42 L279.50,758.27 L279.83,756.61 L280.17,754.80 L280.50,753.52 L280.83,753.17 L281.17,753.90 L281.50,751.65 L281.83,751.69 L282.17,751.46 L282.50,747.91 L282.83,748.58 L283.17,746.80 L283.50,746.73 L283.83,747.11 L284.17,748.03 L284.50,748.76 L284.83,749.79 L285.17,748.26 L285.50,751.27 L285.83,754.60 L286.17,756.87 L286.50,758.60 L286.83,760.52 L287.17,763.63 L287.50,763.86 L287.83,768.94 L288.17,769.77 L288.50,770.22 L288.83,774.12 L289.17,775.46 L289.50,776.90 L289.83,779.56 L290.17,782.70 L290.50,782.36 L290.83,785.12 L291.17,789.82 L291.50,792.50 L291.83,791.65 L292.17,793.71 L292.50,796.81 L292.83,797.92 L293.17,800.29 L293.50,801.37 L293.83,802.26 L294.17,805.27 L294.50,805.23 L294.83,805.63 L295.17,807.03 L295.50,808.96 L295.83,808.65 L296.17,810.35 L296.50,811.72 L296.83,812.20 L297.17,812.55 L297.50,814.29 L297.83,813.85 L298.17,814.91 L298.50,815.18 L298.83,816.07 L299.17,816.94 L299.50,817.78 L299.83,817.26 L300.17,817.94 L300.50,817.78 L300.83,818.25 L301.17,818.39 L301.50,818.56 L301.83,818.43 L302.17,818.69 L302.50,818.88 L302.83,818.93 L303.17,819.49 L303.50,819.52 L303.83,819.68" fill="none" stroke="#404040" stroke-width="1.0" stroke-linejoin="round"/>
<line x1="186.30" y1="819.8" x2="186.30" y2="755.58" stroke="#111" stroke-width="1.8"/>
<path d="M187.00,811.56 L187.33,813.06 L187.67,815.28 L188.00,814.76 L188.33,815.21 L188.67,813.41 L189.00,814.82 L189.33,814.49 L189.67,811.05 L190.00,811.51 L190.33,813.90 L190.67,811.66 L191.00,812.29 L191.33,812.89 L191.67,812.60 L192.00,813.06 L192.33,813.17 L192.67,811.80 L193.00,812.74 L193.33,811.53 L193.67,812.91 L194.00,811.85 L194.33,809.24 L194.67,811.99 L195.00,809.80 L195.33,813.74 L195.67,811.93 L196.00,811.33 L196.33,810.46 L196.67,811.10 L197.00,812.41 L197.33,811.90 L197.67,814.95 L198.00,809.48 L198.33,809.37 L198.67,810.65 L199.00,811.96 L199.33,808.32 L199.67,809.83 L200.00,809.73 L200.33,811.67 L200.67,809.63 L201.00,811.76 L201.33,809.92 L201.67,811.25 L202.00,807.53 L202.33,809.14 L202.67,813.40 L203.00,809.21 L203.33,808.09 L203.67,812.85 L204.00,810.82 L204.33,810.86 L204.67,810.49 L205.00,811.88 L205.33,809.92 L205.67,811.09 L206.00,811.46 L206.33,811.33 L206.67,808.77 L207.00,808.65 L207.33,807.69 L207.67,807.79 L208.00,810.64 L208.33,809.40 L208.67,810.81 L209.00,808.03 L209.33,809.38 L209.67,808.75 L210.00,810.83 L210.33,809.17 L210.67,810.84 L211.00,810.36 L211.33,808.31 L211.67,811.36 L212.00,807.51 L212.33,807.21 L212.67,810.82 L213.00,807.15 L213.33,807.71 L213.67,810.04 L214.00,806.41 L214.33,808.60 L214.67,806.98 L215.00,807.13 L215.33,807.40 L215.67,809.64 L216.00,806.10 L216.33,809.69 L216.67,810.03 L217.00,807.17 L217.33,806.95 L217.67,808.49 L218.00,811.10 L218.33,806.83 L218.67,808.92 L219.00,804.49 L219.33,804.73 L219.67,806.32 L220.00,806.55 L220.33,806.92 L220.67,802.60 L221.00,805.73 L221.33,805.07 L221.67,808.26 L222.00,808.16 L222.33,808.16 L222.67,803.49 L223.00,809.31 L223.33,803.97 L223.67,805.90 L224.00,805.52 L224.33,807.37 L224.67,806.49 L225.00,804.18 L225.33,803.62 L225.67,803.56 L226.00,806.90 L226.33,806.50 L226.67,807.21 L227.00,803.77 L227.33,805.81 L227.67,802.78 L228.00,804.66 L228.33,803.94 L228.67,806.58 L229.00,805.97 L229.33,803.90 L229.67,802.50 L230.00,800.54 L230.33,804.60 L230.67,804.41 L231.00,802.50 L231.33,808.13 L231.67,801.87 L232.00,799.88 L232.33,801.76 L232.67,799.87 L233.00,799.49 L233.33,797.17 L233.67,797.25 L234.00,793.30 L234.33,792.35 L234.67,790.16 L235.00,796.53 L235.33,795.90 L235.67,794.69 L236.00,793.41 L236.33,791.83 L236.67,791.56 L237.00,792.45 L237.33,790.00 L237.67,792.78 L238.00,788.35 L238.33,787.83 L238.67,786.33 L239.00,788.16 L239.33,784.98 L239.67,784.31 L240.00,784.83 L240.33,782.00 L240.67,781.52 L241.00,781.49 L241.33,782.30 L241.67,780.18 L242.00,779.11 L242.33,774.75 L242.67,777.43 L243.00,775.72 L243.33,775.12 L243.67,775.11 L244.00,774.14 L244.33,769.13 L244.67,767.42 L245.00,769.18 L245.33,763.97 L245.67,766.17 L246.00,763.49 L246.33,764.48 L246.67,764.27 L247.00,763.97 L247.33,761.25 L247.67,759.15 L248.00,757.81 L248.33,755.58 L248.67,750.52 L249.00,746.71 L249.33,741.82 L249.67,737.38 L250.00,734.54 L250.33,730.79 L250.67,733.21 L251.00,733.07 L251.33,732.89 L251.67,737.64 L252.00,741.85 L252.33,739.93 L252.67,740.66 L253.00,740.38 L253.33,744.04 L253.67,742.08 L254.00,744.63 L254.33,744.51 L254.67,748.89 L255.00,749.07 L255.33,752.57 L255.67,749.71 L256.00,752.09 L256.33,750.75 L256.67,758.86 L257.00,761.10 L257.33,763.68 L257.67,768.78 L258.00,766.53 L258.33,769.93 L258.67,771.05 L259.00,775.80 L259.33,780.09 L259.67,782.62 L260.00,784.15 L260.33,789.05 L260.67,787.62 L261.00,791.30 L261.33,792.92 L261.67,798.86 L262.00,800.14 L262.33,802.06 L262.67,805.64 L263.00,804.53 L263.33,807.21 L263.67,809.76 L264.00,809.68 L264.33,813.04 L264.67,813.78 L265.00,811.48 L265.33,815.65 L265.67,814.96 L266.00,816.57 L266.33,815.98 L266.67,816.16 L267.00,817.16 L267.33,816.01 L267.67,818.98 L268.00,816.77 L268.33,817.89 L268.67,815.87 L269.00,818.75 L269.33,817.80 L269.67,817.95 L270.00,818.04 L270.33,818.08 L270.67,818.35 L271.00,819.29 L271.33,817.89 L271.67,818.82 L272.00,818.33 L272.33,818.20 L272.67,817.46 L273.00,818.12 L273.33,819.00 L273.67,817.52 L274.00,819.57 L274.33,819.64 L274.67,818.77 L275.00,818.84 L275.33,819.22 L275.67,819.67 L276.00,818.50" fill="none" stroke="#000" stroke-width="1.7" stroke-linejoin="round"/>
<path d="M472.40,819.8 L472.40,815.98 L472.73,815.92 L473.07,816.25 L473.40,816.12 L473.73,816.14 L474.07,815.88 L474.40,816.07 L474.73,816.11 L475.07,816.09 L475.40,816.56 L475.73,815.94 L476.07,816.90 L476.40,815.17 L476.73,816.47 L477.07,816.01 L477.40,816.12 L477.73,815.87 L478.07,815.93 L478.40,816.62 L478.73,816.69 L479.07,816.70 L479.40,816.31 L479.73,815.63 L480.07,816.13 L480.40,816.86 L480.73,816.13 L481.07,816.77 L481.40,816.36 L481.73,816.28 L482.07,817.00 L482.40,816.43 L482.73,816.16 L483.07,816.33 L483.40,815.92 L483.73,816.48 L484.07,816.72 L484.40,815.96 L484.73,816.46 L485.07,816.24 L485.40,816.74 L485.73,816.18 L486.07,816.04 L486.40,816.05 L486.73,816.51 L487.07,816.23 L487.40,815.95 L487.73,816.27 L488.07,816.17 L488.40,816.56 L488.73,815.92 L489.07,816.99 L489.40,815.97 L489.73,816.34 L490.07,816.19 L490.40,816.27 L490.73,815.74 L491.07,816.71 L491.40,815.91 L491.73,815.74 L492.07,817.06 L492.40,816.59 L492.73,816.27 L493.07,816.57 L493.40,816.65 L493.73,816.14 L494.07,816.06 L494.40,815.81 L494.73,816.00 L495.07,816.35 L495.40,816.05 L495.73,816.62 L496.07,816.69 L496.40,816.29 L496.73,815.70 L497.07,816.26 L497.40,815.94 L497.73,816.93 L498.07,816.39 L498.40,816.13 L498.73,816.06 L499.07,816.67 L499.40,816.38 L499.73,815.82 L500.07,815.65 L500.40,815.83 L500.73,816.28 L501.07,816.13 L501.40,815.75 L501.73,815.65 L502.07,815.72 L502.40,814.46 L502.73,815.31 L503.07,816.04 L503.40,815.70 L503.73,815.02 L504.07,815.00 L504.40,814.70 L504.73,814.51 L505.07,815.06 L505.40,815.51 L505.73,814.62 L506.07,814.56 L506.40,814.97 L506.73,814.95 L507.07,814.07 L507.40,813.32 L507.73,813.49 L508.07,813.76 L508.40,813.48 L508.73,813.50 L509.07,812.63 L509.40,811.90 L509.73,811.86 L510.07,811.59 L510.40,811.77 L510.73,811.69 L511.07,810.20 L511.40,810.59 L511.73,810.34 L512.07,809.49 L512.40,808.40 L512.73,808.44 L513.07,807.63 L513.40,807.18 L513.73,806.86 L514.07,806.83 L514.40,806.68 L514.73,805.14 L515.07,805.87 L515.40,804.73 L515.73,804.89 L516.07,803.46 L516.40,805.46 L516.73,804.15 L517.07,802.81 L517.40,803.04 L517.73,802.36 L518.07,802.79 L518.40,802.12 L518.73,801.01 L519.07,800.84 L519.40,801.62 L519.73,800.68 L520.07,799.97 L520.40,800.67 L520.73,801.27 L521.07,800.79 L521.40,799.79 L521.73,800.52 L522.07,798.42 L522.40,797.41 L522.73,799.53 L523.07,798.81 L523.40,799.10 L523.73,798.07 L524.07,798.34 L524.40,798.51 L524.73,798.01 L525.07,796.51 L525.40,797.34 L525.73,797.70 L526.07,796.15 L526.40,796.54 L526.73,796.35 L527.07,797.02 L527.40,796.17 L527.73,796.10 L528.07,798.98 L528.40,796.83 L528.73,796.45 L529.07,798.29 L529.40,797.50 L529.73,798.47 L530.07,796.91 L530.40,797.03 L530.73,794.69 L531.07,791.84 L531.40,789.39 L531.73,788.66 L532.07,786.77 L532.40,788.75 L532.73,788.02 L533.07,789.20 L533.40,789.86 L533.73,788.86 L534.07,791.33 L534.40,790.58 L534.73,788.94 L535.07,789.24 L535.40,789.05 L535.73,787.71 L536.07,789.19 L536.40,788.22 L536.73,787.06 L537.07,787.05 L537.40,784.94 L537.73,784.34 L538.07,783.33 L538.40,781.44 L538.73,782.24 L539.07,781.50 L539.40,780.78 L539.73,777.71 L540.07,778.78 L540.40,776.95 L540.73,776.75 L541.07,776.00 L541.40,775.91 L541.73,776.85 L542.07,774.30 L542.40,776.77 L542.73,774.67 L543.07,773.79 L543.40,773.34 L543.73,773.95 L544.07,771.19 L544.40,772.79 L544.73,774.59 L545.07,774.29 L545.40,774.22 L545.73,773.70 L546.07,773.93 L546.40,773.04 L546.73,773.71 L547.07,771.66 L547.40,771.92 L547.73,775.51 L548.07,772.22 L548.40,773.81 L548.73,771.74 L549.07,770.91 L549.40,771.57 L549.73,770.75 L550.07,769.61 L550.40,770.44 L550.73,769.75 L551.07,771.16 L551.40,770.51 L551.73,770.80 L552.07,771.35 L552.40,772.33 L552.73,770.47 L553.07,772.07 L553.40,774.08 L553.73,773.26 L554.07,771.34 L554.40,774.79 L554.73,774.52 L555.07,773.07 L555.40,773.95 L555.73,775.69 L556.07,775.14 L556.40,774.96 L556.73,776.55 L557.07,777.43 L557.40,777.59 L557.73,779.17 L558.07,780.75 L558.40,781.57 L558.73,782.44 L559.07,782.60 L559.40,782.58 L559.73,784.04 L560.07,783.79 L560.40,784.43 L560.73,784.79 L561.07,787.04 L561.40,785.94 L561.73,788.90 L562.07,788.73 L562.40,790.89 L562.73,791.20 L563.07,793.15 L563.40,792.99 L563.73,795.06 L564.07,795.68 L564.40,797.91 L564.73,797.45 L565.07,799.33 L565.40,800.50 L565.73,800.62 L566.07,801.80 L566.40,801.23 L566.73,803.36 L567.07,805.64 L567.40,805.92 L567.73,808.82 L568.07,807.88 L568.40,807.47 L568.73,808.24 L569.07,809.55 L569.40,811.65 L569.73,810.28 L570.07,812.17 L570.40,812.40 L570.73,812.80 L571.07,814.31 L571.40,814.32 L571.73,814.37 L572.07,815.61 L572.40,815.83 L572.73,815.46 L573.07,816.58 L573.40,817.48 L573.73,817.40 L574.07,816.77 L574.40,817.44 L574.73,818.05 L575.07,818.58 L575.40,818.51 L575.73,818.70 L576.07,818.41 L576.40,819.62 L576.73,819.36 L577.07,819.43 L577.40,819.61 L577.40,819.8 Z" fill="#cbd3dd" stroke="none"/>
<line x1="471.9" y1="694.7" x2="471.9" y2="819.8" stroke="#7a7a7a" stroke-width="1"/>
<line x1="470.29999999999995" y1="694.70" x2="471.9" y2="694.70" stroke="#7a7a7a" stroke-width="1"/>
<line x1="470.29999999999995" y1="725.98" x2="471.9" y2="725.98" stroke="#7a7a7a" stroke-width="1"/>
<line x1="470.29999999999995" y1="757.25" x2="471.9" y2="757.25" stroke="#7a7a7a" stroke-width="1"/>
<line x1="470.29999999999995" y1="788.52" x2="471.9" y2="788.52" stroke="#7a7a7a" stroke-width="1"/>
<line x1="470.29999999999995" y1="819.80" x2="471.9" y2="819.80" stroke="#7a7a7a" stroke-width="1"/>
<line x1="471.9" y1="819.8" x2="682.4" y2="819.8" stroke="#7a7a7a" stroke-width="1"/>
<line x1="471.90" y1="819.8" x2="471.90" y2="822.8" stroke="#7a7a7a" stroke-width="1"/>
<line x1="487.74" y1="819.8" x2="487.74" y2="821.8" stroke="#7a7a7a" stroke-width="1"/>
<line x1="497.01" y1="819.8" x2="497.01" y2="821.8" stroke="#7a7a7a" stroke-width="1"/>
<line x1="503.58" y1="819.8" x2="503.58" y2="821.8" stroke="#7a7a7a" stroke-width="1"/>
<line x1="508.68" y1="819.8" x2="508.68" y2="821.8" stroke="#7a7a7a" stroke-width="1"/>
<line x1="512.85" y1="819.8" x2="512.85" y2="821.8" stroke="#7a7a7a" stroke-width="1"/>
<line x1="516.37" y1="819.8" x2="516.37" y2="821.8" stroke="#7a7a7a" stroke-width="1"/>
<line x1="519.43" y1="819.8" x2="519.43" y2="821.8" stroke="#7a7a7a" stroke-width="1"/>
<line x1="522.12" y1="819.8" x2="522.12" y2="821.8" stroke="#7a7a7a" stroke-width="1"/>
<line x1="524.52" y1="819.8" x2="524.52" y2="822.8" stroke="#7a7a7a" stroke-width="1"/>
<line x1="540.37" y1="819.8" x2="540.37" y2="821.8" stroke="#7a7a7a" stroke-width="1"/>
<line x1="549.63" y1="819.8" x2="549.63" y2="821.8" stroke="#7a7a7a" stroke-width="1"/>
<line x1="556.21" y1="819.8" x2="556.21" y2="821.8" stroke="#7a7a7a" stroke-width="1"/>
<line x1="561.31" y1="819.8" x2="561.31" y2="821.8" stroke="#7a7a7a" stroke-width="1"/>
<line x1="565.48" y1="819.8" x2="565.48" y2="821.8" stroke="#7a7a7a" stroke-width="1"/>
<line x1="569.00" y1="819.8" x2="569.00" y2="821.8" stroke="#7a7a7a" stroke-width="1"/>
<line x1="572.05" y1="819.8" x2="572.05" y2="821.8" stroke="#7a7a7a" stroke-width="1"/>
<line x1="574.74" y1="819.8" x2="574.74" y2="821.8" stroke="#7a7a7a" stroke-width="1"/>
<line x1="577.15" y1="819.8" x2="577.15" y2="822.8" stroke="#7a7a7a" stroke-width="1"/>
<line x1="592.99" y1="819.8" x2="592.99" y2="821.8" stroke="#7a7a7a" stroke-width="1"/>
<line x1="602.26" y1="819.8" x2="602.26" y2="821.8" stroke="#7a7a7a" stroke-width="1"/>
<line x1="608.83" y1="819.8" x2="608.83" y2="821.8" stroke="#7a7a7a" stroke-width="1"/>
<line x1="613.93" y1="819.8" x2="613.93" y2="821.8" stroke="#7a7a7a" stroke-width="1"/>
<line x1="618.10" y1="819.8" x2="618.10" y2="821.8" stroke="#7a7a7a" stroke-width="1"/>
<line x1="621.62" y1="819.8" x2="621.62" y2="821.8" stroke="#7a7a7a" stroke-width="1"/>
<line x1="624.68" y1="819.8" x2="624.68" y2="821.8" stroke="#7a7a7a" stroke-width="1"/>
<line x1="627.37" y1="819.8" x2="627.37" y2="821.8" stroke="#7a7a7a" stroke-width="1"/>
<line x1="629.77" y1="819.8" x2="629.77" y2="822.8" stroke="#7a7a7a" stroke-width="1"/>
<line x1="645.62" y1="819.8" x2="645.62" y2="821.8" stroke="#7a7a7a" stroke-width="1"/>
<line x1="654.88" y1="819.8" x2="654.88" y2="821.8" stroke="#7a7a7a" stroke-width="1"/>
<line x1="661.46" y1="819.8" x2="661.46" y2="821.8" stroke="#7a7a7a" stroke-width="1"/>
<line x1="666.56" y1="819.8" x2="666.56" y2="821.8" stroke="#7a7a7a" stroke-width="1"/>
<line x1="670.73" y1="819.8" x2="670.73" y2="821.8" stroke="#7a7a7a" stroke-width="1"/>
<line x1="674.25" y1="819.8" x2="674.25" y2="821.8" stroke="#7a7a7a" stroke-width="1"/>
<line x1="677.30" y1="819.8" x2="677.30" y2="821.8" stroke="#7a7a7a" stroke-width="1"/>
<line x1="679.99" y1="819.8" x2="679.99" y2="821.8" stroke="#7a7a7a" stroke-width="1"/>
<line x1="682.40" y1="819.8" x2="682.40" y2="822.8" stroke="#7a7a7a" stroke-width="1"/>
<text transform="translate(466.2,693.6) rotate(-90)" text-anchor="middle" font-size="14.6" fill="#1c1c1c">256</text>
<text transform="translate(466.59999999999997,820.0) rotate(-90)" text-anchor="middle" font-size="15" fill="#1c1c1c">0</text>
<text transform="translate(454.4,757.25) rotate(-90)" text-anchor="middle" font-size="15" fill="#1c1c1c">Events</text>
<text x="465.60" y="836.40" font-size="14" fill="#1c1c1c">10<tspan font-size="9.5" dy="-5.3" dx="0.3">0</tspan></text>
<text x="518.23" y="836.40" font-size="14" fill="#1c1c1c">10<tspan font-size="9.5" dy="-5.3" dx="0.3">1</tspan></text>
<text x="570.85" y="836.40" font-size="14" fill="#1c1c1c">10<tspan font-size="9.5" dy="-5.3" dx="0.3">2</tspan></text>
<text x="623.48" y="836.40" font-size="14" fill="#1c1c1c">10<tspan font-size="9.5" dy="-5.3" dx="0.3">3</tspan></text>
<text x="676.10" y="836.40" font-size="14" fill="#1c1c1c">10<tspan font-size="9.5" dy="-5.3" dx="0.3">4</tspan></text>
<text x="577.65" y="851.80" text-anchor="middle" font-size="14" letter-spacing="0.5" fill="#1c1c1c">FL1-H</text>
<path d="M472.40,815.98 L472.73,815.92 L473.07,816.25 L473.40,816.12 L473.73,816.14 L474.07,815.88 L474.40,816.07 L474.73,816.11 L475.07,816.09 L475.40,816.56 L475.73,815.94 L476.07,816.90 L476.40,815.17 L476.73,816.47 L477.07,816.01 L477.40,816.12 L477.73,815.87 L478.07,815.93 L478.40,816.62 L478.73,816.69 L479.07,816.70 L479.40,816.31 L479.73,815.63 L480.07,816.13 L480.40,816.86 L480.73,816.13 L481.07,816.77 L481.40,816.36 L481.73,816.28 L482.07,817.00 L482.40,816.43 L482.73,816.16 L483.07,816.33 L483.40,815.92 L483.73,816.48 L484.07,816.72 L484.40,815.96 L484.73,816.46 L485.07,816.24 L485.40,816.74 L485.73,816.18 L486.07,816.04 L486.40,816.05 L486.73,816.51 L487.07,816.23 L487.40,815.95 L487.73,816.27 L488.07,816.17 L488.40,816.56 L488.73,815.92 L489.07,816.99 L489.40,815.97 L489.73,816.34 L490.07,816.19 L490.40,816.27 L490.73,815.74 L491.07,816.71 L491.40,815.91 L491.73,815.74 L492.07,817.06 L492.40,816.59 L492.73,816.27 L493.07,816.57 L493.40,816.65 L493.73,816.14 L494.07,816.06 L494.40,815.81 L494.73,816.00 L495.07,816.35 L495.40,816.05 L495.73,816.62 L496.07,816.69 L496.40,816.29 L496.73,815.70 L497.07,816.26 L497.40,815.94 L497.73,816.93 L498.07,816.39 L498.40,816.13 L498.73,816.06 L499.07,816.67 L499.40,816.38 L499.73,815.82 L500.07,815.65 L500.40,815.83 L500.73,816.28 L501.07,816.13 L501.40,815.75 L501.73,815.65 L502.07,815.72 L502.40,814.46 L502.73,815.31 L503.07,816.04 L503.40,815.70 L503.73,815.02 L504.07,815.00 L504.40,814.70 L504.73,814.51 L505.07,815.06 L505.40,815.51 L505.73,814.62 L506.07,814.56 L506.40,814.97 L506.73,814.95 L507.07,814.07 L507.40,813.32 L507.73,813.49 L508.07,813.76 L508.40,813.48 L508.73,813.50 L509.07,812.63 L509.40,811.90 L509.73,811.86 L510.07,811.59 L510.40,811.77 L510.73,811.69 L511.07,810.20 L511.40,810.59 L511.73,810.34 L512.07,809.49 L512.40,808.40 L512.73,808.44 L513.07,807.63 L513.40,807.18 L513.73,806.86 L514.07,806.83 L514.40,806.68 L514.73,805.14 L515.07,805.87 L515.40,804.73 L515.73,804.89 L516.07,803.46 L516.40,805.46 L516.73,804.15 L517.07,802.81 L517.40,803.04 L517.73,802.36 L518.07,802.79 L518.40,802.12 L518.73,801.01 L519.07,800.84 L519.40,801.62 L519.73,800.68 L520.07,799.97 L520.40,800.67 L520.73,801.27 L521.07,800.79 L521.40,799.79 L521.73,800.52 L522.07,798.42 L522.40,797.41 L522.73,799.53 L523.07,798.81 L523.40,799.10 L523.73,798.07 L524.07,798.34 L524.40,798.51 L524.73,798.01 L525.07,796.51 L525.40,797.34 L525.73,797.70 L526.07,796.15 L526.40,796.54 L526.73,796.35 L527.07,797.02 L527.40,796.17 L527.73,796.10 L528.07,798.98 L528.40,796.83 L528.73,796.45 L529.07,798.29 L529.40,797.50 L529.73,798.47 L530.07,796.91 L530.40,797.03 L530.73,794.69 L531.07,791.84 L531.40,789.39 L531.73,788.66 L532.07,786.77 L532.40,788.75 L532.73,788.02 L533.07,789.20 L533.40,789.86 L533.73,788.86 L534.07,791.33 L534.40,790.58 L534.73,788.94 L535.07,789.24 L535.40,789.05 L535.73,787.71 L536.07,789.19 L536.40,788.22 L536.73,787.06 L537.07,787.05 L537.40,784.94 L537.73,784.34 L538.07,783.33 L538.40,781.44 L538.73,782.24 L539.07,781.50 L539.40,780.78 L539.73,777.71 L540.07,778.78 L540.40,776.95 L540.73,776.75 L541.07,776.00 L541.40,775.91 L541.73,776.85 L542.07,774.30 L542.40,776.77 L542.73,774.67 L543.07,773.79 L543.40,773.34 L543.73,773.95 L544.07,771.19 L544.40,772.79 L544.73,774.59 L545.07,774.29 L545.40,774.22 L545.73,773.70 L546.07,773.93 L546.40,773.04 L546.73,773.71 L547.07,771.66 L547.40,771.92 L547.73,775.51 L548.07,772.22 L548.40,773.81 L548.73,771.74 L549.07,770.91 L549.40,771.57 L549.73,770.75 L550.07,769.61 L550.40,770.44 L550.73,769.75 L551.07,771.16 L551.40,770.51 L551.73,770.80 L552.07,771.35 L552.40,772.33 L552.73,770.47 L553.07,772.07 L553.40,774.08 L553.73,773.26 L554.07,771.34 L554.40,774.79 L554.73,774.52 L555.07,773.07 L555.40,773.95 L555.73,775.69 L556.07,775.14 L556.40,774.96 L556.73,776.55 L557.07,777.43 L557.40,777.59 L557.73,779.17 L558.07,780.75 L558.40,781.57 L558.73,782.44 L559.07,782.60 L559.40,782.58 L559.73,784.04 L560.07,783.79 L560.40,784.43 L560.73,784.79 L561.07,787.04 L561.40,785.94 L561.73,788.90 L562.07,788.73 L562.40,790.89 L562.73,791.20 L563.07,793.15 L563.40,792.99 L563.73,795.06 L564.07,795.68 L564.40,797.91 L564.73,797.45 L565.07,799.33 L565.40,800.50 L565.73,800.62 L566.07,801.80 L566.40,801.23 L566.73,803.36 L567.07,805.64 L567.40,805.92 L567.73,808.82 L568.07,807.88 L568.40,807.47 L568.73,808.24 L569.07,809.55 L569.40,811.65 L569.73,810.28 L570.07,812.17 L570.40,812.40 L570.73,812.80 L571.07,814.31 L571.40,814.32 L571.73,814.37 L572.07,815.61 L572.40,815.83 L572.73,815.46 L573.07,816.58 L573.40,817.48 L573.73,817.40 L574.07,816.77 L574.40,817.44 L574.73,818.05 L575.07,818.58 L575.40,818.51 L575.73,818.70 L576.07,818.41 L576.40,819.62 L576.73,819.36 L577.07,819.43 L577.40,819.61" fill="none" stroke="#404040" stroke-width="1.0" stroke-linejoin="round"/>
<line x1="472.20" y1="819.8" x2="472.20" y2="754.88" stroke="#111" stroke-width="1.8"/>
<path d="M472.90,813.71 L473.23,810.58 L473.57,811.17 L473.90,811.79 L474.23,811.01 L474.57,812.62 L474.90,810.72 L475.23,813.67 L475.57,811.69 L475.90,810.81 L476.23,814.23 L476.57,812.33 L476.90,812.17 L477.23,810.31 L477.57,812.27 L477.90,815.54 L478.23,813.97 L478.57,813.56 L478.90,812.65 L479.23,814.08 L479.57,813.53 L479.90,814.58 L480.23,817.05 L480.57,811.21 L480.90,815.91 L481.23,813.22 L481.57,811.95 L481.90,815.44 L482.23,811.98 L482.57,811.76 L482.90,814.56 L483.23,813.90 L483.57,814.33 L483.90,814.83 L484.23,814.52 L484.57,813.81 L484.90,815.02 L485.23,814.95 L485.57,814.97 L485.90,813.91 L486.23,813.82 L486.57,815.02 L486.90,814.86 L487.23,812.87 L487.57,815.70 L487.90,813.20 L488.23,815.12 L488.57,813.62 L488.90,814.97 L489.23,814.53 L489.57,817.76 L489.90,815.04 L490.23,814.81 L490.57,814.53 L490.90,814.48 L491.23,813.78 L491.57,815.68 L491.90,815.37 L492.23,815.05 L492.57,813.69 L492.90,814.38 L493.23,814.02 L493.57,814.51 L493.90,812.02 L494.23,812.45 L494.57,815.39 L494.90,815.28 L495.23,813.26 L495.57,814.94 L495.90,813.35 L496.23,812.99 L496.57,814.15 L496.90,814.64 L497.23,813.60 L497.57,813.22 L497.90,812.57 L498.23,813.36 L498.57,814.87 L498.90,814.43 L499.23,815.79 L499.57,815.55 L499.90,814.21 L500.23,813.03 L500.57,814.24 L500.90,813.36 L501.23,813.53 L501.57,812.82 L501.90,812.26 L502.23,813.34 L502.57,812.63 L502.90,814.52 L503.23,811.21 L503.57,814.38 L503.90,811.63 L504.23,811.88 L504.57,813.75 L504.90,811.02 L505.23,811.19 L505.57,813.98 L505.90,811.35 L506.23,811.91 L506.57,813.22 L506.90,811.28 L507.23,810.89 L507.57,811.39 L507.90,810.00 L508.23,809.90 L508.57,811.88 L508.90,809.84 L509.23,810.53 L509.57,807.64 L509.90,809.58 L510.23,806.76 L510.57,806.61 L510.90,805.44 L511.23,806.97 L511.57,807.79 L511.90,809.93 L512.23,802.75 L512.57,804.46 L512.90,803.49 L513.23,804.14 L513.57,802.65 L513.90,801.07 L514.23,798.93 L514.57,800.15 L514.90,801.91 L515.23,795.36 L515.57,794.58 L515.90,797.02 L516.23,792.27 L516.57,791.81 L516.90,788.57 L517.23,791.16 L517.57,785.15 L517.90,788.25 L518.23,786.06 L518.57,782.39 L518.90,782.77 L519.23,773.85 L519.57,776.40 L519.90,770.64 L520.23,772.50 L520.57,767.91 L520.90,769.78 L521.23,763.38 L521.57,758.54 L521.90,757.14 L522.23,756.88 L522.57,753.78 L522.90,752.48 L523.23,748.61 L523.57,749.50 L523.90,740.75 L524.23,737.25 L524.57,737.57 L524.90,735.53 L525.23,732.71 L525.57,733.34 L525.90,731.52 L526.23,729.10 L526.57,722.59 L526.90,718.20 L527.23,714.63 L527.57,713.10 L527.90,710.68 L528.23,709.25 L528.57,714.29 L528.90,722.89 L529.23,720.51 L529.57,720.42 L529.90,725.59 L530.23,728.83 L530.57,731.67 L530.90,735.17 L531.23,736.51 L531.57,740.08 L531.90,742.82 L532.23,744.40 L532.57,747.89 L532.90,749.49 L533.23,755.21 L533.57,756.87 L533.90,762.69 L534.23,762.24 L534.57,767.86 L534.90,769.05 L535.23,772.10 L535.57,773.91 L535.90,781.38 L536.23,781.50 L536.57,784.63 L536.90,789.67 L537.23,790.84 L537.57,796.54 L537.90,797.99 L538.23,802.34 L538.57,803.82 L538.90,806.44 L539.23,808.09 L539.57,809.77 L539.90,808.96 L540.23,811.00 L540.57,813.83 L540.90,814.98 L541.23,813.27 L541.57,817.22 L541.90,812.96 L542.23,816.01 L542.57,817.32 L542.90,816.44 L543.23,813.80 L543.57,816.93 L543.90,816.25 L544.23,816.90 L544.57,817.23 L544.90,819.43 L545.23,816.57 L545.57,816.80 L545.90,818.24 L546.23,817.73 L546.57,818.25 L546.90,817.21 L547.23,817.89 L547.57,817.82 L547.90,817.52 L548.23,817.51 L548.57,818.70 L548.90,818.68 L549.23,818.30 L549.57,818.72 L549.90,819.75 L550.23,819.06 L550.57,819.19 L550.90,819.80 L551.23,819.42 L551.57,819.67 L551.90,819.08 L552.23,818.74 L552.57,819.30 L552.90,819.65 L553.23,819.26 L553.57,819.66 L553.90,818.29 L554.23,818.61 L554.57,819.52 L554.90,819.57 L555.23,819.61 L555.57,819.65 L555.90,819.69 L556.23,819.73" fill="none" stroke="#000" stroke-width="1.7" stroke-linejoin="round"/>
<text x="65.2" y="749.25" text-anchor="middle" font-size="23" font-weight="bold" fill="#1c1c1c">30 nM</text>
<text x="65.2" y="776.45" text-anchor="middle" font-size="23" font-weight="bold" fill="#1c1c1c">SB-T-12853</text>
<text x="771.0" y="749.25" text-anchor="middle" font-size="23" font-weight="bold" fill="#1c1c1c">300 nM</text>
<text x="771.0" y="776.45" text-anchor="middle" font-size="23" font-weight="bold" fill="#1c1c1c">SB-T-12853</text>
<path d="M186.50,1013.7 L186.50,1011.43 L186.83,1012.01 L187.17,1011.33 L187.50,1011.78 L187.83,1011.24 L188.17,1011.55 L188.50,1011.94 L188.83,1011.60 L189.17,1011.63 L189.50,1011.43 L189.83,1011.27 L190.17,1012.36 L190.50,1010.77 L190.83,1011.29 L191.17,1011.94 L191.50,1010.70 L191.83,1010.82 L192.17,1010.93 L192.50,1010.62 L192.83,1010.90 L193.17,1011.02 L193.50,1010.84 L193.83,1010.38 L194.17,1011.24 L194.50,1010.31 L194.83,1010.37 L195.17,1010.67 L195.50,1010.29 L195.83,1011.07 L196.17,1009.72 L196.50,1010.85 L196.83,1010.51 L197.17,1010.11 L197.50,1010.66 L197.83,1009.97 L198.17,1010.16 L198.50,1009.66 L198.83,1009.42 L199.17,1010.86 L199.50,1009.67 L199.83,1010.14 L200.17,1010.67 L200.50,1009.98 L200.83,1009.25 L201.17,1009.63 L201.50,1009.42 L201.83,1009.74 L202.17,1009.32 L202.50,1009.27 L202.83,1009.43 L203.17,1009.37 L203.50,1009.42 L203.83,1009.09 L204.17,1010.08 L204.50,1009.25 L204.83,1009.99 L205.17,1009.39 L205.50,1008.54 L205.83,1008.88 L206.17,1008.82 L206.50,1007.81 L206.83,1009.06 L207.17,1009.49 L207.50,1008.79 L207.83,1007.55 L208.17,1009.21 L208.50,1007.88 L208.83,1008.40 L209.17,1008.92 L209.50,1008.73 L209.83,1008.73 L210.17,1007.89 L210.50,1008.50 L210.83,1007.84 L211.17,1008.41 L211.50,1008.19 L211.83,1008.13 L212.17,1008.83 L212.50,1007.34 L212.83,1007.92 L213.17,1007.18 L213.50,1008.00 L213.83,1007.93 L214.17,1007.32 L214.50,1008.03 L214.83,1007.65 L215.17,1006.63 L215.50,1008.78 L215.83,1008.14 L216.17,1007.13 L216.50,1007.77 L216.83,1008.22 L217.17,1007.32 L217.50,1007.27 L217.83,1007.10 L218.17,1006.48 L218.50,1006.55 L218.83,1007.05 L219.17,1007.00 L219.50,1006.67 L219.83,1006.70 L220.17,1006.58 L220.50,1006.78 L220.83,1006.49 L221.17,1005.73 L221.50,1006.22 L221.83,1006.40 L222.17,1005.20 L222.50,1005.40 L222.83,1005.88 L223.17,1006.14 L223.50,1005.88 L223.83,1006.42 L224.17,1004.70 L224.50,1005.10 L224.83,1006.51 L225.17,1005.82 L225.50,1005.19 L225.83,1005.66 L226.17,1005.44 L226.50,1005.42 L226.83,1005.30 L227.17,1004.75 L227.50,1004.95 L227.83,1005.54 L228.17,1004.52 L228.50,1003.98 L228.83,1004.51 L229.17,1003.52 L229.50,1003.54 L229.83,1005.16 L230.17,1004.85 L230.50,1003.18 L230.83,1003.92 L231.17,1003.89 L231.50,1004.54 L231.83,1003.85 L232.17,1005.15 L232.50,1003.76 L232.83,1004.02 L233.17,1004.14 L233.50,1003.68 L233.83,1002.63 L234.17,1003.71 L234.50,1003.61 L234.83,1002.65 L235.17,1002.17 L235.50,1002.55 L235.83,1003.74 L236.17,1003.08 L236.50,1002.68 L236.83,1001.74 L237.17,1002.60 L237.50,1002.43 L237.83,1002.10 L238.17,1001.52 L238.50,1002.00 L238.83,1001.64 L239.17,1000.82 L239.50,1001.50 L239.83,1001.08 L240.17,1001.89 L240.50,1000.61 L240.83,999.73 L241.17,1001.32 L241.50,1000.78 L241.83,1000.73 L242.17,1000.58 L242.50,1000.61 L242.83,1001.31 L243.17,1001.52 L243.50,1000.92 L243.83,1001.11 L244.17,999.67 L244.50,999.65 L244.83,999.76 L245.17,1000.34 L245.50,999.28 L245.83,999.21 L246.17,1000.43 L246.50,1000.68 L246.83,999.20 L247.17,1000.98 L247.50,1000.48 L247.83,999.07 L248.17,999.50 L248.50,1000.22 L248.83,999.18 L249.17,999.15 L249.50,999.50 L249.83,1000.34 L250.17,998.63 L250.50,999.05 L250.83,998.41 L251.17,998.19 L251.50,999.90 L251.83,999.61 L252.17,998.33 L252.50,998.62 L252.83,999.04 L253.17,998.86 L253.50,999.68 L253.83,999.11 L254.17,996.97 L254.50,997.38 L254.83,998.79 L255.17,998.02 L255.50,999.29 L255.83,998.83 L256.17,999.03 L256.50,999.68 L256.83,998.64 L257.17,997.54 L257.50,998.31 L257.83,998.76 L258.17,998.01 L258.50,997.93 L258.83,999.83 L259.17,997.75 L259.50,998.62 L259.83,998.67 L260.17,997.39 L260.50,996.70 L260.83,996.89 L261.17,997.50 L261.50,996.40 L261.83,996.86 L262.17,994.64 L262.50,995.87 L262.83,994.12 L263.17,993.29 L263.50,993.04 L263.83,992.21 L264.17,992.80 L264.50,991.80 L264.83,990.95 L265.17,991.93 L265.50,990.57 L265.83,989.76 L266.17,989.24 L266.50,987.85 L266.83,987.92 L267.17,987.43 L267.50,987.24 L267.83,986.01 L268.17,984.76 L268.50,984.62 L268.83,983.43 L269.17,981.25 L269.50,982.31 L269.83,979.66 L270.17,978.76 L270.50,978.52 L270.83,977.73 L271.17,976.81 L271.50,974.56 L271.83,974.58 L272.17,972.83 L272.50,970.49 L272.83,969.44 L273.17,968.61 L273.50,968.33 L273.83,967.44 L274.17,964.83 L274.50,963.31 L274.83,962.96 L275.17,962.38 L275.50,959.88 L275.83,959.30 L276.17,957.19 L276.50,955.85 L276.83,953.48 L277.17,952.84 L277.50,951.23 L277.83,947.30 L278.17,948.88 L278.50,946.96 L278.83,945.83 L279.17,944.23 L279.50,943.23 L279.83,942.80 L280.17,943.11 L280.50,938.80 L280.83,939.46 L281.17,938.63 L281.50,936.59 L281.83,934.73 L282.17,934.46 L282.50,936.98 L282.83,935.30 L283.17,933.07 L283.50,933.89 L283.83,934.36 L284.17,935.02 L284.50,936.83 L284.83,935.28 L285.17,936.03 L285.50,937.59 L285.83,940.32 L286.17,941.21 L286.50,944.60 L286.83,945.39 L287.17,946.52 L287.50,950.37 L287.83,951.36 L288.17,952.85 L288.50,954.18 L288.83,955.86 L289.17,958.96 L289.50,961.05 L289.83,961.15 L290.17,966.78 L290.50,966.65 L290.83,970.51 L291.17,971.11 L291.50,972.95 L291.83,976.55 L292.17,978.53 L292.50,981.83 L292.83,982.91 L293.17,985.27 L293.50,987.54 L293.83,990.44 L294.17,990.81 L294.50,993.17 L294.83,994.05 L295.17,997.70 L295.50,998.82 L295.83,999.45 L296.17,1001.14 L296.50,1002.20 L296.83,1002.95 L297.17,1003.85 L297.50,1005.35 L297.83,1005.71 L298.17,1007.71 L298.50,1008.29 L298.83,1008.71 L299.17,1009.45 L299.50,1009.78 L299.83,1011.17 L300.17,1010.47 L300.50,1010.81 L300.83,1012.00 L301.17,1012.58 L301.50,1012.70 L301.83,1012.68 L302.17,1012.73 L302.50,1013.57 L302.83,1013.10 L303.17,1013.70 L303.50,1013.52 L303.83,1013.68 L303.83,1013.7 Z" fill="#cbd3dd" stroke="none"/>
<line x1="186.0" y1="888.8" x2="186.0" y2="1013.7" stroke="#7a7a7a" stroke-width="1"/>
<line x1="184.4" y1="888.80" x2="186.0" y2="888.80" stroke="#7a7a7a" stroke-width="1"/>
<line x1="184.4" y1="920.02" x2="186.0" y2="920.02" stroke="#7a7a7a" stroke-width="1"/>
<line x1="184.4" y1="951.25" x2="186.0" y2="951.25" stroke="#7a7a7a" stroke-width="1"/>
<line x1="184.4" y1="982.48" x2="186.0" y2="982.48" stroke="#7a7a7a" stroke-width="1"/>
<line x1="184.4" y1="1013.70" x2="186.0" y2="1013.70" stroke="#7a7a7a" stroke-width="1"/>
<line x1="186.0" y1="1013.7" x2="396.5" y2="1013.7" stroke="#7a7a7a" stroke-width="1"/>
<line x1="186.00" y1="1013.7" x2="186.00" y2="1016.7" stroke="#7a7a7a" stroke-width="1"/>
<line x1="201.84" y1="1013.7" x2="201.84" y2="1015.7" stroke="#7a7a7a" stroke-width="1"/>
<line x1="211.11" y1="1013.7" x2="211.11" y2="1015.7" stroke="#7a7a7a" stroke-width="1"/>
<line x1="217.68" y1="1013.7" x2="217.68" y2="1015.7" stroke="#7a7a7a" stroke-width="1"/>
<line x1="222.78" y1="1013.7" x2="222.78" y2="1015.7" stroke="#7a7a7a" stroke-width="1"/>
<line x1="226.95" y1="1013.7" x2="226.95" y2="1015.7" stroke="#7a7a7a" stroke-width="1"/>
<line x1="230.47" y1="1013.7" x2="230.47" y2="1015.7" stroke="#7a7a7a" stroke-width="1"/>
<line x1="233.53" y1="1013.7" x2="233.53" y2="1015.7" stroke="#7a7a7a" stroke-width="1"/>
<line x1="236.22" y1="1013.7" x2="236.22" y2="1015.7" stroke="#7a7a7a" stroke-width="1"/>
<line x1="238.62" y1="1013.7" x2="238.62" y2="1016.7" stroke="#7a7a7a" stroke-width="1"/>
<line x1="254.47" y1="1013.7" x2="254.47" y2="1015.7" stroke="#7a7a7a" stroke-width="1"/>
<line x1="263.73" y1="1013.7" x2="263.73" y2="1015.7" stroke="#7a7a7a" stroke-width="1"/>
<line x1="270.31" y1="1013.7" x2="270.31" y2="1015.7" stroke="#7a7a7a" stroke-width="1"/>
<line x1="275.41" y1="1013.7" x2="275.41" y2="1015.7" stroke="#7a7a7a" stroke-width="1"/>
<line x1="279.58" y1="1013.7" x2="279.58" y2="1015.7" stroke="#7a7a7a" stroke-width="1"/>
<line x1="283.10" y1="1013.7" x2="283.10" y2="1015.7" stroke="#7a7a7a" stroke-width="1"/>
<line x1="286.15" y1="1013.7" x2="286.15" y2="1015.7" stroke="#7a7a7a" stroke-width="1"/>
<line x1="288.84" y1="1013.7" x2="288.84" y2="1015.7" stroke="#7a7a7a" stroke-width="1"/>
<line x1="291.25" y1="1013.7" x2="291.25" y2="1016.7" stroke="#7a7a7a" stroke-width="1"/>
<line x1="307.09" y1="1013.7" x2="307.09" y2="1015.7" stroke="#7a7a7a" stroke-width="1"/>
<line x1="316.36" y1="1013.7" x2="316.36" y2="1015.7" stroke="#7a7a7a" stroke-width="1"/>
<line x1="322.93" y1="1013.7" x2="322.93" y2="1015.7" stroke="#7a7a7a" stroke-width="1"/>
<line x1="328.03" y1="1013.7" x2="328.03" y2="1015.7" stroke="#7a7a7a" stroke-width="1"/>
<line x1="332.20" y1="1013.7" x2="332.20" y2="1015.7" stroke="#7a7a7a" stroke-width="1"/>
<line x1="335.72" y1="1013.7" x2="335.72" y2="1015.7" stroke="#7a7a7a" stroke-width="1"/>
<line x1="338.78" y1="1013.7" x2="338.78" y2="1015.7" stroke="#7a7a7a" stroke-width="1"/>
<line x1="341.47" y1="1013.7" x2="341.47" y2="1015.7" stroke="#7a7a7a" stroke-width="1"/>
<line x1="343.88" y1="1013.7" x2="343.88" y2="1016.7" stroke="#7a7a7a" stroke-width="1"/>
<line x1="359.72" y1="1013.7" x2="359.72" y2="1015.7" stroke="#7a7a7a" stroke-width="1"/>
<line x1="368.98" y1="1013.7" x2="368.98" y2="1015.7" stroke="#7a7a7a" stroke-width="1"/>
<line x1="375.56" y1="1013.7" x2="375.56" y2="1015.7" stroke="#7a7a7a" stroke-width="1"/>
<line x1="380.66" y1="1013.7" x2="380.66" y2="1015.7" stroke="#7a7a7a" stroke-width="1"/>
<line x1="384.83" y1="1013.7" x2="384.83" y2="1015.7" stroke="#7a7a7a" stroke-width="1"/>
<line x1="388.35" y1="1013.7" x2="388.35" y2="1015.7" stroke="#7a7a7a" stroke-width="1"/>
<line x1="391.40" y1="1013.7" x2="391.40" y2="1015.7" stroke="#7a7a7a" stroke-width="1"/>
<line x1="394.09" y1="1013.7" x2="394.09" y2="1015.7" stroke="#7a7a7a" stroke-width="1"/>
<line x1="396.50" y1="1013.7" x2="396.50" y2="1016.7" stroke="#7a7a7a" stroke-width="1"/>
<text transform="translate(180.3,887.6999999999999) rotate(-90)" text-anchor="middle" font-size="14.6" fill="#1c1c1c">256</text>
<text transform="translate(180.7,1013.9000000000001) rotate(-90)" text-anchor="middle" font-size="15" fill="#1c1c1c">0</text>
<text transform="translate(168.5,951.25) rotate(-90)" text-anchor="middle" font-size="15" fill="#1c1c1c">Events</text>
<text x="179.70" y="1029.00" font-size="14" fill="#1c1c1c">10<tspan font-size="9.5" dy="-5.3" dx="0.3">0</tspan></text>
<text x="232.32" y="1029.00" font-size="14" fill="#1c1c1c">10<tspan font-size="9.5" dy="-5.3" dx="0.3">1</tspan></text>
<text x="284.95" y="1029.00" font-size="14" fill="#1c1c1c">10<tspan font-size="9.5" dy="-5.3" dx="0.3">2</tspan></text>
<text x="337.57" y="1029.00" font-size="14" fill="#1c1c1c">10<tspan font-size="9.5" dy="-5.3" dx="0.3">3</tspan></text>
<text x="390.20" y="1029.00" font-size="14" fill="#1c1c1c">10<tspan font-size="9.5" dy="-5.3" dx="0.3">4</tspan></text>
<text x="291.75" y="1045.00" text-anchor="middle" font-size="14" letter-spacing="0.5" fill="#1c1c1c">FL1-H</text>
<path d="M186.50,1011.43 L186.83,1012.01 L187.17,1011.33 L187.50,1011.78 L187.83,1011.24 L188.17,1011.55 L188.50,1011.94 L188.83,1011.60 L189.17,1011.63 L189.50,1011.43 L189.83,1011.27 L190.17,1012.36 L190.50,1010.77 L190.83,1011.29 L191.17,1011.94 L191.50,1010.70 L191.83,1010.82 L192.17,1010.93 L192.50,1010.62 L192.83,1010.90 L193.17,1011.02 L193.50,1010.84 L193.83,1010.38 L194.17,1011.24 L194.50,1010.31 L194.83,1010.37 L195.17,1010.67 L195.50,1010.29 L195.83,1011.07 L196.17,1009.72 L196.50,1010.85 L196.83,1010.51 L197.17,1010.11 L197.50,1010.66 L197.83,1009.97 L198.17,1010.16 L198.50,1009.66 L198.83,1009.42 L199.17,1010.86 L199.50,1009.67 L199.83,1010.14 L200.17,1010.67 L200.50,1009.98 L200.83,1009.25 L201.17,1009.63 L201.50,1009.42 L201.83,1009.74 L202.17,1009.32 L202.50,1009.27 L202.83,1009.43 L203.17,1009.37 L203.50,1009.42 L203.83,1009.09 L204.17,1010.08 L204.50,1009.25 L204.83,1009.99 L205.17,1009.39 L205.50,1008.54 L205.83,1008.88 L206.17,1008.82 L206.50,1007.81 L206.83,1009.06 L207.17,1009.49 L207.50,1008.79 L207.83,1007.55 L208.17,1009.21 L208.50,1007.88 L208.83,1008.40 L209.17,1008.92 L209.50,1008.73 L209.83,1008.73 L210.17,1007.89 L210.50,1008.50 L210.83,1007.84 L211.17,1008.41 L211.50,1008.19 L211.83,1008.13 L212.17,1008.83 L212.50,1007.34 L212.83,1007.92 L213.17,1007.18 L213.50,1008.00 L213.83,1007.93 L214.17,1007.32 L214.50,1008.03 L214.83,1007.65 L215.17,1006.63 L215.50,1008.78 L215.83,1008.14 L216.17,1007.13 L216.50,1007.77 L216.83,1008.22 L217.17,1007.32 L217.50,1007.27 L217.83,1007.10 L218.17,1006.48 L218.50,1006.55 L218.83,1007.05 L219.17,1007.00 L219.50,1006.67 L219.83,1006.70 L220.17,1006.58 L220.50,1006.78 L220.83,1006.49 L221.17,1005.73 L221.50,1006.22 L221.83,1006.40 L222.17,1005.20 L222.50,1005.40 L222.83,1005.88 L223.17,1006.14 L223.50,1005.88 L223.83,1006.42 L224.17,1004.70 L224.50,1005.10 L224.83,1006.51 L225.17,1005.82 L225.50,1005.19 L225.83,1005.66 L226.17,1005.44 L226.50,1005.42 L226.83,1005.30 L227.17,1004.75 L227.50,1004.95 L227.83,1005.54 L228.17,1004.52 L228.50,1003.98 L228.83,1004.51 L229.17,1003.52 L229.50,1003.54 L229.83,1005.16 L230.17,1004.85 L230.50,1003.18 L230.83,1003.92 L231.17,1003.89 L231.50,1004.54 L231.83,1003.85 L232.17,1005.15 L232.50,1003.76 L232.83,1004.02 L233.17,1004.14 L233.50,1003.68 L233.83,1002.63 L234.17,1003.71 L234.50,1003.61 L234.83,1002.65 L235.17,1002.17 L235.50,1002.55 L235.83,1003.74 L236.17,1003.08 L236.50,1002.68 L236.83,1001.74 L237.17,1002.60 L237.50,1002.43 L237.83,1002.10 L238.17,1001.52 L238.50,1002.00 L238.83,1001.64 L239.17,1000.82 L239.50,1001.50 L239.83,1001.08 L240.17,1001.89 L240.50,1000.61 L240.83,999.73 L241.17,1001.32 L241.50,1000.78 L241.83,1000.73 L242.17,1000.58 L242.50,1000.61 L242.83,1001.31 L243.17,1001.52 L243.50,1000.92 L243.83,1001.11 L244.17,999.67 L244.50,999.65 L244.83,999.76 L245.17,1000.34 L245.50,999.28 L245.83,999.21 L246.17,1000.43 L246.50,1000.68 L246.83,999.20 L247.17,1000.98 L247.50,1000.48 L247.83,999.07 L248.17,999.50 L248.50,1000.22 L248.83,999.18 L249.17,999.15 L249.50,999.50 L249.83,1000.34 L250.17,998.63 L250.50,999.05 L250.83,998.41 L251.17,998.19 L251.50,999.90 L251.83,999.61 L252.17,998.33 L252.50,998.62 L252.83,999.04 L253.17,998.86 L253.50,999.68 L253.83,999.11 L254.17,996.97 L254.50,997.38 L254.83,998.79 L255.17,998.02 L255.50,999.29 L255.83,998.83 L256.17,999.03 L256.50,999.68 L256.83,998.64 L257.17,997.54 L257.50,998.31 L257.83,998.76 L258.17,998.01 L258.50,997.93 L258.83,999.83 L259.17,997.75 L259.50,998.62 L259.83,998.67 L260.17,997.39 L260.50,996.70 L260.83,996.89 L261.17,997.50 L261.50,996.40 L261.83,996.86 L262.17,994.64 L262.50,995.87 L262.83,994.12 L263.17,993.29 L263.50,993.04 L263.83,992.21 L264.17,992.80 L264.50,991.80 L264.83,990.95 L265.17,991.93 L265.50,990.57 L265.83,989.76 L266.17,989.24 L266.50,987.85 L266.83,987.92 L267.17,987.43 L267.50,987.24 L267.83,986.01 L268.17,984.76 L268.50,984.62 L268.83,983.43 L269.17,981.25 L269.50,982.31 L269.83,979.66 L270.17,978.76 L270.50,978.52 L270.83,977.73 L271.17,976.81 L271.50,974.56 L271.83,974.58 L272.17,972.83 L272.50,970.49 L272.83,969.44 L273.17,968.61 L273.50,968.33 L273.83,967.44 L274.17,964.83 L274.50,963.31 L274.83,962.96 L275.17,962.38 L275.50,959.88 L275.83,959.30 L276.17,957.19 L276.50,955.85 L276.83,953.48 L277.17,952.84 L277.50,951.23 L277.83,947.30 L278.17,948.88 L278.50,946.96 L278.83,945.83 L279.17,944.23 L279.50,943.23 L279.83,942.80 L280.17,943.11 L280.50,938.80 L280.83,939.46 L281.17,938.63 L281.50,936.59 L281.83,934.73 L282.17,934.46 L282.50,936.98 L282.83,935.30 L283.17,933.07 L283.50,933.89 L283.83,934.36 L284.17,935.02 L284.50,936.83 L284.83,935.28 L285.17,936.03 L285.50,937.59 L285.83,940.32 L286.17,941.21 L286.50,944.60 L286.83,945.39 L287.17,946.52 L287.50,950.37 L287.83,951.36 L288.17,952.85 L288.50,954.18 L288.83,955.86 L289.17,958.96 L289.50,961.05 L289.83,961.15 L290.17,966.78 L290.50,966.65 L290.83,970.51 L291.17,971.11 L291.50,972.95 L291.83,976.55 L292.17,978.53 L292.50,981.83 L292.83,982.91 L293.17,985.27 L293.50,987.54 L293.83,990.44 L294.17,990.81 L294.50,993.17 L294.83,994.05 L295.17,997.70 L295.50,998.82 L295.83,999.45 L296.17,1001.14 L296.50,1002.20 L296.83,1002.95 L297.17,1003.85 L297.50,1005.35 L297.83,1005.71 L298.17,1007.71 L298.50,1008.29 L298.83,1008.71 L299.17,1009.45 L299.50,1009.78 L299.83,1011.17 L300.17,1010.47 L300.50,1010.81 L300.83,1012.00 L301.17,1012.58 L301.50,1012.70 L301.83,1012.68 L302.17,1012.73 L302.50,1013.57 L302.83,1013.10 L303.17,1013.70 L303.50,1013.52 L303.83,1013.68" fill="none" stroke="#404040" stroke-width="1.0" stroke-linejoin="round"/>
<line x1="186.30" y1="1013.7" x2="186.30" y2="950.98" stroke="#111" stroke-width="1.8"/>
<path d="M187.00,1008.77 L187.33,1007.28 L187.67,1009.99 L188.00,1007.80 L188.33,1009.15 L188.67,1011.03 L189.00,1010.83 L189.33,1009.13 L189.67,1009.20 L190.00,1006.37 L190.33,1008.87 L190.67,1007.80 L191.00,1006.84 L191.33,1010.17 L191.67,1009.22 L192.00,1009.09 L192.33,1007.65 L192.67,1006.69 L193.00,1006.26 L193.33,1009.02 L193.67,1007.91 L194.00,1008.07 L194.33,1008.47 L194.67,1008.13 L195.00,1007.16 L195.33,1009.07 L195.67,1006.99 L196.00,1007.92 L196.33,1005.06 L196.67,1006.53 L197.00,1008.76 L197.33,1005.81 L197.67,1007.47 L198.00,1004.97 L198.33,1007.74 L198.67,1007.02 L199.00,1006.49 L199.33,1004.75 L199.67,1005.68 L200.00,1005.38 L200.33,1006.37 L200.67,1006.51 L201.00,1006.28 L201.33,1006.60 L201.67,1007.29 L202.00,1004.81 L202.33,1005.76 L202.67,1008.39 L203.00,1005.26 L203.33,1007.54 L203.67,1005.64 L204.00,1003.27 L204.33,1006.41 L204.67,1005.93 L205.00,1005.36 L205.33,1004.84 L205.67,1005.33 L206.00,1005.68 L206.33,1005.93 L206.67,1002.96 L207.00,1006.10 L207.33,1004.72 L207.67,1005.48 L208.00,1004.59 L208.33,1004.63 L208.67,1003.02 L209.00,1004.23 L209.33,1001.08 L209.67,1005.08 L210.00,1002.89 L210.33,1006.93 L210.67,1003.40 L211.00,1002.56 L211.33,1002.97 L211.67,1006.29 L212.00,1001.12 L212.33,1003.22 L212.67,1004.78 L213.00,1004.54 L213.33,1004.65 L213.67,1003.94 L214.00,1004.32 L214.33,1001.97 L214.67,1003.16 L215.00,1003.14 L215.33,1002.89 L215.67,1003.10 L216.00,1004.43 L216.33,1002.12 L216.67,1004.02 L217.00,1003.60 L217.33,1001.99 L217.67,1001.03 L218.00,1001.73 L218.33,1003.53 L218.67,1003.58 L219.00,1001.76 L219.33,1002.36 L219.67,1001.90 L220.00,1003.69 L220.33,1001.35 L220.67,1001.89 L221.00,1000.65 L221.33,1004.32 L221.67,1003.33 L222.00,1003.03 L222.33,1001.10 L222.67,1002.66 L223.00,1002.22 L223.33,1001.44 L223.67,1001.50 L224.00,999.04 L224.33,999.93 L224.67,1002.45 L225.00,996.91 L225.33,1001.43 L225.67,1001.35 L226.00,1002.09 L226.33,1000.41 L226.67,999.67 L227.00,998.11 L227.33,1001.83 L227.67,1001.77 L228.00,999.54 L228.33,997.00 L228.67,997.85 L229.00,1000.93 L229.33,1000.45 L229.67,999.05 L230.00,999.37 L230.33,998.03 L230.67,999.87 L231.00,998.88 L231.33,998.36 L231.67,997.35 L232.00,998.61 L232.33,997.03 L232.67,996.33 L233.00,996.76 L233.33,999.01 L233.67,992.94 L234.00,992.66 L234.33,994.01 L234.67,990.91 L235.00,993.54 L235.33,992.76 L235.67,992.65 L236.00,996.77 L236.33,993.64 L236.67,990.74 L237.00,990.81 L237.33,991.00 L237.67,990.42 L238.00,990.78 L238.33,991.07 L238.67,990.72 L239.00,987.99 L239.33,984.97 L239.67,987.87 L240.00,983.53 L240.33,986.43 L240.67,984.09 L241.00,983.75 L241.33,985.79 L241.67,981.98 L242.00,982.47 L242.33,982.27 L242.67,980.23 L243.00,974.65 L243.33,975.19 L243.67,975.98 L244.00,973.62 L244.33,974.00 L244.67,972.58 L245.00,968.28 L245.33,967.81 L245.67,965.38 L246.00,964.15 L246.33,960.83 L246.67,959.66 L247.00,958.87 L247.33,958.87 L247.67,953.36 L248.00,951.93 L248.33,950.74 L248.67,947.69 L249.00,945.68 L249.33,945.81 L249.67,943.45 L250.00,944.75 L250.33,943.29 L250.67,941.41 L251.00,939.85 L251.33,934.71 L251.67,929.73 L252.00,925.19 L252.33,918.21 L252.67,914.99 L253.00,916.66 L253.33,920.30 L253.67,923.71 L254.00,929.88 L254.33,928.73 L254.67,932.90 L255.00,936.57 L255.33,937.26 L255.67,934.99 L256.00,937.66 L256.33,941.69 L256.67,936.51 L257.00,942.05 L257.33,946.59 L257.67,946.65 L258.00,952.66 L258.33,949.20 L258.67,952.70 L259.00,956.05 L259.33,960.99 L259.67,959.29 L260.00,965.33 L260.33,965.85 L260.67,970.47 L261.00,970.39 L261.33,975.57 L261.67,976.57 L262.00,984.66 L262.33,984.30 L262.67,986.77 L263.00,987.68 L263.33,988.29 L263.67,990.94 L264.00,994.41 L264.33,993.47 L264.67,1000.45 L265.00,1003.98 L265.33,1001.76 L265.67,1002.29 L266.00,1003.18 L266.33,1005.40 L266.67,1006.96 L267.00,1008.74 L267.33,1007.83 L267.67,1007.66 L268.00,1009.14 L268.33,1007.91 L268.67,1010.19 L269.00,1011.48 L269.33,1011.01 L269.67,1010.29 L270.00,1010.60 L270.33,1012.17 L270.67,1011.36 L271.00,1011.34 L271.33,1011.93 L271.67,1013.19 L272.00,1011.93 L272.33,1011.59 L272.67,1013.70 L273.00,1012.98 L273.33,1012.81 L273.67,1013.49 L274.00,1013.39 L274.33,1012.62 L274.67,1013.70 L275.00,1013.70 L275.33,1013.70 L275.67,1012.42 L276.00,1013.46" fill="none" stroke="#000" stroke-width="1.7" stroke-linejoin="round"/>
<path d="M472.70,1013.7 L472.70,1010.06 L473.03,1010.21 L473.37,1010.19 L473.70,1009.92 L474.03,1010.54 L474.37,1010.17 L474.70,1010.30 L475.03,1010.02 L475.37,1011.14 L475.70,1010.09 L476.03,1010.77 L476.37,1010.67 L476.70,1010.38 L477.03,1010.79 L477.37,1010.43 L477.70,1010.08 L478.03,1010.31 L478.37,1010.45 L478.70,1010.75 L479.03,1010.48 L479.37,1010.40 L479.70,1010.47 L480.03,1010.16 L480.37,1009.94 L480.70,1010.07 L481.03,1010.61 L481.37,1010.47 L481.70,1009.99 L482.03,1009.67 L482.37,1009.46 L482.70,1009.96 L483.03,1010.13 L483.37,1010.69 L483.70,1010.76 L484.03,1010.47 L484.37,1010.65 L484.70,1010.54 L485.03,1009.53 L485.37,1010.14 L485.70,1010.60 L486.03,1010.09 L486.37,1010.51 L486.70,1009.92 L487.03,1010.13 L487.37,1010.29 L487.70,1010.26 L488.03,1009.81 L488.37,1010.54 L488.70,1009.84 L489.03,1010.45 L489.37,1010.12 L489.70,1009.23 L490.03,1009.16 L490.37,1010.39 L490.70,1010.53 L491.03,1009.93 L491.37,1009.72 L491.70,1009.48 L492.03,1009.57 L492.37,1010.01 L492.70,1009.87 L493.03,1009.53 L493.37,1009.16 L493.70,1009.51 L494.03,1010.26 L494.37,1008.85 L494.70,1009.88 L495.03,1009.95 L495.37,1009.57 L495.70,1010.52 L496.03,1009.04 L496.37,1009.30 L496.70,1009.13 L497.03,1009.85 L497.37,1010.06 L497.70,1009.53 L498.03,1008.96 L498.37,1009.79 L498.70,1010.10 L499.03,1008.65 L499.37,1009.21 L499.70,1009.26 L500.03,1009.32 L500.37,1009.23 L500.70,1009.78 L501.03,1009.07 L501.37,1008.87 L501.70,1009.10 L502.03,1009.12 L502.37,1008.24 L502.70,1007.88 L503.03,1008.67 L503.37,1009.10 L503.70,1008.91 L504.03,1008.09 L504.37,1008.23 L504.70,1008.62 L505.03,1009.21 L505.37,1009.32 L505.70,1007.06 L506.03,1007.97 L506.37,1007.93 L506.70,1007.91 L507.03,1007.81 L507.37,1007.98 L507.70,1007.19 L508.03,1007.00 L508.37,1006.90 L508.70,1006.03 L509.03,1007.64 L509.37,1006.02 L509.70,1005.71 L510.03,1005.84 L510.37,1006.72 L510.70,1004.77 L511.03,1005.68 L511.37,1004.37 L511.70,1003.99 L512.03,1004.58 L512.37,1002.71 L512.70,1003.41 L513.03,1002.71 L513.37,1002.53 L513.70,1002.68 L514.03,1002.15 L514.37,1000.79 L514.70,1002.17 L515.03,1000.48 L515.37,1001.00 L515.70,1000.18 L516.03,1000.36 L516.37,999.53 L516.70,998.99 L517.03,998.07 L517.37,996.68 L517.70,996.32 L518.03,997.59 L518.37,997.12 L518.70,996.35 L519.03,995.81 L519.37,995.20 L519.70,994.02 L520.03,994.09 L520.37,993.40 L520.70,993.11 L521.03,992.38 L521.37,992.65 L521.70,992.82 L522.03,993.21 L522.37,992.17 L522.70,991.88 L523.03,992.05 L523.37,991.36 L523.70,991.43 L524.03,991.42 L524.37,990.47 L524.70,990.50 L525.03,990.00 L525.37,988.37 L525.70,989.32 L526.03,989.05 L526.37,988.87 L526.70,988.52 L527.03,987.95 L527.37,987.65 L527.70,988.34 L528.03,987.84 L528.37,987.05 L528.70,990.07 L529.03,988.63 L529.37,987.39 L529.70,987.32 L530.03,988.14 L530.37,987.93 L530.70,988.70 L531.03,987.90 L531.37,987.33 L531.70,987.14 L532.03,985.13 L532.37,986.20 L532.70,986.03 L533.03,986.10 L533.37,985.46 L533.70,983.55 L534.03,984.50 L534.37,983.44 L534.70,982.87 L535.03,981.17 L535.37,981.84 L535.70,980.27 L536.03,981.72 L536.37,980.50 L536.70,979.22 L537.03,980.45 L537.37,977.38 L537.70,975.61 L538.03,974.46 L538.37,973.65 L538.70,972.33 L539.03,973.41 L539.37,973.20 L539.70,973.49 L540.03,974.01 L540.37,975.25 L540.70,975.81 L541.03,978.44 L541.37,978.78 L541.70,974.62 L542.03,973.78 L542.37,972.47 L542.70,969.59 L543.03,968.14 L543.37,968.46 L543.70,967.64 L544.03,967.90 L544.37,966.14 L544.70,967.72 L545.03,966.00 L545.37,965.86 L545.70,964.41 L546.03,966.05 L546.37,964.88 L546.70,966.16 L547.03,965.53 L547.37,963.88 L547.70,967.26 L548.03,966.00 L548.37,964.86 L548.70,963.71 L549.03,962.24 L549.37,964.62 L549.70,965.32 L550.03,965.13 L550.37,962.55 L550.70,963.41 L551.03,963.08 L551.37,965.14 L551.70,963.11 L552.03,965.54 L552.37,965.37 L552.70,967.10 L553.03,966.77 L553.37,968.34 L553.70,967.36 L554.03,968.25 L554.37,967.48 L554.70,968.17 L555.03,969.30 L555.37,969.51 L555.70,971.22 L556.03,970.48 L556.37,972.84 L556.70,971.45 L557.03,973.28 L557.37,971.74 L557.70,973.81 L558.03,973.72 L558.37,974.31 L558.70,975.82 L559.03,974.99 L559.37,974.51 L559.70,975.64 L560.03,976.57 L560.37,977.34 L560.70,978.80 L561.03,979.43 L561.37,980.69 L561.70,982.67 L562.03,984.73 L562.37,984.51 L562.70,987.15 L563.03,987.77 L563.37,988.59 L563.70,990.07 L564.03,991.14 L564.37,991.50 L564.70,993.55 L565.03,994.07 L565.37,993.92 L565.70,996.61 L566.03,996.14 L566.37,997.39 L566.70,999.40 L567.03,999.55 L567.37,1001.30 L567.70,1002.16 L568.03,1002.99 L568.37,1003.73 L568.70,1003.80 L569.03,1004.77 L569.37,1006.29 L569.70,1006.89 L570.03,1008.15 L570.37,1007.79 L570.70,1008.48 L571.03,1009.35 L571.37,1009.92 L571.70,1009.61 L572.03,1010.91 L572.37,1010.54 L572.70,1011.85 L573.03,1011.97 L573.37,1012.07 L573.70,1011.85 L574.03,1011.68 L574.37,1011.91 L574.70,1012.97 L575.03,1013.17 L575.37,1013.16 L575.70,1013.42 L576.03,1013.08 L576.37,1013.13 L576.70,1012.75 L577.03,1013.53 L577.37,1013.46 L577.37,1013.7 Z" fill="#cbd3dd" stroke="none"/>
<line x1="472.2" y1="888.7" x2="472.2" y2="1013.7" stroke="#7a7a7a" stroke-width="1"/>
<line x1="470.59999999999997" y1="888.70" x2="472.2" y2="888.70" stroke="#7a7a7a" stroke-width="1"/>
<line x1="470.59999999999997" y1="919.95" x2="472.2" y2="919.95" stroke="#7a7a7a" stroke-width="1"/>
<line x1="470.59999999999997" y1="951.20" x2="472.2" y2="951.20" stroke="#7a7a7a" stroke-width="1"/>
<line x1="470.59999999999997" y1="982.45" x2="472.2" y2="982.45" stroke="#7a7a7a" stroke-width="1"/>
<line x1="470.59999999999997" y1="1013.70" x2="472.2" y2="1013.70" stroke="#7a7a7a" stroke-width="1"/>
<line x1="472.2" y1="1013.7" x2="682.7" y2="1013.7" stroke="#7a7a7a" stroke-width="1"/>
<line x1="472.20" y1="1013.7" x2="472.20" y2="1016.7" stroke="#7a7a7a" stroke-width="1"/>
<line x1="488.04" y1="1013.7" x2="488.04" y2="1015.7" stroke="#7a7a7a" stroke-width="1"/>
<line x1="497.31" y1="1013.7" x2="497.31" y2="1015.7" stroke="#7a7a7a" stroke-width="1"/>
<line x1="503.88" y1="1013.7" x2="503.88" y2="1015.7" stroke="#7a7a7a" stroke-width="1"/>
<line x1="508.98" y1="1013.7" x2="508.98" y2="1015.7" stroke="#7a7a7a" stroke-width="1"/>
<line x1="513.15" y1="1013.7" x2="513.15" y2="1015.7" stroke="#7a7a7a" stroke-width="1"/>
<line x1="516.67" y1="1013.7" x2="516.67" y2="1015.7" stroke="#7a7a7a" stroke-width="1"/>
<line x1="519.73" y1="1013.7" x2="519.73" y2="1015.7" stroke="#7a7a7a" stroke-width="1"/>
<line x1="522.42" y1="1013.7" x2="522.42" y2="1015.7" stroke="#7a7a7a" stroke-width="1"/>
<line x1="524.83" y1="1013.7" x2="524.83" y2="1016.7" stroke="#7a7a7a" stroke-width="1"/>
<line x1="540.67" y1="1013.7" x2="540.67" y2="1015.7" stroke="#7a7a7a" stroke-width="1"/>
<line x1="549.93" y1="1013.7" x2="549.93" y2="1015.7" stroke="#7a7a7a" stroke-width="1"/>
<line x1="556.51" y1="1013.7" x2="556.51" y2="1015.7" stroke="#7a7a7a" stroke-width="1"/>
<line x1="561.61" y1="1013.7" x2="561.61" y2="1015.7" stroke="#7a7a7a" stroke-width="1"/>
<line x1="565.78" y1="1013.7" x2="565.78" y2="1015.7" stroke="#7a7a7a" stroke-width="1"/>
<line x1="569.30" y1="1013.7" x2="569.30" y2="1015.7" stroke="#7a7a7a" stroke-width="1"/>
<line x1="572.35" y1="1013.7" x2="572.35" y2="1015.7" stroke="#7a7a7a" stroke-width="1"/>
<line x1="575.04" y1="1013.7" x2="575.04" y2="1015.7" stroke="#7a7a7a" stroke-width="1"/>
<line x1="577.45" y1="1013.7" x2="577.45" y2="1016.7" stroke="#7a7a7a" stroke-width="1"/>
<line x1="593.29" y1="1013.7" x2="593.29" y2="1015.7" stroke="#7a7a7a" stroke-width="1"/>
<line x1="602.56" y1="1013.7" x2="602.56" y2="1015.7" stroke="#7a7a7a" stroke-width="1"/>
<line x1="609.13" y1="1013.7" x2="609.13" y2="1015.7" stroke="#7a7a7a" stroke-width="1"/>
<line x1="614.23" y1="1013.7" x2="614.23" y2="1015.7" stroke="#7a7a7a" stroke-width="1"/>
<line x1="618.40" y1="1013.7" x2="618.40" y2="1015.7" stroke="#7a7a7a" stroke-width="1"/>
<line x1="621.92" y1="1013.7" x2="621.92" y2="1015.7" stroke="#7a7a7a" stroke-width="1"/>
<line x1="624.98" y1="1013.7" x2="624.98" y2="1015.7" stroke="#7a7a7a" stroke-width="1"/>
<line x1="627.67" y1="1013.7" x2="627.67" y2="1015.7" stroke="#7a7a7a" stroke-width="1"/>
<line x1="630.08" y1="1013.7" x2="630.08" y2="1016.7" stroke="#7a7a7a" stroke-width="1"/>
<line x1="645.92" y1="1013.7" x2="645.92" y2="1015.7" stroke="#7a7a7a" stroke-width="1"/>
<line x1="655.18" y1="1013.7" x2="655.18" y2="1015.7" stroke="#7a7a7a" stroke-width="1"/>
<line x1="661.76" y1="1013.7" x2="661.76" y2="1015.7" stroke="#7a7a7a" stroke-width="1"/>
<line x1="666.86" y1="1013.7" x2="666.86" y2="1015.7" stroke="#7a7a7a" stroke-width="1"/>
<line x1="671.03" y1="1013.7" x2="671.03" y2="1015.7" stroke="#7a7a7a" stroke-width="1"/>
<line x1="674.55" y1="1013.7" x2="674.55" y2="1015.7" stroke="#7a7a7a" stroke-width="1"/>
<line x1="677.60" y1="1013.7" x2="677.60" y2="1015.7" stroke="#7a7a7a" stroke-width="1"/>
<line x1="680.29" y1="1013.7" x2="680.29" y2="1015.7" stroke="#7a7a7a" stroke-width="1"/>
<line x1="682.70" y1="1013.7" x2="682.70" y2="1016.7" stroke="#7a7a7a" stroke-width="1"/>
<text transform="translate(466.5,887.6) rotate(-90)" text-anchor="middle" font-size="14.6" fill="#1c1c1c">256</text>
<text transform="translate(466.9,1013.9000000000001) rotate(-90)" text-anchor="middle" font-size="15" fill="#1c1c1c">0</text>
<text transform="translate(454.7,951.2) rotate(-90)" text-anchor="middle" font-size="15" fill="#1c1c1c">Events</text>
<text x="465.90" y="1029.30" font-size="14" fill="#1c1c1c">10<tspan font-size="9.5" dy="-5.3" dx="0.3">0</tspan></text>
<text x="518.53" y="1029.30" font-size="14" fill="#1c1c1c">10<tspan font-size="9.5" dy="-5.3" dx="0.3">1</tspan></text>
<text x="571.15" y="1029.30" font-size="14" fill="#1c1c1c">10<tspan font-size="9.5" dy="-5.3" dx="0.3">2</tspan></text>
<text x="623.78" y="1029.30" font-size="14" fill="#1c1c1c">10<tspan font-size="9.5" dy="-5.3" dx="0.3">3</tspan></text>
<text x="676.40" y="1029.30" font-size="14" fill="#1c1c1c">10<tspan font-size="9.5" dy="-5.3" dx="0.3">4</tspan></text>
<text x="577.95" y="1045.20" text-anchor="middle" font-size="14" letter-spacing="0.5" fill="#1c1c1c">FL1-H</text>
<path d="M472.70,1010.06 L473.03,1010.21 L473.37,1010.19 L473.70,1009.92 L474.03,1010.54 L474.37,1010.17 L474.70,1010.30 L475.03,1010.02 L475.37,1011.14 L475.70,1010.09 L476.03,1010.77 L476.37,1010.67 L476.70,1010.38 L477.03,1010.79 L477.37,1010.43 L477.70,1010.08 L478.03,1010.31 L478.37,1010.45 L478.70,1010.75 L479.03,1010.48 L479.37,1010.40 L479.70,1010.47 L480.03,1010.16 L480.37,1009.94 L480.70,1010.07 L481.03,1010.61 L481.37,1010.47 L481.70,1009.99 L482.03,1009.67 L482.37,1009.46 L482.70,1009.96 L483.03,1010.13 L483.37,1010.69 L483.70,1010.76 L484.03,1010.47 L484.37,1010.65 L484.70,1010.54 L485.03,1009.53 L485.37,1010.14 L485.70,1010.60 L486.03,1010.09 L486.37,1010.51 L486.70,1009.92 L487.03,1010.13 L487.37,1010.29 L487.70,1010.26 L488.03,1009.81 L488.37,1010.54 L488.70,1009.84 L489.03,1010.45 L489.37,1010.12 L489.70,1009.23 L490.03,1009.16 L490.37,1010.39 L490.70,1010.53 L491.03,1009.93 L491.37,1009.72 L491.70,1009.48 L492.03,1009.57 L492.37,1010.01 L492.70,1009.87 L493.03,1009.53 L493.37,1009.16 L493.70,1009.51 L494.03,1010.26 L494.37,1008.85 L494.70,1009.88 L495.03,1009.95 L495.37,1009.57 L495.70,1010.52 L496.03,1009.04 L496.37,1009.30 L496.70,1009.13 L497.03,1009.85 L497.37,1010.06 L497.70,1009.53 L498.03,1008.96 L498.37,1009.79 L498.70,1010.10 L499.03,1008.65 L499.37,1009.21 L499.70,1009.26 L500.03,1009.32 L500.37,1009.23 L500.70,1009.78 L501.03,1009.07 L501.37,1008.87 L501.70,1009.10 L502.03,1009.12 L502.37,1008.24 L502.70,1007.88 L503.03,1008.67 L503.37,1009.10 L503.70,1008.91 L504.03,1008.09 L504.37,1008.23 L504.70,1008.62 L505.03,1009.21 L505.37,1009.32 L505.70,1007.06 L506.03,1007.97 L506.37,1007.93 L506.70,1007.91 L507.03,1007.81 L507.37,1007.98 L507.70,1007.19 L508.03,1007.00 L508.37,1006.90 L508.70,1006.03 L509.03,1007.64 L509.37,1006.02 L509.70,1005.71 L510.03,1005.84 L510.37,1006.72 L510.70,1004.77 L511.03,1005.68 L511.37,1004.37 L511.70,1003.99 L512.03,1004.58 L512.37,1002.71 L512.70,1003.41 L513.03,1002.71 L513.37,1002.53 L513.70,1002.68 L514.03,1002.15 L514.37,1000.79 L514.70,1002.17 L515.03,1000.48 L515.37,1001.00 L515.70,1000.18 L516.03,1000.36 L516.37,999.53 L516.70,998.99 L517.03,998.07 L517.37,996.68 L517.70,996.32 L518.03,997.59 L518.37,997.12 L518.70,996.35 L519.03,995.81 L519.37,995.20 L519.70,994.02 L520.03,994.09 L520.37,993.40 L520.70,993.11 L521.03,992.38 L521.37,992.65 L521.70,992.82 L522.03,993.21 L522.37,992.17 L522.70,991.88 L523.03,992.05 L523.37,991.36 L523.70,991.43 L524.03,991.42 L524.37,990.47 L524.70,990.50 L525.03,990.00 L525.37,988.37 L525.70,989.32 L526.03,989.05 L526.37,988.87 L526.70,988.52 L527.03,987.95 L527.37,987.65 L527.70,988.34 L528.03,987.84 L528.37,987.05 L528.70,990.07 L529.03,988.63 L529.37,987.39 L529.70,987.32 L530.03,988.14 L530.37,987.93 L530.70,988.70 L531.03,987.90 L531.37,987.33 L531.70,987.14 L532.03,985.13 L532.37,986.20 L532.70,986.03 L533.03,986.10 L533.37,985.46 L533.70,983.55 L534.03,984.50 L534.37,983.44 L534.70,982.87 L535.03,981.17 L535.37,981.84 L535.70,980.27 L536.03,981.72 L536.37,980.50 L536.70,979.22 L537.03,980.45 L537.37,977.38 L537.70,975.61 L538.03,974.46 L538.37,973.65 L538.70,972.33 L539.03,973.41 L539.37,973.20 L539.70,973.49 L540.03,974.01 L540.37,975.25 L540.70,975.81 L541.03,978.44 L541.37,978.78 L541.70,974.62 L542.03,973.78 L542.37,972.47 L542.70,969.59 L543.03,968.14 L543.37,968.46 L543.70,967.64 L544.03,967.90 L544.37,966.14 L544.70,967.72 L545.03,966.00 L545.37,965.86 L545.70,964.41 L546.03,966.05 L546.37,964.88 L546.70,966.16 L547.03,965.53 L547.37,963.88 L547.70,967.26 L548.03,966.00 L548.37,964.86 L548.70,963.71 L549.03,962.24 L549.37,964.62 L549.70,965.32 L550.03,965.13 L550.37,962.55 L550.70,963.41 L551.03,963.08 L551.37,965.14 L551.70,963.11 L552.03,965.54 L552.37,965.37 L552.70,967.10 L553.03,966.77 L553.37,968.34 L553.70,967.36 L554.03,968.25 L554.37,967.48 L554.70,968.17 L555.03,969.30 L555.37,969.51 L555.70,971.22 L556.03,970.48 L556.37,972.84 L556.70,971.45 L557.03,973.28 L557.37,971.74 L557.70,973.81 L558.03,973.72 L558.37,974.31 L558.70,975.82 L559.03,974.99 L559.37,974.51 L559.70,975.64 L560.03,976.57 L560.37,977.34 L560.70,978.80 L561.03,979.43 L561.37,980.69 L561.70,982.67 L562.03,984.73 L562.37,984.51 L562.70,987.15 L563.03,987.77 L563.37,988.59 L563.70,990.07 L564.03,991.14 L564.37,991.50 L564.70,993.55 L565.03,994.07 L565.37,993.92 L565.70,996.61 L566.03,996.14 L566.37,997.39 L566.70,999.40 L567.03,999.55 L567.37,1001.30 L567.70,1002.16 L568.03,1002.99 L568.37,1003.73 L568.70,1003.80 L569.03,1004.77 L569.37,1006.29 L569.70,1006.89 L570.03,1008.15 L570.37,1007.79 L570.70,1008.48 L571.03,1009.35 L571.37,1009.92 L571.70,1009.61 L572.03,1010.91 L572.37,1010.54 L572.70,1011.85 L573.03,1011.97 L573.37,1012.07 L573.70,1011.85 L574.03,1011.68 L574.37,1011.91 L574.70,1012.97 L575.03,1013.17 L575.37,1013.16 L575.70,1013.42 L576.03,1013.08 L576.37,1013.13 L576.70,1012.75 L577.03,1013.53 L577.37,1013.46" fill="none" stroke="#404040" stroke-width="1.0" stroke-linejoin="round"/>
<line x1="472.50" y1="1013.7" x2="472.50" y2="948.19" stroke="#111" stroke-width="1.8"/>
<path d="M473.20,1001.86 L473.53,1000.98 L473.87,1004.81 L474.20,1004.18 L474.53,1003.34 L474.87,1003.22 L475.20,1006.10 L475.53,1005.48 L475.87,1001.94 L476.20,1005.28 L476.53,1004.92 L476.87,1006.03 L477.20,1008.08 L477.53,1003.78 L477.87,1001.50 L478.20,1004.33 L478.53,1006.41 L478.87,1006.54 L479.20,1008.25 L479.53,1006.10 L479.87,1007.75 L480.20,1007.66 L480.53,1007.31 L480.87,1004.15 L481.20,1005.10 L481.53,1005.22 L481.87,1005.41 L482.20,1006.27 L482.53,1007.18 L482.87,1006.49 L483.20,1008.33 L483.53,1005.66 L483.87,1009.68 L484.20,1006.64 L484.53,1004.71 L484.87,1008.01 L485.20,1008.80 L485.53,1006.12 L485.87,1008.70 L486.20,1007.71 L486.53,1008.79 L486.87,1006.11 L487.20,1007.73 L487.53,1008.85 L487.87,1007.65 L488.20,1007.89 L488.53,1007.14 L488.87,1008.06 L489.20,1008.22 L489.53,1006.71 L489.87,1008.02 L490.20,1006.93 L490.53,1007.57 L490.87,1006.36 L491.20,1006.59 L491.53,1005.26 L491.87,1009.28 L492.20,1007.91 L492.53,1007.76 L492.87,1006.63 L493.20,1005.73 L493.53,1007.23 L493.87,1011.53 L494.20,1010.35 L494.53,1006.86 L494.87,1007.40 L495.20,1009.83 L495.53,1007.92 L495.87,1007.92 L496.20,1007.66 L496.53,1007.60 L496.87,1009.81 L497.20,1008.78 L497.53,1007.55 L497.87,1007.83 L498.20,1009.13 L498.53,1006.19 L498.87,1007.55 L499.20,1008.76 L499.53,1006.66 L499.87,1006.77 L500.20,1008.33 L500.53,1007.13 L500.87,1005.67 L501.20,1008.29 L501.53,1007.12 L501.87,1009.31 L502.20,1006.29 L502.53,1009.03 L502.87,1006.87 L503.20,1008.44 L503.53,1006.04 L503.87,1006.73 L504.20,1005.06 L504.53,1005.42 L504.87,1004.83 L505.20,1006.39 L505.53,1003.66 L505.87,1005.14 L506.20,1003.51 L506.53,1003.49 L506.87,1004.80 L507.20,1006.40 L507.53,1001.60 L507.87,1005.49 L508.20,1002.89 L508.53,1002.88 L508.87,1003.56 L509.20,1000.94 L509.53,1002.88 L509.87,999.62 L510.20,1001.12 L510.53,1000.30 L510.87,996.45 L511.20,998.30 L511.53,995.56 L511.87,996.31 L512.20,998.28 L512.53,993.91 L512.87,994.44 L513.20,992.83 L513.53,990.26 L513.87,990.77 L514.20,986.00 L514.53,988.16 L514.87,986.69 L515.20,984.41 L515.53,982.53 L515.87,984.04 L516.20,982.86 L516.53,978.94 L516.87,978.45 L517.20,974.95 L517.53,979.20 L517.87,973.12 L518.20,973.95 L518.53,968.06 L518.87,966.10 L519.20,965.77 L519.53,961.19 L519.87,958.34 L520.20,962.17 L520.53,954.26 L520.87,956.21 L521.20,954.88 L521.53,951.49 L521.87,952.69 L522.20,947.42 L522.53,947.25 L522.87,940.61 L523.20,938.32 L523.53,939.31 L523.87,939.40 L524.20,935.51 L524.53,932.16 L524.87,932.03 L525.20,931.43 L525.53,927.75 L525.87,925.09 L526.20,920.63 L526.53,917.90 L526.87,915.42 L527.20,911.79 L527.53,913.90 L527.87,912.16 L528.20,914.16 L528.53,917.52 L528.87,921.86 L529.20,923.62 L529.53,924.68 L529.87,926.08 L530.20,924.57 L530.53,931.74 L530.87,935.67 L531.20,936.92 L531.53,937.63 L531.87,945.27 L532.20,947.26 L532.53,949.29 L532.87,955.68 L533.20,957.23 L533.53,963.14 L533.87,964.05 L534.20,970.14 L534.53,973.86 L534.87,973.89 L535.20,978.06 L535.53,980.11 L535.87,983.69 L536.20,988.05 L536.53,990.83 L536.87,992.26 L537.20,995.59 L537.53,999.37 L537.87,997.60 L538.20,998.85 L538.53,1001.75 L538.87,1004.37 L539.20,1007.68 L539.53,1004.60 L539.87,1004.57 L540.20,1006.64 L540.53,1006.83 L540.87,1007.81 L541.20,1009.86 L541.53,1010.70 L541.87,1009.55 L542.20,1010.76 L542.53,1010.37 L542.87,1010.65 L543.20,1011.99 L543.53,1009.89 L543.87,1010.57 L544.20,1011.69 L544.53,1012.45 L544.87,1011.38 L545.20,1012.29 L545.53,1011.76 L545.87,1012.53 L546.20,1011.95 L546.53,1011.89 L546.87,1012.26 L547.20,1012.59 L547.53,1012.93 L547.87,1013.70 L548.20,1013.25 L548.53,1013.70 L548.87,1013.18 L549.20,1013.40 L549.53,1012.96 L549.87,1012.58 L550.20,1013.70 L550.53,1012.45 L550.87,1013.70 L551.20,1013.57 L551.53,1011.94 L551.87,1013.41 L552.20,1013.47" fill="none" stroke="#000" stroke-width="1.7" stroke-linejoin="round"/>
<text x="65.2" y="943.25" text-anchor="middle" font-size="23" font-weight="bold" fill="#1c1c1c">30 nM</text>
<text x="65.2" y="970.45" text-anchor="middle" font-size="23" font-weight="bold" fill="#1c1c1c">SB-T-12854</text>
<text x="771.0" y="943.25" text-anchor="middle" font-size="23" font-weight="bold" fill="#1c1c1c">300 nM</text>
<text x="771.0" y="970.45" text-anchor="middle" font-size="23" font-weight="bold" fill="#1c1c1c">SB-T-12854</text>
</svg>
</body></html>
